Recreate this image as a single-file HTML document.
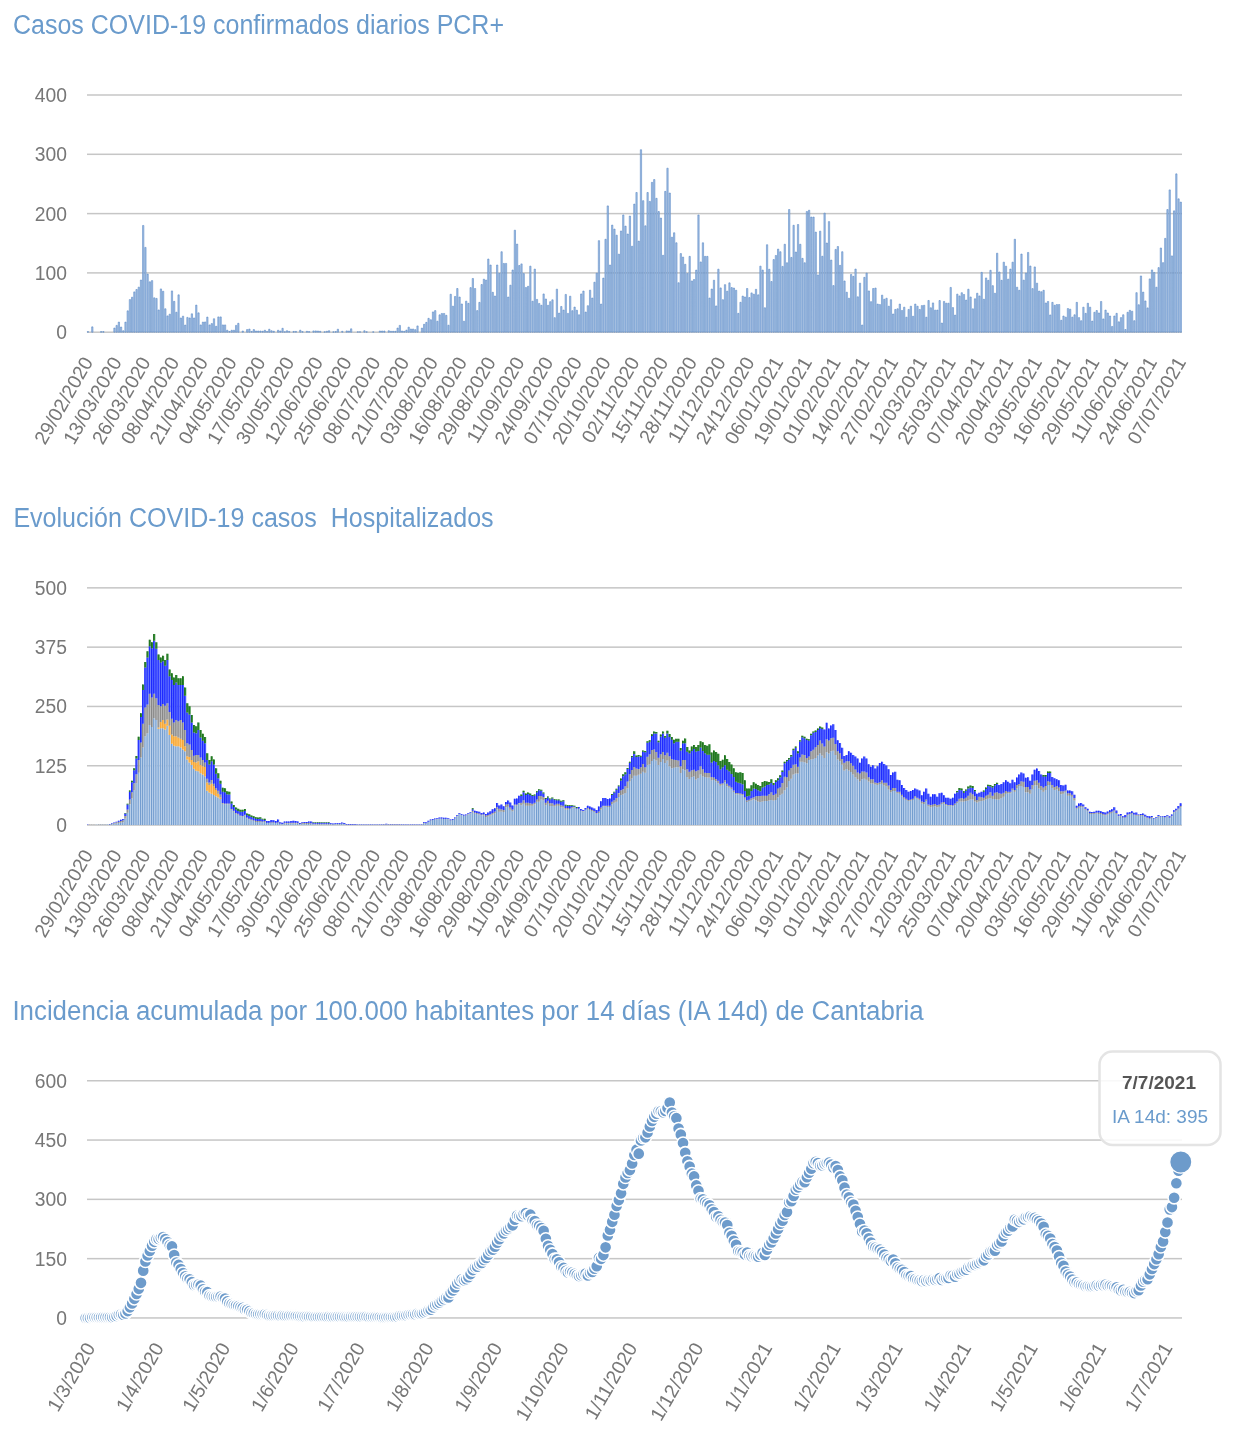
<!DOCTYPE html><html><head><meta charset="utf-8"><style>html,body{margin:0;padding:0;background:#fff;width:1243px;height:1440px;overflow:hidden}svg{position:absolute;left:0;top:0;will-change:transform}text{font-family:"Liberation Sans",sans-serif}</style></head><body><svg width="1243" height="1440" viewBox="0 0 1243 1440"><text x="13" y="34" font-size="27" fill="#6a9bcc" textLength="491" lengthAdjust="spacingAndGlyphs" style="white-space:pre">Casos COVID-19 confirmados diarios PCR+</text><text x="13.4" y="526.85" font-size="27" fill="#6a9bcc" textLength="480.2" lengthAdjust="spacingAndGlyphs" style="white-space:pre">Evolución COVID-19 casos  Hospitalizados</text><text x="12.4" y="1019.75" font-size="27" fill="#6a9bcc" textLength="911.2" lengthAdjust="spacingAndGlyphs" style="white-space:pre">Incidencia acumulada por 100.000 habitantes por 14 días (IA 14d) de Cantabria</text><rect x="87" y="94.25" width="1095" height="1.5" fill="#c6c6c6"/><text x="67" y="101.9" font-size="19.3" fill="#777777" text-anchor="end">400</text><rect x="87" y="153.55" width="1095" height="1.5" fill="#c6c6c6"/><text x="67" y="161.2" font-size="19.3" fill="#777777" text-anchor="end">300</text><rect x="87" y="212.85" width="1095" height="1.5" fill="#c6c6c6"/><text x="67" y="220.5" font-size="19.3" fill="#777777" text-anchor="end">200</text><rect x="87" y="272.15" width="1095" height="1.5" fill="#c6c6c6"/><text x="67" y="279.8" font-size="19.3" fill="#777777" text-anchor="end">100</text><rect x="87" y="331.45" width="1095" height="1.5" fill="#c6c6c6"/><text x="67" y="339.1" font-size="19.3" fill="#777777" text-anchor="end">0</text><rect x="87" y="587.1" width="1095" height="1.5" fill="#c6c6c6"/><text x="67" y="594.75" font-size="19.3" fill="#777777" text-anchor="end">500</text><rect x="87" y="646.4" width="1095" height="1.5" fill="#c6c6c6"/><text x="67" y="654.05" font-size="19.3" fill="#777777" text-anchor="end">375</text><rect x="87" y="705.7" width="1095" height="1.5" fill="#c6c6c6"/><text x="67" y="713.35" font-size="19.3" fill="#777777" text-anchor="end">250</text><rect x="87" y="765" width="1095" height="1.5" fill="#c6c6c6"/><text x="67" y="772.65" font-size="19.3" fill="#777777" text-anchor="end">125</text><rect x="87" y="824.3" width="1095" height="1.5" fill="#c6c6c6"/><text x="67" y="831.95" font-size="19.3" fill="#777777" text-anchor="end">0</text><rect x="87" y="1080" width="1095" height="1.5" fill="#c6c6c6"/><text x="67" y="1087.65" font-size="19.3" fill="#777777" text-anchor="end">600</text><rect x="87" y="1139.3" width="1095" height="1.5" fill="#c6c6c6"/><text x="67" y="1146.95" font-size="19.3" fill="#777777" text-anchor="end">450</text><rect x="87" y="1198.6" width="1095" height="1.5" fill="#c6c6c6"/><text x="67" y="1206.25" font-size="19.3" fill="#777777" text-anchor="end">300</text><rect x="87" y="1257.9" width="1095" height="1.5" fill="#c6c6c6"/><text x="67" y="1265.55" font-size="19.3" fill="#777777" text-anchor="end">150</text><rect x="87" y="1317.2" width="1095" height="1.5" fill="#c6c6c6"/><text x="67" y="1324.85" font-size="19.3" fill="#777777" text-anchor="end">0</text><text transform="translate(93.65 361.8) rotate(-60)" font-size="19.4" fill="#777777" text-anchor="end">29/02/2020</text><text transform="translate(122.41 361.8) rotate(-60)" font-size="19.4" fill="#777777" text-anchor="end">13/03/2020</text><text transform="translate(151.17 361.8) rotate(-60)" font-size="19.4" fill="#777777" text-anchor="end">26/03/2020</text><text transform="translate(179.93 361.8) rotate(-60)" font-size="19.4" fill="#777777" text-anchor="end">08/04/2020</text><text transform="translate(208.69 361.8) rotate(-60)" font-size="19.4" fill="#777777" text-anchor="end">21/04/2020</text><text transform="translate(237.45 361.8) rotate(-60)" font-size="19.4" fill="#777777" text-anchor="end">04/05/2020</text><text transform="translate(266.21 361.8) rotate(-60)" font-size="19.4" fill="#777777" text-anchor="end">17/05/2020</text><text transform="translate(294.97 361.8) rotate(-60)" font-size="19.4" fill="#777777" text-anchor="end">30/05/2020</text><text transform="translate(323.73 361.8) rotate(-60)" font-size="19.4" fill="#777777" text-anchor="end">12/06/2020</text><text transform="translate(352.49 361.8) rotate(-60)" font-size="19.4" fill="#777777" text-anchor="end">25/06/2020</text><text transform="translate(381.25 361.8) rotate(-60)" font-size="19.4" fill="#777777" text-anchor="end">08/07/2020</text><text transform="translate(410.01 361.8) rotate(-60)" font-size="19.4" fill="#777777" text-anchor="end">21/07/2020</text><text transform="translate(438.77 361.8) rotate(-60)" font-size="19.4" fill="#777777" text-anchor="end">03/08/2020</text><text transform="translate(467.53 361.8) rotate(-60)" font-size="19.4" fill="#777777" text-anchor="end">16/08/2020</text><text transform="translate(496.29 361.8) rotate(-60)" font-size="19.4" fill="#777777" text-anchor="end">29/08/2020</text><text transform="translate(525.05 361.8) rotate(-60)" font-size="19.4" fill="#777777" text-anchor="end">11/09/2020</text><text transform="translate(553.81 361.8) rotate(-60)" font-size="19.4" fill="#777777" text-anchor="end">24/09/2020</text><text transform="translate(582.57 361.8) rotate(-60)" font-size="19.4" fill="#777777" text-anchor="end">07/10/2020</text><text transform="translate(611.33 361.8) rotate(-60)" font-size="19.4" fill="#777777" text-anchor="end">20/10/2020</text><text transform="translate(640.09 361.8) rotate(-60)" font-size="19.4" fill="#777777" text-anchor="end">02/11/2020</text><text transform="translate(668.85 361.8) rotate(-60)" font-size="19.4" fill="#777777" text-anchor="end">15/11/2020</text><text transform="translate(697.61 361.8) rotate(-60)" font-size="19.4" fill="#777777" text-anchor="end">28/11/2020</text><text transform="translate(726.37 361.8) rotate(-60)" font-size="19.4" fill="#777777" text-anchor="end">11/12/2020</text><text transform="translate(755.13 361.8) rotate(-60)" font-size="19.4" fill="#777777" text-anchor="end">24/12/2020</text><text transform="translate(783.89 361.8) rotate(-60)" font-size="19.4" fill="#777777" text-anchor="end">06/01/2021</text><text transform="translate(812.65 361.8) rotate(-60)" font-size="19.4" fill="#777777" text-anchor="end">19/01/2021</text><text transform="translate(841.41 361.8) rotate(-60)" font-size="19.4" fill="#777777" text-anchor="end">01/02/2021</text><text transform="translate(870.17 361.8) rotate(-60)" font-size="19.4" fill="#777777" text-anchor="end">14/02/2021</text><text transform="translate(898.93 361.8) rotate(-60)" font-size="19.4" fill="#777777" text-anchor="end">27/02/2021</text><text transform="translate(927.69 361.8) rotate(-60)" font-size="19.4" fill="#777777" text-anchor="end">12/03/2021</text><text transform="translate(956.45 361.8) rotate(-60)" font-size="19.4" fill="#777777" text-anchor="end">25/03/2021</text><text transform="translate(985.21 361.8) rotate(-60)" font-size="19.4" fill="#777777" text-anchor="end">07/04/2021</text><text transform="translate(1013.97 361.8) rotate(-60)" font-size="19.4" fill="#777777" text-anchor="end">20/04/2021</text><text transform="translate(1042.73 361.8) rotate(-60)" font-size="19.4" fill="#777777" text-anchor="end">03/05/2021</text><text transform="translate(1071.49 361.8) rotate(-60)" font-size="19.4" fill="#777777" text-anchor="end">16/05/2021</text><text transform="translate(1100.25 361.8) rotate(-60)" font-size="19.4" fill="#777777" text-anchor="end">29/05/2021</text><text transform="translate(1129.01 361.8) rotate(-60)" font-size="19.4" fill="#777777" text-anchor="end">11/06/2021</text><text transform="translate(1157.77 361.8) rotate(-60)" font-size="19.4" fill="#777777" text-anchor="end">24/06/2021</text><text transform="translate(1186.53 361.8) rotate(-60)" font-size="19.4" fill="#777777" text-anchor="end">07/07/2021</text><text transform="translate(93.65 854.65) rotate(-60)" font-size="19.4" fill="#777777" text-anchor="end">29/02/2020</text><text transform="translate(122.41 854.65) rotate(-60)" font-size="19.4" fill="#777777" text-anchor="end">13/03/2020</text><text transform="translate(151.17 854.65) rotate(-60)" font-size="19.4" fill="#777777" text-anchor="end">26/03/2020</text><text transform="translate(179.93 854.65) rotate(-60)" font-size="19.4" fill="#777777" text-anchor="end">08/04/2020</text><text transform="translate(208.69 854.65) rotate(-60)" font-size="19.4" fill="#777777" text-anchor="end">21/04/2020</text><text transform="translate(237.45 854.65) rotate(-60)" font-size="19.4" fill="#777777" text-anchor="end">04/05/2020</text><text transform="translate(266.21 854.65) rotate(-60)" font-size="19.4" fill="#777777" text-anchor="end">17/05/2020</text><text transform="translate(294.97 854.65) rotate(-60)" font-size="19.4" fill="#777777" text-anchor="end">30/05/2020</text><text transform="translate(323.73 854.65) rotate(-60)" font-size="19.4" fill="#777777" text-anchor="end">12/06/2020</text><text transform="translate(352.49 854.65) rotate(-60)" font-size="19.4" fill="#777777" text-anchor="end">25/06/2020</text><text transform="translate(381.25 854.65) rotate(-60)" font-size="19.4" fill="#777777" text-anchor="end">08/07/2020</text><text transform="translate(410.01 854.65) rotate(-60)" font-size="19.4" fill="#777777" text-anchor="end">21/07/2020</text><text transform="translate(438.77 854.65) rotate(-60)" font-size="19.4" fill="#777777" text-anchor="end">03/08/2020</text><text transform="translate(467.53 854.65) rotate(-60)" font-size="19.4" fill="#777777" text-anchor="end">16/08/2020</text><text transform="translate(496.29 854.65) rotate(-60)" font-size="19.4" fill="#777777" text-anchor="end">29/08/2020</text><text transform="translate(525.05 854.65) rotate(-60)" font-size="19.4" fill="#777777" text-anchor="end">11/09/2020</text><text transform="translate(553.81 854.65) rotate(-60)" font-size="19.4" fill="#777777" text-anchor="end">24/09/2020</text><text transform="translate(582.57 854.65) rotate(-60)" font-size="19.4" fill="#777777" text-anchor="end">07/10/2020</text><text transform="translate(611.33 854.65) rotate(-60)" font-size="19.4" fill="#777777" text-anchor="end">20/10/2020</text><text transform="translate(640.09 854.65) rotate(-60)" font-size="19.4" fill="#777777" text-anchor="end">02/11/2020</text><text transform="translate(668.85 854.65) rotate(-60)" font-size="19.4" fill="#777777" text-anchor="end">15/11/2020</text><text transform="translate(697.61 854.65) rotate(-60)" font-size="19.4" fill="#777777" text-anchor="end">28/11/2020</text><text transform="translate(726.37 854.65) rotate(-60)" font-size="19.4" fill="#777777" text-anchor="end">11/12/2020</text><text transform="translate(755.13 854.65) rotate(-60)" font-size="19.4" fill="#777777" text-anchor="end">24/12/2020</text><text transform="translate(783.89 854.65) rotate(-60)" font-size="19.4" fill="#777777" text-anchor="end">06/01/2021</text><text transform="translate(812.65 854.65) rotate(-60)" font-size="19.4" fill="#777777" text-anchor="end">19/01/2021</text><text transform="translate(841.41 854.65) rotate(-60)" font-size="19.4" fill="#777777" text-anchor="end">01/02/2021</text><text transform="translate(870.17 854.65) rotate(-60)" font-size="19.4" fill="#777777" text-anchor="end">14/02/2021</text><text transform="translate(898.93 854.65) rotate(-60)" font-size="19.4" fill="#777777" text-anchor="end">27/02/2021</text><text transform="translate(927.69 854.65) rotate(-60)" font-size="19.4" fill="#777777" text-anchor="end">12/03/2021</text><text transform="translate(956.45 854.65) rotate(-60)" font-size="19.4" fill="#777777" text-anchor="end">25/03/2021</text><text transform="translate(985.21 854.65) rotate(-60)" font-size="19.4" fill="#777777" text-anchor="end">07/04/2021</text><text transform="translate(1013.97 854.65) rotate(-60)" font-size="19.4" fill="#777777" text-anchor="end">20/04/2021</text><text transform="translate(1042.73 854.65) rotate(-60)" font-size="19.4" fill="#777777" text-anchor="end">03/05/2021</text><text transform="translate(1071.49 854.65) rotate(-60)" font-size="19.4" fill="#777777" text-anchor="end">16/05/2021</text><text transform="translate(1100.25 854.65) rotate(-60)" font-size="19.4" fill="#777777" text-anchor="end">29/05/2021</text><text transform="translate(1129.01 854.65) rotate(-60)" font-size="19.4" fill="#777777" text-anchor="end">11/06/2021</text><text transform="translate(1157.77 854.65) rotate(-60)" font-size="19.4" fill="#777777" text-anchor="end">24/06/2021</text><text transform="translate(1186.53 854.65) rotate(-60)" font-size="19.4" fill="#777777" text-anchor="end">07/07/2021</text><text transform="translate(95.86 1347.55) rotate(-60)" font-size="19.4" fill="#777777" text-anchor="end">1/3/2020</text><text transform="translate(164.44 1347.55) rotate(-60)" font-size="19.4" fill="#777777" text-anchor="end">1/4/2020</text><text transform="translate(230.81 1347.55) rotate(-60)" font-size="19.4" fill="#777777" text-anchor="end">1/5/2020</text><text transform="translate(299.39 1347.55) rotate(-60)" font-size="19.4" fill="#777777" text-anchor="end">1/6/2020</text><text transform="translate(365.76 1347.55) rotate(-60)" font-size="19.4" fill="#777777" text-anchor="end">1/7/2020</text><text transform="translate(434.34 1347.55) rotate(-60)" font-size="19.4" fill="#777777" text-anchor="end">1/8/2020</text><text transform="translate(502.93 1347.55) rotate(-60)" font-size="19.4" fill="#777777" text-anchor="end">1/9/2020</text><text transform="translate(569.29 1347.55) rotate(-60)" font-size="19.4" fill="#777777" text-anchor="end">1/10/2020</text><text transform="translate(637.88 1347.55) rotate(-60)" font-size="19.4" fill="#777777" text-anchor="end">1/11/2020</text><text transform="translate(704.24 1347.55) rotate(-60)" font-size="19.4" fill="#777777" text-anchor="end">1/12/2020</text><text transform="translate(772.83 1347.55) rotate(-60)" font-size="19.4" fill="#777777" text-anchor="end">1/1/2021</text><text transform="translate(841.41 1347.55) rotate(-60)" font-size="19.4" fill="#777777" text-anchor="end">1/2/2021</text><text transform="translate(903.35 1347.55) rotate(-60)" font-size="19.4" fill="#777777" text-anchor="end">1/3/2021</text><text transform="translate(971.93 1347.55) rotate(-60)" font-size="19.4" fill="#777777" text-anchor="end">1/4/2021</text><text transform="translate(1038.3 1347.55) rotate(-60)" font-size="19.4" fill="#777777" text-anchor="end">1/5/2021</text><text transform="translate(1106.88 1347.55) rotate(-60)" font-size="19.4" fill="#777777" text-anchor="end">1/6/2021</text><text transform="translate(1173.25 1347.55) rotate(-60)" font-size="19.4" fill="#777777" text-anchor="end">1/7/2021</text><path d="M87.25 332.2h1.3v-0.59h-1.3zM91.67 332.2h1.3v-5.34h-1.3zM100.52 332.2h1.3v-0.59h-1.3zM102.74 332.2h1.3v-0.59h-1.3zM113.8 332.2h1.3v-4.15h-1.3zM116.01 332.2h1.3v-6.82h-1.3zM118.22 332.2h1.3v-10.08h-1.3zM120.43 332.2h1.3v-5.16h-1.3zM122.65 332.2h1.3v-1.48h-1.3zM124.86 332.2h1.3v-10.08h-1.3zM127.07 332.2h1.3v-21.35h-1.3zM129.28 332.2h1.3v-32.61h-1.3zM131.5 332.2h1.3v-34.99h-1.3zM133.71 332.2h1.3v-40.32h-1.3zM135.92 332.2h1.3v-42.7h-1.3zM138.13 332.2h1.3v-45.07h-1.3zM140.35 332.2h1.3v-52.18h-1.3zM142.56 332.2h1.3v-106.74h-1.3zM144.77 332.2h1.3v-84.8h-1.3zM146.98 332.2h1.3v-58.11h-1.3zM149.19 332.2h1.3v-50.41h-1.3zM151.41 332.2h1.3v-51.59h-1.3zM153.62 332.2h1.3v-34.39h-1.3zM155.83 332.2h1.3v-33.8h-1.3zM158.04 332.2h1.3v-22.24h-1.3zM160.26 332.2h1.3v-43.29h-1.3zM162.47 332.2h1.3v-40.92h-1.3zM164.68 332.2h1.3v-23.42h-1.3zM166.89 332.2h1.3v-16.31h-1.3zM169.11 332.2h1.3v-18.03h-1.3zM171.32 332.2h1.3v-41.27h-1.3zM173.53 332.2h1.3v-30.84h-1.3zM175.74 332.2h1.3v-19.98h-1.3zM177.95 332.2h1.3v-37.36h-1.3zM180.17 332.2h1.3v-14.23h-1.3zM182.38 332.2h1.3v-16.01h-1.3zM184.59 332.2h1.3v-7.12h-1.3zM186.8 332.2h1.3v-14.82h-1.3zM189.02 332.2h1.3v-14.23h-1.3zM191.23 332.2h1.3v-18.38h-1.3zM193.44 332.2h1.3v-14.23h-1.3zM195.65 332.2h1.3v-27.1h-1.3zM197.86 332.2h1.3v-19.33h-1.3zM200.08 332.2h1.3v-7.29h-1.3zM202.29 332.2h1.3v-10.08h-1.3zM204.5 332.2h1.3v-10.26h-1.3zM206.71 332.2h1.3v-15.12h-1.3zM208.93 332.2h1.3v-7.29h-1.3zM211.14 332.2h1.3v-8.6h-1.3zM213.35 332.2h1.3v-13.46h-1.3zM215.56 332.2h1.3v-5.93h-1.3zM217.78 332.2h1.3v-15.3h-1.3zM219.99 332.2h1.3v-15.3h-1.3zM222.2 332.2h1.3v-7.29h-1.3zM224.41 332.2h1.3v-7.29h-1.3zM226.62 332.2h1.3v-1.96h-1.3zM228.84 332.2h1.3v-0.77h-1.3zM231.05 332.2h1.3v-1.96h-1.3zM233.26 332.2h1.3v-1.96h-1.3zM235.47 332.2h1.3v-6.82h-1.3zM237.69 332.2h1.3v-8.89h-1.3zM242.11 332.2h1.3v-1.19h-1.3zM246.54 332.2h1.3v-2.61h-1.3zM248.75 332.2h1.3v-3.14h-1.3zM250.96 332.2h1.3v-0.77h-1.3zM253.17 332.2h1.3v-2.61h-1.3zM255.38 332.2h1.3v-1.19h-1.3zM257.6 332.2h1.3v-1.19h-1.3zM259.81 332.2h1.3v-1.19h-1.3zM262.02 332.2h1.3v-0.95h-1.3zM264.23 332.2h1.3v-1.96h-1.3zM266.45 332.2h1.3v-0.77h-1.3zM268.66 332.2h1.3v-2.96h-1.3zM270.87 332.2h1.3v-1.48h-1.3zM273.08 332.2h1.3v-0.95h-1.3zM277.51 332.2h1.3v-1.96h-1.3zM279.72 332.2h1.3v-1.19h-1.3zM281.93 332.2h1.3v-3.91h-1.3zM284.14 332.2h1.3v-0.47h-1.3zM286.36 332.2h1.3v-1.48h-1.3zM288.57 332.2h1.3v-0.77h-1.3zM292.99 332.2h1.3v-0.77h-1.3zM295.21 332.2h1.3v-0.77h-1.3zM299.63 332.2h1.3v-2.02h-1.3zM301.84 332.2h1.3v-0.59h-1.3zM306.27 332.2h1.3v-0.89h-1.3zM308.48 332.2h1.3v-0.59h-1.3zM312.9 332.2h1.3v-1.3h-1.3zM315.12 332.2h1.3v-1.3h-1.3zM317.33 332.2h1.3v-1.19h-1.3zM319.54 332.2h1.3v-0.89h-1.3zM323.97 332.2h1.3v-0.42h-1.3zM326.18 332.2h1.3v-0.89h-1.3zM328.39 332.2h1.3v-1.48h-1.3zM332.82 332.2h1.3v-0.42h-1.3zM335.03 332.2h1.3v-0.59h-1.3zM337.24 332.2h1.3v-2.96h-1.3zM341.66 332.2h1.3v-0.89h-1.3zM346.09 332.2h1.3v-1.3h-1.3zM348.3 332.2h1.3v-1.19h-1.3zM350.51 332.2h1.3v-3.38h-1.3zM357.15 332.2h1.3v-0.42h-1.3zM359.36 332.2h1.3v-0.42h-1.3zM363.79 332.2h1.3v-1.48h-1.3zM366 332.2h1.3v-0.42h-1.3zM372.64 332.2h1.3v-0.42h-1.3zM379.27 332.2h1.3v-1.19h-1.3zM381.49 332.2h1.3v-1.19h-1.3zM383.7 332.2h1.3v-1.19h-1.3zM388.12 332.2h1.3v-1.48h-1.3zM390.34 332.2h1.3v-0.89h-1.3zM392.55 332.2h1.3v-0.89h-1.3zM394.76 332.2h1.3v-0.89h-1.3zM396.97 332.2h1.3v-4.15h-1.3zM399.18 332.2h1.3v-6.82h-1.3zM401.4 332.2h1.3v-1.19h-1.3zM403.61 332.2h1.3v-0.89h-1.3zM405.82 332.2h1.3v-2.08h-1.3zM408.03 332.2h1.3v-5.04h-1.3zM410.25 332.2h1.3v-3.2h-1.3zM412.46 332.2h1.3v-3.2h-1.3zM414.67 332.2h1.3v-2.55h-1.3zM416.88 332.2h1.3v-6.29h-1.3zM421.31 332.2h1.3v-4.09h-1.3zM423.52 332.2h1.3v-7.89h-1.3zM425.73 332.2h1.3v-9.84h-1.3zM427.94 332.2h1.3v-13.88h-1.3zM430.16 332.2h1.3v-12.45h-1.3zM432.37 332.2h1.3v-20.28h-1.3zM434.58 332.2h1.3v-21.59h-1.3zM436.79 332.2h1.3v-10.97h-1.3zM439.01 332.2h1.3v-17.37h-1.3zM441.22 332.2h1.3v-18.74h-1.3zM443.43 332.2h1.3v-18.74h-1.3zM445.64 332.2h1.3v-16.9h-1.3zM447.85 332.2h1.3v-7h-1.3zM450.07 332.2h1.3v-37.95h-1.3zM452.28 332.2h1.3v-26.03h-1.3zM454.49 332.2h1.3v-35.76h-1.3zM456.7 332.2h1.3v-43.7h-1.3zM458.92 332.2h1.3v-35.16h-1.3zM461.13 332.2h1.3v-28.23h-1.3zM463.34 332.2h1.3v-10.97h-1.3zM465.55 332.2h1.3v-31.07h-1.3zM467.77 332.2h1.3v-28.88h-1.3zM469.98 332.2h1.3v-44.59h-1.3zM472.19 332.2h1.3v-53.73h-1.3zM474.4 332.2h1.3v-43.7h-1.3zM476.61 332.2h1.3v-21.59h-1.3zM478.83 332.2h1.3v-29.83h-1.3zM481.04 332.2h1.3v-47.68h-1.3zM483.25 332.2h1.3v-53.01h-1.3zM485.46 332.2h1.3v-52.12h-1.3zM487.68 332.2h1.3v-73.18h-1.3zM489.89 332.2h1.3v-67.19h-1.3zM492.1 332.2h1.3v-39.91h-1.3zM494.31 332.2h1.3v-36.17h-1.3zM496.53 332.2h1.3v-67.19h-1.3zM498.74 332.2h1.3v-58.77h-1.3zM500.95 332.2h1.3v-80.47h-1.3zM503.16 332.2h1.3v-68.79h-1.3zM505.37 332.2h1.3v-68.79h-1.3zM507.59 332.2h1.3v-35.16h-1.3zM509.8 332.2h1.3v-47.02h-1.3zM512.01 332.2h1.3v-62.21h-1.3zM514.22 332.2h1.3v-102h-1.3zM516.44 332.2h1.3v-88.12h-1.3zM518.65 332.2h1.3v-66.71h-1.3zM520.86 332.2h1.3v-68.31h-1.3zM523.07 332.2h1.3v-58.59h-1.3zM525.29 332.2h1.3v-44.77h-1.3zM527.5 332.2h1.3v-45.9h-1.3zM529.71 332.2h1.3v-66.06h-1.3zM531.92 332.2h1.3v-31.01h-1.3zM534.13 332.2h1.3v-63.1h-1.3zM536.35 332.2h1.3v-32.79h-1.3zM538.56 332.2h1.3v-28.76h-1.3zM540.77 332.2h1.3v-26.92h-1.3zM542.98 332.2h1.3v-38.25h-1.3zM545.2 332.2h1.3v-33.21h-1.3zM547.41 332.2h1.3v-26.92h-1.3zM549.62 332.2h1.3v-30.54h-1.3zM551.83 332.2h1.3v-32.38h-1.3zM554.05 332.2h1.3v-14.53h-1.3zM556.26 332.2h1.3v-43.05h-1.3zM558.47 332.2h1.3v-19.09h-1.3zM560.68 332.2h1.3v-25.74h-1.3zM562.89 332.2h1.3v-22.12h-1.3zM565.11 332.2h1.3v-37.77h-1.3zM567.32 332.2h1.3v-18.8h-1.3zM569.53 332.2h1.3v-36h-1.3zM571.74 332.2h1.3v-21.53h-1.3zM573.96 332.2h1.3v-25.14h-1.3zM576.17 332.2h1.3v-21.94h-1.3zM578.38 332.2h1.3v-17.43h-1.3zM580.59 332.2h1.3v-38.25h-1.3zM582.81 332.2h1.3v-41.15h-1.3zM585.02 332.2h1.3v-20.16h-1.3zM587.23 332.2h1.3v-26.51h-1.3zM589.44 332.2h1.3v-42.04h-1.3zM591.65 332.2h1.3v-34.16h-1.3zM593.87 332.2h1.3v-49.99h-1.3zM596.08 332.2h1.3v-59h-1.3zM598.29 332.2h1.3v-91.56h-1.3zM600.5 332.2h1.3v-28.11h-1.3zM602.72 332.2h1.3v-54.08h-1.3zM604.93 332.2h1.3v-92.92h-1.3zM607.14 332.2h1.3v-126.31h-1.3zM609.35 332.2h1.3v-67.19h-1.3zM611.57 332.2h1.3v-107.1h-1.3zM613.78 332.2h1.3v-103.12h-1.3zM615.99 332.2h1.3v-97.01h-1.3zM618.2 332.2h1.3v-78.04h-1.3zM620.41 332.2h1.3v-101.23h-1.3zM622.63 332.2h1.3v-117.24h-1.3zM624.84 332.2h1.3v-106.09h-1.3zM627.05 332.2h1.3v-98.2h-1.3zM629.26 332.2h1.3v-116.11h-1.3zM631.48 332.2h1.3v-85.98h-1.3zM633.69 332.2h1.3v-128.09h-1.3zM635.9 332.2h1.3v-139.71h-1.3zM638.11 332.2h1.3v-91.08h-1.3zM640.32 332.2h1.3v-182.47h-1.3zM642.54 332.2h1.3v-131.53h-1.3zM644.75 332.2h1.3v-106.38h-1.3zM646.96 332.2h1.3v-139.71h-1.3zM649.17 332.2h1.3v-130.82h-1.3zM651.39 332.2h1.3v-149.85h-1.3zM653.6 332.2h1.3v-152.64h-1.3zM655.81 332.2h1.3v-133.9h-1.3zM658.02 332.2h1.3v-120.68h-1.3zM660.24 332.2h1.3v-114.15h-1.3zM662.45 332.2h1.3v-76.91h-1.3zM664.66 332.2h1.3v-140.84h-1.3zM666.87 332.2h1.3v-164.02h-1.3zM669.08 332.2h1.3v-139.18h-1.3zM671.3 332.2h1.3v-95h-1.3zM673.51 332.2h1.3v-99.45h-1.3zM675.72 332.2h1.3v-89.42h-1.3zM677.93 332.2h1.3v-49.46h-1.3zM680.15 332.2h1.3v-78.63h-1.3zM682.36 332.2h1.3v-75.13h-1.3zM684.57 332.2h1.3v-67.9h-1.3zM686.78 332.2h1.3v-58.59h-1.3zM689 332.2h1.3v-75.84h-1.3zM691.21 332.2h1.3v-51.24h-1.3zM693.42 332.2h1.3v-52.66h-1.3zM695.63 332.2h1.3v-62.09h-1.3zM697.84 332.2h1.3v-117.24h-1.3zM700.06 332.2h1.3v-70.27h-1.3zM702.27 332.2h1.3v-89.42h-1.3zM704.48 332.2h1.3v-75.84h-1.3zM706.69 332.2h1.3v-75.84h-1.3zM708.91 332.2h1.3v-34.16h-1.3zM711.12 332.2h1.3v-43.17h-1.3zM713.33 332.2h1.3v-51.95h-1.3zM715.54 332.2h1.3v-26.27h-1.3zM717.76 332.2h1.3v-63.04h-1.3zM719.97 332.2h1.3v-44.3h-1.3zM722.18 332.2h1.3v-32.5h-1.3zM724.39 332.2h1.3v-47.56h-1.3zM726.6 332.2h1.3v-41.04h-1.3zM728.82 332.2h1.3v-49.34h-1.3zM731.03 332.2h1.3v-44.65h-1.3zM733.24 332.2h1.3v-44.18h-1.3zM735.45 332.2h1.3v-41.93h-1.3zM737.67 332.2h1.3v-18.86h-1.3zM739.88 332.2h1.3v-29.89h-1.3zM742.09 332.2h1.3v-36.11h-1.3zM744.3 332.2h1.3v-35.22h-1.3zM746.52 332.2h1.3v-43.7h-1.3zM748.73 332.2h1.3v-34.63h-1.3zM750.94 332.2h1.3v-39.32h-1.3zM753.15 332.2h1.3v-38.01h-1.3zM755.36 332.2h1.3v-42.87h-1.3zM757.58 332.2h1.3v-37.36h-1.3zM759.79 332.2h1.3v-66.06h-1.3zM762 332.2h1.3v-62.15h-1.3zM764.21 332.2h1.3v-24.43h-1.3zM766.43 332.2h1.3v-87.47h-1.3zM768.64 332.2h1.3v-62.92h-1.3zM770.85 332.2h1.3v-50.7h-1.3zM773.06 332.2h1.3v-72.64h-1.3zM775.28 332.2h1.3v-76.73h-1.3zM777.49 332.2h1.3v-83.08h-1.3zM779.7 332.2h1.3v-80.47h-1.3zM781.91 332.2h1.3v-65.82h-1.3zM784.12 332.2h1.3v-87.94h-1.3zM786.34 332.2h1.3v-69.44h-1.3zM788.55 332.2h1.3v-122.69h-1.3zM790.76 332.2h1.3v-74.78h-1.3zM792.97 332.2h1.3v-106.92h-1.3zM795.19 332.2h1.3v-80.17h-1.3zM797.4 332.2h1.3v-107.69h-1.3zM799.61 332.2h1.3v-87.94h-1.3zM801.82 332.2h1.3v-73.83h-1.3zM804.04 332.2h1.3v-69.44h-1.3zM806.25 332.2h1.3v-120.73h-1.3zM808.46 332.2h1.3v-121.98h-1.3zM810.67 332.2h1.3v-115.16h-1.3zM812.88 332.2h1.3v-115.16h-1.3zM815.1 332.2h1.3v-100.1h-1.3zM817.31 332.2h1.3v-57.28h-1.3zM819.52 332.2h1.3v-101.05h-1.3zM821.73 332.2h1.3v-75.96h-1.3zM823.95 332.2h1.3v-119.07h-1.3zM826.16 332.2h1.3v-89.19h-1.3zM828.37 332.2h1.3v-110.59h-1.3zM830.58 332.2h1.3v-72.11h-1.3zM832.8 332.2h1.3v-46.61h-1.3zM835.01 332.2h1.3v-82.78h-1.3zM837.22 332.2h1.3v-85.69h-1.3zM839.43 332.2h1.3v-66.83h-1.3zM841.64 332.2h1.3v-80.47h-1.3zM843.86 332.2h1.3v-51.24h-1.3zM846.07 332.2h1.3v-39.97h-1.3zM848.28 332.2h1.3v-33.98h-1.3zM850.49 332.2h1.3v-57.76h-1.3zM852.71 332.2h1.3v-55.86h-1.3zM854.92 332.2h1.3v-63.15h-1.3zM857.13 332.2h1.3v-35.4h-1.3zM859.34 332.2h1.3v-49.04h-1.3zM861.55 332.2h1.3v-7.18h-1.3zM863.77 332.2h1.3v-54.85h-1.3zM865.98 332.2h1.3v-59.06h-1.3zM868.19 332.2h1.3v-41.27h-1.3zM870.4 332.2h1.3v-30.54h-1.3zM872.62 332.2h1.3v-43.7h-1.3zM874.83 332.2h1.3v-44.18h-1.3zM877.04 332.2h1.3v-28.11h-1.3zM879.25 332.2h1.3v-27.63h-1.3zM881.47 332.2h1.3v-37.06h-1.3zM883.68 332.2h1.3v-32.97h-1.3zM885.89 332.2h1.3v-33.98h-1.3zM888.1 332.2h1.3v-25.97h-1.3zM890.31 332.2h1.3v-32.5h-1.3zM892.53 332.2h1.3v-18.21h-1.3zM894.74 332.2h1.3v-22.77h-1.3zM896.95 332.2h1.3v-23.42h-1.3zM899.16 332.2h1.3v-28.11h-1.3zM901.38 332.2h1.3v-21.76h-1.3zM903.59 332.2h1.3v-25.02h-1.3zM905.8 332.2h1.3v-15h-1.3zM908.01 332.2h1.3v-22.77h-1.3zM910.23 332.2h1.3v-25.97h-1.3zM912.44 332.2h1.3v-15.95h-1.3zM914.65 332.2h1.3v-28.11h-1.3zM916.86 332.2h1.3v-25.97h-1.3zM919.07 332.2h1.3v-22.77h-1.3zM921.29 332.2h1.3v-26.63h-1.3zM923.5 332.2h1.3v-26.92h-1.3zM925.71 332.2h1.3v-15h-1.3zM927.92 332.2h1.3v-31.73h-1.3zM930.14 332.2h1.3v-24.43h-1.3zM932.35 332.2h1.3v-29.29h-1.3zM934.56 332.2h1.3v-22.06h-1.3zM936.77 332.2h1.3v-22.12h-1.3zM938.99 332.2h1.3v-31.67h-1.3zM941.2 332.2h1.3v-9.13h-1.3zM943.41 332.2h1.3v-30.78h-1.3zM945.62 332.2h1.3v-29h-1.3zM947.83 332.2h1.3v-29h-1.3zM950.05 332.2h1.3v-44.77h-1.3zM952.26 332.2h1.3v-24.61h-1.3zM954.47 332.2h1.3v-17.08h-1.3zM956.68 332.2h1.3v-38.07h-1.3zM958.9 332.2h1.3v-36.29h-1.3zM961.11 332.2h1.3v-39.49h-1.3zM963.32 332.2h1.3v-37.71h-1.3zM965.53 332.2h1.3v-32.08h-1.3zM967.75 332.2h1.3v-42.99h-1.3zM969.96 332.2h1.3v-35.22h-1.3zM972.17 332.2h1.3v-23.36h-1.3zM974.38 332.2h1.3v-33.45h-1.3zM976.59 332.2h1.3v-38.96h-1.3zM978.81 332.2h1.3v-36.29h-1.3zM981.02 332.2h1.3v-59.83h-1.3zM983.23 332.2h1.3v-32.97h-1.3zM985.44 332.2h1.3v-54.26h-1.3zM987.66 332.2h1.3v-51.89h-1.3zM989.87 332.2h1.3v-61.91h-1.3zM992.08 332.2h1.3v-46.55h-1.3zM994.29 332.2h1.3v-38.96h-1.3zM996.51 332.2h1.3v-78.99h-1.3zM998.72 332.2h1.3v-60.19h-1.3zM1000.93 332.2h1.3v-51.89h-1.3zM1003.14 332.2h1.3v-70.03h-1.3zM1005.35 332.2h1.3v-66h-1.3zM1007.57 332.2h1.3v-53.07h-1.3zM1009.78 332.2h1.3v-63.1h-1.3zM1011.99 332.2h1.3v-70.03h-1.3zM1014.2 332.2h1.3v-92.92h-1.3zM1016.42 332.2h1.3v-45.01h-1.3zM1018.63 332.2h1.3v-41.93h-1.3zM1020.84 332.2h1.3v-78.16h-1.3zM1023.05 332.2h1.3v-52.07h-1.3zM1025.27 332.2h1.3v-59.12h-1.3zM1027.48 332.2h1.3v-79.76h-1.3zM1029.69 332.2h1.3v-66.18h-1.3zM1031.9 332.2h1.3v-43.59h-1.3zM1034.11 332.2h1.3v-65.29h-1.3zM1036.33 332.2h1.3v-49.04h-1.3zM1038.54 332.2h1.3v-41.09h-1.3zM1040.75 332.2h1.3v-40.44h-1.3zM1042.96 332.2h1.3v-41.93h-1.3zM1045.18 332.2h1.3v-29.23h-1.3zM1047.39 332.2h1.3v-30.72h-1.3zM1049.6 332.2h1.3v-17.26h-1.3zM1051.81 332.2h1.3v-29.83h-1.3zM1054.03 332.2h1.3v-26.98h-1.3zM1056.24 332.2h1.3v-27.69h-1.3zM1058.45 332.2h1.3v-27.69h-1.3zM1060.66 332.2h1.3v-11.92h-1.3zM1062.87 332.2h1.3v-16.19h-1.3zM1065.09 332.2h1.3v-15.06h-1.3zM1067.3 332.2h1.3v-23.66h-1.3zM1069.51 332.2h1.3v-23.01h-1.3zM1071.72 332.2h1.3v-15.06h-1.3zM1073.94 332.2h1.3v-17.43h-1.3zM1076.15 332.2h1.3v-29.83h-1.3zM1078.36 332.2h1.3v-14.59h-1.3zM1080.57 332.2h1.3v-11.5h-1.3zM1082.78 332.2h1.3v-25.02h-1.3zM1085 332.2h1.3v-18.86h-1.3zM1087.21 332.2h1.3v-28.94h-1.3zM1089.42 332.2h1.3v-25.02h-1.3zM1091.63 332.2h1.3v-11.09h-1.3zM1093.85 332.2h1.3v-19.92h-1.3zM1096.06 332.2h1.3v-21.7h-1.3zM1098.27 332.2h1.3v-19.21h-1.3zM1100.48 332.2h1.3v-30.72h-1.3zM1102.7 332.2h1.3v-13.28h-1.3zM1104.91 332.2h1.3v-22.12h-1.3zM1107.12 332.2h1.3v-19.21h-1.3zM1109.33 332.2h1.3v-16.19h-1.3zM1111.54 332.2h1.3v-5.75h-1.3zM1113.76 332.2h1.3v-16.19h-1.3zM1115.97 332.2h1.3v-18.86h-1.3zM1118.18 332.2h1.3v-10.38h-1.3zM1120.39 332.2h1.3v-14.59h-1.3zM1122.61 332.2h1.3v-17.43h-1.3zM1124.82 332.2h1.3v-2.67h-1.3zM1127.03 332.2h1.3v-19.92h-1.3zM1129.24 332.2h1.3v-21.88h-1.3zM1131.46 332.2h1.3v-20.99h-1.3zM1133.67 332.2h1.3v-11.5h-1.3zM1135.88 332.2h1.3v-39.55h-1.3zM1138.09 332.2h1.3v-27.46h-1.3zM1140.3 332.2h1.3v-56.22h-1.3zM1142.52 332.2h1.3v-40.09h-1.3zM1144.73 332.2h1.3v-31.25h-1.3zM1146.94 332.2h1.3v-24.31h-1.3zM1149.15 332.2h1.3v-53.31h-1.3zM1151.37 332.2h1.3v-62.27h-1.3zM1153.58 332.2h1.3v-59.77h-1.3zM1155.79 332.2h1.3v-45.01h-1.3zM1158 332.2h1.3v-64.58h-1.3zM1160.22 332.2h1.3v-84.21h-1.3zM1162.43 332.2h1.3v-69.56h-1.3zM1164.64 332.2h1.3v-93.81h-1.3zM1166.85 332.2h1.3v-122.63h-1.3zM1169.06 332.2h1.3v-142.32h-1.3zM1171.28 332.2h1.3v-76.32h-1.3zM1173.49 332.2h1.3v-121.33h-1.3zM1175.7 332.2h1.3v-158.33h-1.3zM1177.91 332.2h1.3v-133.37h-1.3zM1180.13 332.2h1.3v-130.1h-1.3z" fill="#a8c3e5" stroke="#5083c2" stroke-width="0.55"/><path d="M89.11 825.05h2v-0.05h-2zM91.32 825.05h2v-0.09h-2zM93.54 825.05h2v-0.14h-2zM95.75 825.05h2v-0.19h-2zM97.96 825.05h2v-0.24h-2zM100.17 825.05h2v-0.28h-2zM102.39 825.05h2v-0.33h-2zM104.6 825.05h2v-0.38h-2zM106.81 825.05h2v-0.43h-2zM109.02 825.05h2v-0.47h-2zM111.24 825.05h2v-0.87h-2zM113.45 825.05h2v-1.27h-2zM115.66 825.05h2v-1.66h-2zM117.87 825.05h2v-2.06h-2zM120.08 825.05h2v-2.45h-2zM122.3 825.05h2v-2.85h-2zM124.51 825.05h2v-6.64h-2zM126.72 825.05h2v-12.33h-2zM128.93 825.05h2v-20.87h-2zM131.15 825.05h2v-26.57h-2zM133.36 825.05h2v-34.63h-2zM135.57 825.05h2v-41.75h-2zM137.78 825.05h2v-52.18h-2zM140 825.05h2v-67.51h-2zM142.21 825.05h2v-77.52h-2zM144.42 825.05h2v-88.71h-2zM146.63 825.05h2v-91.89h-2zM148.84 825.05h2v-100h-2zM151.06 825.05h2v-98.15h-2zM153.27 825.05h2v-106.88h-2zM155.48 825.05h2v-104.98h-2zM157.69 825.05h2v-96.26h-2zM159.91 825.05h2v-96.87h-2zM162.12 825.05h2v-96.87h-2zM164.33 825.05h2v-95.64h-2zM166.54 825.05h2v-99.39h-2zM168.76 825.05h2v-89.99h-2zM170.97 825.05h2v-81.26h-2zM173.18 825.05h2v-79.37h-2zM175.39 825.05h2v-78.75h-2zM177.6 825.05h2v-78.75h-2zM179.82 825.05h2v-77.52h-2zM182.03 825.05h2v-75.62h-2zM184.24 825.05h2v-73.77h-2zM186.45 825.05h2v-65.61h-2zM188.67 825.05h2v-62.53h-2zM190.88 825.05h2v-60.01h-2zM193.09 825.05h2v-56.26h-2zM195.3 825.05h2v-54.37h-2zM197.51 825.05h2v-53.75h-2zM199.73 825.05h2v-51.9h-2zM201.94 825.05h2v-50.62h-2zM204.15 825.05h2v-48.77h-2zM206.36 825.05h2v-34.39h-2zM208.58 825.05h2v-32.5h-2zM210.79 825.05h2v-31.26h-2zM213 825.05h2v-29.98h-2zM215.21 825.05h2v-28.75h-2zM217.43 825.05h2v-27.52h-2zM219.64 825.05h2v-26.09h-2zM221.85 825.05h2v-21.24h-2zM224.06 825.05h2v-20.84h-2zM226.27 825.05h2v-20.84h-2zM228.49 825.05h2v-20.84h-2zM230.7 825.05h2v-15.2h-2zM232.91 825.05h2v-13.6h-2zM235.12 825.05h2v-11.18h-2zM237.34 825.05h2v-10.38h-2zM239.55 825.05h2v-8.77h-2zM241.76 825.05h2v-8.37h-2zM243.97 825.05h2v-9.57h-2zM246.19 825.05h2v-6.76h-2zM248.4 825.05h2v-5.55h-2zM250.61 825.05h2v-4.75h-2zM252.82 825.05h2v-3.94h-2zM255.03 825.05h2v-3.14h-2zM257.25 825.05h2v-3.14h-2zM259.46 825.05h2v-3.14h-2zM261.67 825.05h2v-2.74h-2zM263.88 825.05h2v-3.14h-2zM266.1 825.05h2v-1.93h-2zM268.31 825.05h2v-1.93h-2zM270.52 825.05h2v-1.93h-2zM272.73 825.05h2v-1.93h-2zM274.95 825.05h2v-1.93h-2zM277.16 825.05h2v-1.93h-2zM279.37 825.05h2v-1.12h-2zM281.58 825.05h2v-0.73h-2zM283.79 825.05h2v-1.53h-2zM286.01 825.05h2v-1.53h-2zM288.22 825.05h2v-1.53h-2zM290.43 825.05h2v-1.53h-2zM292.64 825.05h2v-1.53h-2zM294.86 825.05h2v-1.53h-2zM297.07 825.05h2v-1.53h-2zM299.28 825.05h2v-0.73h-2zM301.49 825.05h2v-1.12h-2zM303.71 825.05h2v-1.12h-2zM305.92 825.05h2v-1.12h-2zM308.13 825.05h2v-1.12h-2zM310.34 825.05h2v-1.39h-2zM312.55 825.05h2v-0.87h-2zM314.77 825.05h2v-0.87h-2zM316.98 825.05h2v-0.87h-2zM319.19 825.05h2v-0.87h-2zM321.4 825.05h2v-0.87h-2zM323.62 825.05h2v-0.87h-2zM325.83 825.05h2v-0.87h-2zM328.04 825.05h2v-0.87h-2zM330.25 825.05h2v-0.68h-2zM332.47 825.05h2v-0.61h-2zM334.68 825.05h2v-0.68h-2zM336.89 825.05h2v-0.74h-2zM339.1 825.05h2v-0.68h-2zM341.31 825.05h2v-1.06h-2zM343.53 825.05h2v-0.83h-2zM345.74 825.05h2v-0.42h-2zM347.95 825.05h2v-0.42h-2zM350.16 825.05h2v-0.42h-2zM352.38 825.05h2v-0.42h-2zM354.59 825.05h2v-0.42h-2zM356.8 825.05h2v-0.19h-2zM359.01 825.05h2v-0.19h-2zM361.23 825.05h2v-0.19h-2zM363.44 825.05h2v-0.19h-2zM365.65 825.05h2v-0.19h-2zM367.86 825.05h2v-0.19h-2zM370.07 825.05h2v-0.19h-2zM372.29 825.05h2v-0.19h-2zM374.5 825.05h2v-0.19h-2zM376.71 825.05h2v-0.19h-2zM378.92 825.05h2v-0.19h-2zM381.14 825.05h2v-0.19h-2zM383.35 825.05h2v-0.36h-2zM385.56 825.05h2v-0.51h-2zM387.77 825.05h2v-0.36h-2zM389.99 825.05h2v-0.36h-2zM392.2 825.05h2v-0.36h-2zM394.41 825.05h2v-0.36h-2zM396.62 825.05h2v-0.36h-2zM398.83 825.05h2v-0.36h-2zM401.05 825.05h2v-0.31h-2zM403.26 825.05h2v-0.31h-2zM405.47 825.05h2v-0.31h-2zM407.68 825.05h2v-0.31h-2zM409.9 825.05h2v-0.31h-2zM412.11 825.05h2v-0.31h-2zM414.32 825.05h2v-0.31h-2zM416.53 825.05h2v-0.31h-2zM418.75 825.05h2v-0.31h-2zM420.96 825.05h2v-0.31h-2zM423.17 825.05h2v-1.9h-2zM425.38 825.05h2v-1.57h-2zM427.59 825.05h2v-3.13h-2zM429.81 825.05h2v-4.41h-2zM432.02 825.05h2v-5.03h-2zM434.23 825.05h2v-5.46h-2zM436.44 825.05h2v-5.79h-2zM438.66 825.05h2v-6.31h-2zM440.87 825.05h2v-6.31h-2zM443.08 825.05h2v-6.07h-2zM445.29 825.05h2v-6.07h-2zM447.5 825.05h2v-5.79h-2zM449.72 825.05h2v-4.41h-2zM451.93 825.05h2v-5.03h-2zM454.14 825.05h2v-6.5h-2zM456.35 825.05h2v-8.92h-2zM458.57 825.05h2v-11.01h-2zM460.78 825.05h2v-9.96h-2zM462.99 825.05h2v-9.2h-2zM465.2 825.05h2v-9.44h-2zM467.42 825.05h2v-10.67h-2zM469.63 825.05h2v-11.72h-2zM471.84 825.05h2v-12.67h-2zM474.05 825.05h2v-11.62h-2zM476.26 825.05h2v-11.15h-2zM478.48 825.05h2v-10.67h-2zM480.69 825.05h2v-9.73h-2zM482.9 825.05h2v-9.73h-2zM485.11 825.05h2v-7.97h-2zM487.33 825.05h2v-8.54h-2zM489.54 825.05h2v-9.49h-2zM491.75 825.05h2v-10.67h-2zM493.96 825.05h2v-11.86h-2zM496.18 825.05h2v-15.8h-2zM498.39 825.05h2v-13.19h-2zM500.6 825.05h2v-13.52h-2zM502.81 825.05h2v-13.05h-2zM505.02 825.05h2v-17.88h-2zM507.24 825.05h2v-18.26h-2zM509.45 825.05h2v-15.28h-2zM511.66 825.05h2v-13.71h-2zM513.87 825.05h2v-19.45h-2zM516.09 825.05h2v-19.45h-2zM518.3 825.05h2v-21.54h-2zM520.51 825.05h2v-19.88h-2zM522.72 825.05h2v-21.35h-2zM524.94 825.05h2v-19.4h-2zM527.15 825.05h2v-19.4h-2zM529.36 825.05h2v-19.4h-2zM531.57 825.05h2v-19.4h-2zM533.78 825.05h2v-20.83h-2zM536 825.05h2v-23.25h-2zM538.21 825.05h2v-23.25h-2zM540.42 825.05h2v-25.67h-2zM542.63 825.05h2v-24.72h-2zM544.85 825.05h2v-19.88h-2zM547.06 825.05h2v-21.35h-2zM549.27 825.05h2v-18.93h-2zM551.48 825.05h2v-18.93h-2zM553.7 825.05h2v-18.45h-2zM555.91 825.05h2v-19.4h-2zM558.12 825.05h2v-19.4h-2zM560.33 825.05h2v-17.46h-2zM562.54 825.05h2v-17.46h-2zM564.76 825.05h2v-15.56h-2zM566.97 825.05h2v-15.56h-2zM569.18 825.05h2v-16.03h-2zM571.39 825.05h2v-16.98h-2zM573.61 825.05h2v-17.46h-2zM575.82 825.05h2v-16.03h-2zM578.03 825.05h2v-16.03h-2zM580.24 825.05h2v-14.09h-2zM582.46 825.05h2v-13.62h-2zM584.67 825.05h2v-15.04h-2zM586.88 825.05h2v-16.03h-2zM589.09 825.05h2v-15.04h-2zM591.3 825.05h2v-14.09h-2zM593.52 825.05h2v-13.14h-2zM595.73 825.05h2v-11.2h-2zM597.94 825.05h2v-12.14h-2zM600.15 825.05h2v-15.56h-2zM602.37 825.05h2v-18.45h-2zM604.58 825.05h2v-18.45h-2zM606.79 825.05h2v-17.93h-2zM609 825.05h2v-17.93h-2zM611.22 825.05h2v-20.83h-2zM613.43 825.05h2v-22.3h-2zM615.64 825.05h2v-23.25h-2zM617.85 825.05h2v-28.08h-2zM620.06 825.05h2v-30.03h-2zM622.28 825.05h2v-30.5h-2zM624.49 825.05h2v-31.93h-2zM626.7 825.05h2v-36.77h-2zM628.91 825.05h2v-43.55h-2zM631.13 825.05h2v-46.44h-2zM633.34 825.05h2v-49.34h-2zM635.55 825.05h2v-49.34h-2zM637.76 825.05h2v-50.29h-2zM639.97 825.05h2v-51.42h-2zM642.19 825.05h2v-53.37h-2zM644.4 825.05h2v-52.37h-2zM646.61 825.05h2v-60.15h-2zM648.82 825.05h2v-60.63h-2zM651.04 825.05h2v-64h-2zM653.25 825.05h2v-65.94h-2zM655.46 825.05h2v-64.47h-2zM657.67 825.05h2v-60.15h-2zM659.89 825.05h2v-63.05h-2zM662.1 825.05h2v-65.94h-2zM664.31 825.05h2v-62.05h-2zM666.52 825.05h2v-64.47h-2zM668.73 825.05h2v-58.68h-2zM670.95 825.05h2v-56.74h-2zM673.16 825.05h2v-57.26h-2zM675.37 825.05h2v-57.73h-2zM677.58 825.05h2v-57.73h-2zM679.8 825.05h2v-51.95h-2zM682.01 825.05h2v-55.79h-2zM684.22 825.05h2v-54.84h-2zM686.43 825.05h2v-48.06h-2zM688.65 825.05h2v-46.16h-2zM690.86 825.05h2v-48.06h-2zM693.07 825.05h2v-48.53h-2zM695.28 825.05h2v-45.64h-2zM697.49 825.05h2v-47.11h-2zM699.71 825.05h2v-50.48h-2zM701.92 825.05h2v-48.53h-2zM704.13 825.05h2v-48.06h-2zM706.34 825.05h2v-47.58h-2zM708.56 825.05h2v-47.58h-2zM710.77 825.05h2v-44.69h-2zM712.98 825.05h2v-45.16h-2zM715.19 825.05h2v-43.74h-2zM717.41 825.05h2v-41.79h-2zM719.62 825.05h2v-39.38h-2zM721.83 825.05h2v-40.32h-2zM724.04 825.05h2v-42.74h-2zM726.25 825.05h2v-38.9h-2zM728.47 825.05h2v-37.43h-2zM730.68 825.05h2v-36.01h-2zM732.89 825.05h2v-33.11h-2zM735.1 825.05h2v-30.69h-2zM737.32 825.05h2v-30.69h-2zM739.53 825.05h2v-30.22h-2zM741.74 825.05h2v-29.74h-2zM743.95 825.05h2v-26.33h-2zM746.17 825.05h2v-22.96h-2zM748.38 825.05h2v-23.96h-2zM750.59 825.05h2v-24.91h-2zM752.8 825.05h2v-25.85h-2zM755.01 825.05h2v-24.91h-2zM757.23 825.05h2v-23.63h-2zM759.44 825.05h2v-23.15h-2zM761.65 825.05h2v-23.63h-2zM763.86 825.05h2v-24.15h-2zM766.08 825.05h2v-24.15h-2zM768.29 825.05h2v-24.62h-2zM770.5 825.05h2v-25.1h-2zM772.71 825.05h2v-24.62h-2zM774.93 825.05h2v-25.1h-2zM777.14 825.05h2v-27.52h-2zM779.35 825.05h2v-29.93h-2zM781.56 825.05h2v-31.36h-2zM783.77 825.05h2v-34.73h-2zM785.99 825.05h2v-37.62h-2zM788.2 825.05h2v-43.93h-2zM790.41 825.05h2v-46.35h-2zM792.62 825.05h2v-50.67h-2zM794.84 825.05h2v-51.61h-2zM797.05 825.05h2v-51.61h-2zM799.26 825.05h2v-63.24h-2zM801.47 825.05h2v-63.24h-2zM803.69 825.05h2v-62.72h-2zM805.9 825.05h2v-61.77h-2zM808.11 825.05h2v-65.14h-2zM810.32 825.05h2v-65.61h-2zM812.53 825.05h2v-66.13h-2zM814.75 825.05h2v-67.08h-2zM816.96 825.05h2v-69.5h-2zM819.17 825.05h2v-71.44h-2zM821.38 825.05h2v-69.5h-2zM823.6 825.05h2v-67.08h-2zM825.81 825.05h2v-72.87h-2zM828.02 825.05h2v-71.44h-2zM830.23 825.05h2v-73.82h-2zM832.45 825.05h2v-74.34h-2zM834.66 825.05h2v-69.97h-2zM836.87 825.05h2v-65.61h-2zM839.08 825.05h2v-63.71h-2zM841.29 825.05h2v-60.34h-2zM843.51 825.05h2v-54.56h-2zM845.72 825.05h2v-55.98h-2zM847.93 825.05h2v-54.56h-2zM850.14 825.05h2v-53.09h-2zM852.36 825.05h2v-50.67h-2zM854.57 825.05h2v-47.77h-2zM856.78 825.05h2v-45.83h-2zM858.99 825.05h2v-43.46h-2zM861.2 825.05h2v-45.83h-2zM863.42 825.05h2v-46.35h-2zM865.63 825.05h2v-45.35h-2zM867.84 825.05h2v-43.46h-2zM870.05 825.05h2v-41.51h-2zM872.27 825.05h2v-41.51h-2zM874.48 825.05h2v-40.56h-2zM876.69 825.05h2v-40.04h-2zM878.9 825.05h2v-40.94h-2zM881.12 825.05h2v-41.42h-2zM883.33 825.05h2v-39.47h-2zM885.54 825.05h2v-38.52h-2zM887.75 825.05h2v-35.63h-2zM889.96 825.05h2v-32.73h-2zM892.18 825.05h2v-34.16h-2zM894.39 825.05h2v-34.16h-2zM896.6 825.05h2v-31.74h-2zM898.81 825.05h2v-31.26h-2zM901.03 825.05h2v-28.84h-2zM903.24 825.05h2v-26.42h-2zM905.45 825.05h2v-25h-2zM907.66 825.05h2v-24.05h-2zM909.88 825.05h2v-24.53h-2zM912.09 825.05h2v-25h-2zM914.3 825.05h2v-27.42h-2zM916.51 825.05h2v-26.42h-2zM918.72 825.05h2v-25h-2zM920.94 825.05h2v-21.63h-2zM923.15 825.05h2v-21.16h-2zM925.36 825.05h2v-24.05h-2zM927.57 825.05h2v-18.74h-2zM929.79 825.05h2v-17.74h-2zM932 825.05h2v-18.22h-2zM934.21 825.05h2v-18.74h-2zM936.42 825.05h2v-17.74h-2zM938.64 825.05h2v-18.22h-2zM940.85 825.05h2v-21.16h-2zM943.06 825.05h2v-21.63h-2zM945.27 825.05h2v-19.69h-2zM947.48 825.05h2v-19.21h-2zM949.7 825.05h2v-19.21h-2zM951.91 825.05h2v-18.74h-2zM954.12 825.05h2v-20.16h-2zM956.33 825.05h2v-22.11h-2zM958.55 825.05h2v-23.53h-2zM960.76 825.05h2v-23.53h-2zM962.97 825.05h2v-23.53h-2zM965.18 825.05h2v-24.05h-2zM967.4 825.05h2v-24.53h-2zM969.61 825.05h2v-25.48h-2zM971.82 825.05h2v-25.48h-2zM974.03 825.05h2v-23.53h-2zM976.24 825.05h2v-22.58h-2zM978.46 825.05h2v-23.53h-2zM980.67 825.05h2v-24.05h-2zM982.88 825.05h2v-24.53h-2zM985.09 825.05h2v-25.48h-2zM987.31 825.05h2v-26.42h-2zM989.52 825.05h2v-26.95h-2zM991.73 825.05h2v-25.95h-2zM993.94 825.05h2v-25.95h-2zM996.16 825.05h2v-25.48h-2zM998.37 825.05h2v-25.48h-2zM1000.58 825.05h2v-26.95h-2zM1002.79 825.05h2v-28.37h-2zM1005 825.05h2v-31.26h-2zM1007.22 825.05h2v-31.74h-2zM1009.43 825.05h2v-31.74h-2zM1011.64 825.05h2v-35.15h-2zM1013.85 825.05h2v-33.21h-2zM1016.07 825.05h2v-36.58h-2zM1018.28 825.05h2v-39h-2zM1020.49 825.05h2v-39h-2zM1022.7 825.05h2v-38.05h-2zM1024.92 825.05h2v-32.73h-2zM1027.13 825.05h2v-32.73h-2zM1029.34 825.05h2v-31.26h-2zM1031.55 825.05h2v-36.1h-2zM1033.76 825.05h2v-39.47h-2zM1035.98 825.05h2v-39.47h-2zM1038.19 825.05h2v-36.58h-2zM1040.4 825.05h2v-35.15h-2zM1042.61 825.05h2v-33.21h-2zM1044.83 825.05h2v-35.15h-2zM1047.04 825.05h2v-39.94h-2zM1049.25 825.05h2v-39.94h-2zM1051.46 825.05h2v-37.05h-2zM1053.68 825.05h2v-35.15h-2zM1055.89 825.05h2v-35.63h-2zM1058.1 825.05h2v-34.16h-2zM1060.31 825.05h2v-30.79h-2zM1062.52 825.05h2v-31.26h-2zM1064.74 825.05h2v-33.21h-2zM1066.95 825.05h2v-29.37h-2zM1069.16 825.05h2v-29.37h-2zM1071.37 825.05h2v-28.37h-2zM1073.59 825.05h2v-24.53h-2zM1075.8 825.05h2v-16.32h-2zM1078.01 825.05h2v-17.27h-2zM1080.22 825.05h2v-17.74h-2zM1082.43 825.05h2v-17.74h-2zM1084.65 825.05h2v-15.32h-2zM1086.86 825.05h2v-13.9h-2zM1089.07 825.05h2v-11.01h-2zM1091.28 825.05h2v-11.01h-2zM1093.5 825.05h2v-11.01h-2zM1095.71 825.05h2v-11.48h-2zM1097.92 825.05h2v-11.01h-2zM1100.13 825.05h2v-11.01h-2zM1102.35 825.05h2v-10.06h-2zM1104.56 825.05h2v-9.54h-2zM1106.77 825.05h2v-10.53h-2zM1108.98 825.05h2v-11.24h-2zM1111.19 825.05h2v-12.24h-2zM1113.41 825.05h2v-13.43h-2zM1115.62 825.05h2v-10.96h-2zM1117.83 825.05h2v-8.68h-2zM1120.04 825.05h2v-8.68h-2zM1122.26 825.05h2v-7.07h-2zM1124.47 825.05h2v-7.07h-2zM1126.68 825.05h2v-9.63h-2zM1128.89 825.05h2v-10.63h-2zM1131.11 825.05h2v-11.24h-2zM1133.32 825.05h2v-9.96h-2zM1135.53 825.05h2v-9.35h-2zM1137.74 825.05h2v-9.35h-2zM1139.95 825.05h2v-9.35h-2zM1142.17 825.05h2v-9.35h-2zM1144.38 825.05h2v-7.73h-2zM1146.59 825.05h2v-6.74h-2zM1148.8 825.05h2v-6.12h-2zM1151.02 825.05h2v-7.4h-2zM1153.23 825.05h2v-6.45h-2zM1155.44 825.05h2v-6.74h-2zM1157.65 825.05h2v-8.35h-2zM1159.87 825.05h2v-8.06h-2zM1162.08 825.05h2v-8.06h-2zM1164.29 825.05h2v-7.4h-2zM1166.5 825.05h2v-8.68h-2zM1168.71 825.05h2v-7.07h-2zM1170.93 825.05h2v-8.68h-2zM1173.14 825.05h2v-12.57h-2zM1175.35 825.05h2v-13.85h-2zM1177.56 825.05h2v-15.75h-2zM1179.78 825.05h2v-17.7h-2z" fill="#b3cbe8"/><path d="M89.11 825.05h0.75v-0.05h-0.75zM91.32 825.05h0.75v-0.09h-0.75zM93.54 825.05h0.75v-0.14h-0.75zM95.75 825.05h0.75v-0.19h-0.75zM97.96 825.05h0.75v-0.24h-0.75zM100.17 825.05h0.75v-0.28h-0.75zM102.39 825.05h0.75v-0.33h-0.75zM104.6 825.05h0.75v-0.38h-0.75zM106.81 825.05h0.75v-0.43h-0.75zM109.02 825.05h0.75v-0.47h-0.75zM111.24 825.05h0.75v-0.87h-0.75zM113.45 825.05h0.75v-1.27h-0.75zM115.66 825.05h0.75v-1.66h-0.75zM117.87 825.05h0.75v-2.06h-0.75zM120.08 825.05h0.75v-2.45h-0.75zM122.3 825.05h0.75v-2.85h-0.75zM124.51 825.05h0.75v-6.64h-0.75zM126.72 825.05h0.75v-12.33h-0.75zM128.93 825.05h0.75v-20.87h-0.75zM131.15 825.05h0.75v-26.57h-0.75zM133.36 825.05h0.75v-34.63h-0.75zM135.57 825.05h0.75v-41.75h-0.75zM137.78 825.05h0.75v-52.18h-0.75zM140 825.05h0.75v-67.51h-0.75zM142.21 825.05h0.75v-77.52h-0.75zM144.42 825.05h0.75v-88.71h-0.75zM146.63 825.05h0.75v-91.89h-0.75zM148.84 825.05h0.75v-100h-0.75zM151.06 825.05h0.75v-98.15h-0.75zM153.27 825.05h0.75v-106.88h-0.75zM155.48 825.05h0.75v-104.98h-0.75zM157.69 825.05h0.75v-96.26h-0.75zM159.91 825.05h0.75v-96.87h-0.75zM162.12 825.05h0.75v-96.87h-0.75zM164.33 825.05h0.75v-95.64h-0.75zM166.54 825.05h0.75v-99.39h-0.75zM168.76 825.05h0.75v-89.99h-0.75zM170.97 825.05h0.75v-81.26h-0.75zM173.18 825.05h0.75v-79.37h-0.75zM175.39 825.05h0.75v-78.75h-0.75zM177.6 825.05h0.75v-78.75h-0.75zM179.82 825.05h0.75v-77.52h-0.75zM182.03 825.05h0.75v-75.62h-0.75zM184.24 825.05h0.75v-73.77h-0.75zM186.45 825.05h0.75v-65.61h-0.75zM188.67 825.05h0.75v-62.53h-0.75zM190.88 825.05h0.75v-60.01h-0.75zM193.09 825.05h0.75v-56.26h-0.75zM195.3 825.05h0.75v-54.37h-0.75zM197.51 825.05h0.75v-53.75h-0.75zM199.73 825.05h0.75v-51.9h-0.75zM201.94 825.05h0.75v-50.62h-0.75zM204.15 825.05h0.75v-48.77h-0.75zM206.36 825.05h0.75v-34.39h-0.75zM208.58 825.05h0.75v-32.5h-0.75zM210.79 825.05h0.75v-31.26h-0.75zM213 825.05h0.75v-29.98h-0.75zM215.21 825.05h0.75v-28.75h-0.75zM217.43 825.05h0.75v-27.52h-0.75zM219.64 825.05h0.75v-26.09h-0.75zM221.85 825.05h0.75v-21.24h-0.75zM224.06 825.05h0.75v-20.84h-0.75zM226.27 825.05h0.75v-20.84h-0.75zM228.49 825.05h0.75v-20.84h-0.75zM230.7 825.05h0.75v-15.2h-0.75zM232.91 825.05h0.75v-13.6h-0.75zM235.12 825.05h0.75v-11.18h-0.75zM237.34 825.05h0.75v-10.38h-0.75zM239.55 825.05h0.75v-8.77h-0.75zM241.76 825.05h0.75v-8.37h-0.75zM243.97 825.05h0.75v-9.57h-0.75zM246.19 825.05h0.75v-6.76h-0.75zM248.4 825.05h0.75v-5.55h-0.75zM250.61 825.05h0.75v-4.75h-0.75zM252.82 825.05h0.75v-3.94h-0.75zM255.03 825.05h0.75v-3.14h-0.75zM257.25 825.05h0.75v-3.14h-0.75zM259.46 825.05h0.75v-3.14h-0.75zM261.67 825.05h0.75v-2.74h-0.75zM263.88 825.05h0.75v-3.14h-0.75zM266.1 825.05h0.75v-1.93h-0.75zM268.31 825.05h0.75v-1.93h-0.75zM270.52 825.05h0.75v-1.93h-0.75zM272.73 825.05h0.75v-1.93h-0.75zM274.95 825.05h0.75v-1.93h-0.75zM277.16 825.05h0.75v-1.93h-0.75zM279.37 825.05h0.75v-1.12h-0.75zM281.58 825.05h0.75v-0.73h-0.75zM283.79 825.05h0.75v-1.53h-0.75zM286.01 825.05h0.75v-1.53h-0.75zM288.22 825.05h0.75v-1.53h-0.75zM290.43 825.05h0.75v-1.53h-0.75zM292.64 825.05h0.75v-1.53h-0.75zM294.86 825.05h0.75v-1.53h-0.75zM297.07 825.05h0.75v-1.53h-0.75zM299.28 825.05h0.75v-0.73h-0.75zM301.49 825.05h0.75v-1.12h-0.75zM303.71 825.05h0.75v-1.12h-0.75zM305.92 825.05h0.75v-1.12h-0.75zM308.13 825.05h0.75v-1.12h-0.75zM310.34 825.05h0.75v-1.39h-0.75zM312.55 825.05h0.75v-0.87h-0.75zM314.77 825.05h0.75v-0.87h-0.75zM316.98 825.05h0.75v-0.87h-0.75zM319.19 825.05h0.75v-0.87h-0.75zM321.4 825.05h0.75v-0.87h-0.75zM323.62 825.05h0.75v-0.87h-0.75zM325.83 825.05h0.75v-0.87h-0.75zM328.04 825.05h0.75v-0.87h-0.75zM330.25 825.05h0.75v-0.68h-0.75zM332.47 825.05h0.75v-0.61h-0.75zM334.68 825.05h0.75v-0.68h-0.75zM336.89 825.05h0.75v-0.74h-0.75zM339.1 825.05h0.75v-0.68h-0.75zM341.31 825.05h0.75v-1.06h-0.75zM343.53 825.05h0.75v-0.83h-0.75zM345.74 825.05h0.75v-0.42h-0.75zM347.95 825.05h0.75v-0.42h-0.75zM350.16 825.05h0.75v-0.42h-0.75zM352.38 825.05h0.75v-0.42h-0.75zM354.59 825.05h0.75v-0.42h-0.75zM356.8 825.05h0.75v-0.19h-0.75zM359.01 825.05h0.75v-0.19h-0.75zM361.23 825.05h0.75v-0.19h-0.75zM363.44 825.05h0.75v-0.19h-0.75zM365.65 825.05h0.75v-0.19h-0.75zM367.86 825.05h0.75v-0.19h-0.75zM370.07 825.05h0.75v-0.19h-0.75zM372.29 825.05h0.75v-0.19h-0.75zM374.5 825.05h0.75v-0.19h-0.75zM376.71 825.05h0.75v-0.19h-0.75zM378.92 825.05h0.75v-0.19h-0.75zM381.14 825.05h0.75v-0.19h-0.75zM383.35 825.05h0.75v-0.36h-0.75zM385.56 825.05h0.75v-0.51h-0.75zM387.77 825.05h0.75v-0.36h-0.75zM389.99 825.05h0.75v-0.36h-0.75zM392.2 825.05h0.75v-0.36h-0.75zM394.41 825.05h0.75v-0.36h-0.75zM396.62 825.05h0.75v-0.36h-0.75zM398.83 825.05h0.75v-0.36h-0.75zM401.05 825.05h0.75v-0.31h-0.75zM403.26 825.05h0.75v-0.31h-0.75zM405.47 825.05h0.75v-0.31h-0.75zM407.68 825.05h0.75v-0.31h-0.75zM409.9 825.05h0.75v-0.31h-0.75zM412.11 825.05h0.75v-0.31h-0.75zM414.32 825.05h0.75v-0.31h-0.75zM416.53 825.05h0.75v-0.31h-0.75zM418.75 825.05h0.75v-0.31h-0.75zM420.96 825.05h0.75v-0.31h-0.75zM423.17 825.05h0.75v-1.9h-0.75zM425.38 825.05h0.75v-1.57h-0.75zM427.59 825.05h0.75v-3.13h-0.75zM429.81 825.05h0.75v-4.41h-0.75zM432.02 825.05h0.75v-5.03h-0.75zM434.23 825.05h0.75v-5.46h-0.75zM436.44 825.05h0.75v-5.79h-0.75zM438.66 825.05h0.75v-6.31h-0.75zM440.87 825.05h0.75v-6.31h-0.75zM443.08 825.05h0.75v-6.07h-0.75zM445.29 825.05h0.75v-6.07h-0.75zM447.5 825.05h0.75v-5.79h-0.75zM449.72 825.05h0.75v-4.41h-0.75zM451.93 825.05h0.75v-5.03h-0.75zM454.14 825.05h0.75v-6.5h-0.75zM456.35 825.05h0.75v-8.92h-0.75zM458.57 825.05h0.75v-11.01h-0.75zM460.78 825.05h0.75v-9.96h-0.75zM462.99 825.05h0.75v-9.2h-0.75zM465.2 825.05h0.75v-9.44h-0.75zM467.42 825.05h0.75v-10.67h-0.75zM469.63 825.05h0.75v-11.72h-0.75zM471.84 825.05h0.75v-12.67h-0.75zM474.05 825.05h0.75v-11.62h-0.75zM476.26 825.05h0.75v-11.15h-0.75zM478.48 825.05h0.75v-10.67h-0.75zM480.69 825.05h0.75v-9.73h-0.75zM482.9 825.05h0.75v-9.73h-0.75zM485.11 825.05h0.75v-7.97h-0.75zM487.33 825.05h0.75v-8.54h-0.75zM489.54 825.05h0.75v-9.49h-0.75zM491.75 825.05h0.75v-10.67h-0.75zM493.96 825.05h0.75v-11.86h-0.75zM496.18 825.05h0.75v-15.8h-0.75zM498.39 825.05h0.75v-13.19h-0.75zM500.6 825.05h0.75v-13.52h-0.75zM502.81 825.05h0.75v-13.05h-0.75zM505.02 825.05h0.75v-17.88h-0.75zM507.24 825.05h0.75v-18.26h-0.75zM509.45 825.05h0.75v-15.28h-0.75zM511.66 825.05h0.75v-13.71h-0.75zM513.87 825.05h0.75v-19.45h-0.75zM516.09 825.05h0.75v-19.45h-0.75zM518.3 825.05h0.75v-21.54h-0.75zM520.51 825.05h0.75v-19.88h-0.75zM522.72 825.05h0.75v-21.35h-0.75zM524.94 825.05h0.75v-19.4h-0.75zM527.15 825.05h0.75v-19.4h-0.75zM529.36 825.05h0.75v-19.4h-0.75zM531.57 825.05h0.75v-19.4h-0.75zM533.78 825.05h0.75v-20.83h-0.75zM536 825.05h0.75v-23.25h-0.75zM538.21 825.05h0.75v-23.25h-0.75zM540.42 825.05h0.75v-25.67h-0.75zM542.63 825.05h0.75v-24.72h-0.75zM544.85 825.05h0.75v-19.88h-0.75zM547.06 825.05h0.75v-21.35h-0.75zM549.27 825.05h0.75v-18.93h-0.75zM551.48 825.05h0.75v-18.93h-0.75zM553.7 825.05h0.75v-18.45h-0.75zM555.91 825.05h0.75v-19.4h-0.75zM558.12 825.05h0.75v-19.4h-0.75zM560.33 825.05h0.75v-17.46h-0.75zM562.54 825.05h0.75v-17.46h-0.75zM564.76 825.05h0.75v-15.56h-0.75zM566.97 825.05h0.75v-15.56h-0.75zM569.18 825.05h0.75v-16.03h-0.75zM571.39 825.05h0.75v-16.98h-0.75zM573.61 825.05h0.75v-17.46h-0.75zM575.82 825.05h0.75v-16.03h-0.75zM578.03 825.05h0.75v-16.03h-0.75zM580.24 825.05h0.75v-14.09h-0.75zM582.46 825.05h0.75v-13.62h-0.75zM584.67 825.05h0.75v-15.04h-0.75zM586.88 825.05h0.75v-16.03h-0.75zM589.09 825.05h0.75v-15.04h-0.75zM591.3 825.05h0.75v-14.09h-0.75zM593.52 825.05h0.75v-13.14h-0.75zM595.73 825.05h0.75v-11.2h-0.75zM597.94 825.05h0.75v-12.14h-0.75zM600.15 825.05h0.75v-15.56h-0.75zM602.37 825.05h0.75v-18.45h-0.75zM604.58 825.05h0.75v-18.45h-0.75zM606.79 825.05h0.75v-17.93h-0.75zM609 825.05h0.75v-17.93h-0.75zM611.22 825.05h0.75v-20.83h-0.75zM613.43 825.05h0.75v-22.3h-0.75zM615.64 825.05h0.75v-23.25h-0.75zM617.85 825.05h0.75v-28.08h-0.75zM620.06 825.05h0.75v-30.03h-0.75zM622.28 825.05h0.75v-30.5h-0.75zM624.49 825.05h0.75v-31.93h-0.75zM626.7 825.05h0.75v-36.77h-0.75zM628.91 825.05h0.75v-43.55h-0.75zM631.13 825.05h0.75v-46.44h-0.75zM633.34 825.05h0.75v-49.34h-0.75zM635.55 825.05h0.75v-49.34h-0.75zM637.76 825.05h0.75v-50.29h-0.75zM639.97 825.05h0.75v-51.42h-0.75zM642.19 825.05h0.75v-53.37h-0.75zM644.4 825.05h0.75v-52.37h-0.75zM646.61 825.05h0.75v-60.15h-0.75zM648.82 825.05h0.75v-60.63h-0.75zM651.04 825.05h0.75v-64h-0.75zM653.25 825.05h0.75v-65.94h-0.75zM655.46 825.05h0.75v-64.47h-0.75zM657.67 825.05h0.75v-60.15h-0.75zM659.89 825.05h0.75v-63.05h-0.75zM662.1 825.05h0.75v-65.94h-0.75zM664.31 825.05h0.75v-62.05h-0.75zM666.52 825.05h0.75v-64.47h-0.75zM668.73 825.05h0.75v-58.68h-0.75zM670.95 825.05h0.75v-56.74h-0.75zM673.16 825.05h0.75v-57.26h-0.75zM675.37 825.05h0.75v-57.73h-0.75zM677.58 825.05h0.75v-57.73h-0.75zM679.8 825.05h0.75v-51.95h-0.75zM682.01 825.05h0.75v-55.79h-0.75zM684.22 825.05h0.75v-54.84h-0.75zM686.43 825.05h0.75v-48.06h-0.75zM688.65 825.05h0.75v-46.16h-0.75zM690.86 825.05h0.75v-48.06h-0.75zM693.07 825.05h0.75v-48.53h-0.75zM695.28 825.05h0.75v-45.64h-0.75zM697.49 825.05h0.75v-47.11h-0.75zM699.71 825.05h0.75v-50.48h-0.75zM701.92 825.05h0.75v-48.53h-0.75zM704.13 825.05h0.75v-48.06h-0.75zM706.34 825.05h0.75v-47.58h-0.75zM708.56 825.05h0.75v-47.58h-0.75zM710.77 825.05h0.75v-44.69h-0.75zM712.98 825.05h0.75v-45.16h-0.75zM715.19 825.05h0.75v-43.74h-0.75zM717.41 825.05h0.75v-41.79h-0.75zM719.62 825.05h0.75v-39.38h-0.75zM721.83 825.05h0.75v-40.32h-0.75zM724.04 825.05h0.75v-42.74h-0.75zM726.25 825.05h0.75v-38.9h-0.75zM728.47 825.05h0.75v-37.43h-0.75zM730.68 825.05h0.75v-36.01h-0.75zM732.89 825.05h0.75v-33.11h-0.75zM735.1 825.05h0.75v-30.69h-0.75zM737.32 825.05h0.75v-30.69h-0.75zM739.53 825.05h0.75v-30.22h-0.75zM741.74 825.05h0.75v-29.74h-0.75zM743.95 825.05h0.75v-26.33h-0.75zM746.17 825.05h0.75v-22.96h-0.75zM748.38 825.05h0.75v-23.96h-0.75zM750.59 825.05h0.75v-24.91h-0.75zM752.8 825.05h0.75v-25.85h-0.75zM755.01 825.05h0.75v-24.91h-0.75zM757.23 825.05h0.75v-23.63h-0.75zM759.44 825.05h0.75v-23.15h-0.75zM761.65 825.05h0.75v-23.63h-0.75zM763.86 825.05h0.75v-24.15h-0.75zM766.08 825.05h0.75v-24.15h-0.75zM768.29 825.05h0.75v-24.62h-0.75zM770.5 825.05h0.75v-25.1h-0.75zM772.71 825.05h0.75v-24.62h-0.75zM774.93 825.05h0.75v-25.1h-0.75zM777.14 825.05h0.75v-27.52h-0.75zM779.35 825.05h0.75v-29.93h-0.75zM781.56 825.05h0.75v-31.36h-0.75zM783.77 825.05h0.75v-34.73h-0.75zM785.99 825.05h0.75v-37.62h-0.75zM788.2 825.05h0.75v-43.93h-0.75zM790.41 825.05h0.75v-46.35h-0.75zM792.62 825.05h0.75v-50.67h-0.75zM794.84 825.05h0.75v-51.61h-0.75zM797.05 825.05h0.75v-51.61h-0.75zM799.26 825.05h0.75v-63.24h-0.75zM801.47 825.05h0.75v-63.24h-0.75zM803.69 825.05h0.75v-62.72h-0.75zM805.9 825.05h0.75v-61.77h-0.75zM808.11 825.05h0.75v-65.14h-0.75zM810.32 825.05h0.75v-65.61h-0.75zM812.53 825.05h0.75v-66.13h-0.75zM814.75 825.05h0.75v-67.08h-0.75zM816.96 825.05h0.75v-69.5h-0.75zM819.17 825.05h0.75v-71.44h-0.75zM821.38 825.05h0.75v-69.5h-0.75zM823.6 825.05h0.75v-67.08h-0.75zM825.81 825.05h0.75v-72.87h-0.75zM828.02 825.05h0.75v-71.44h-0.75zM830.23 825.05h0.75v-73.82h-0.75zM832.45 825.05h0.75v-74.34h-0.75zM834.66 825.05h0.75v-69.97h-0.75zM836.87 825.05h0.75v-65.61h-0.75zM839.08 825.05h0.75v-63.71h-0.75zM841.29 825.05h0.75v-60.34h-0.75zM843.51 825.05h0.75v-54.56h-0.75zM845.72 825.05h0.75v-55.98h-0.75zM847.93 825.05h0.75v-54.56h-0.75zM850.14 825.05h0.75v-53.09h-0.75zM852.36 825.05h0.75v-50.67h-0.75zM854.57 825.05h0.75v-47.77h-0.75zM856.78 825.05h0.75v-45.83h-0.75zM858.99 825.05h0.75v-43.46h-0.75zM861.2 825.05h0.75v-45.83h-0.75zM863.42 825.05h0.75v-46.35h-0.75zM865.63 825.05h0.75v-45.35h-0.75zM867.84 825.05h0.75v-43.46h-0.75zM870.05 825.05h0.75v-41.51h-0.75zM872.27 825.05h0.75v-41.51h-0.75zM874.48 825.05h0.75v-40.56h-0.75zM876.69 825.05h0.75v-40.04h-0.75zM878.9 825.05h0.75v-40.94h-0.75zM881.12 825.05h0.75v-41.42h-0.75zM883.33 825.05h0.75v-39.47h-0.75zM885.54 825.05h0.75v-38.52h-0.75zM887.75 825.05h0.75v-35.63h-0.75zM889.96 825.05h0.75v-32.73h-0.75zM892.18 825.05h0.75v-34.16h-0.75zM894.39 825.05h0.75v-34.16h-0.75zM896.6 825.05h0.75v-31.74h-0.75zM898.81 825.05h0.75v-31.26h-0.75zM901.03 825.05h0.75v-28.84h-0.75zM903.24 825.05h0.75v-26.42h-0.75zM905.45 825.05h0.75v-25h-0.75zM907.66 825.05h0.75v-24.05h-0.75zM909.88 825.05h0.75v-24.53h-0.75zM912.09 825.05h0.75v-25h-0.75zM914.3 825.05h0.75v-27.42h-0.75zM916.51 825.05h0.75v-26.42h-0.75zM918.72 825.05h0.75v-25h-0.75zM920.94 825.05h0.75v-21.63h-0.75zM923.15 825.05h0.75v-21.16h-0.75zM925.36 825.05h0.75v-24.05h-0.75zM927.57 825.05h0.75v-18.74h-0.75zM929.79 825.05h0.75v-17.74h-0.75zM932 825.05h0.75v-18.22h-0.75zM934.21 825.05h0.75v-18.74h-0.75zM936.42 825.05h0.75v-17.74h-0.75zM938.64 825.05h0.75v-18.22h-0.75zM940.85 825.05h0.75v-21.16h-0.75zM943.06 825.05h0.75v-21.63h-0.75zM945.27 825.05h0.75v-19.69h-0.75zM947.48 825.05h0.75v-19.21h-0.75zM949.7 825.05h0.75v-19.21h-0.75zM951.91 825.05h0.75v-18.74h-0.75zM954.12 825.05h0.75v-20.16h-0.75zM956.33 825.05h0.75v-22.11h-0.75zM958.55 825.05h0.75v-23.53h-0.75zM960.76 825.05h0.75v-23.53h-0.75zM962.97 825.05h0.75v-23.53h-0.75zM965.18 825.05h0.75v-24.05h-0.75zM967.4 825.05h0.75v-24.53h-0.75zM969.61 825.05h0.75v-25.48h-0.75zM971.82 825.05h0.75v-25.48h-0.75zM974.03 825.05h0.75v-23.53h-0.75zM976.24 825.05h0.75v-22.58h-0.75zM978.46 825.05h0.75v-23.53h-0.75zM980.67 825.05h0.75v-24.05h-0.75zM982.88 825.05h0.75v-24.53h-0.75zM985.09 825.05h0.75v-25.48h-0.75zM987.31 825.05h0.75v-26.42h-0.75zM989.52 825.05h0.75v-26.95h-0.75zM991.73 825.05h0.75v-25.95h-0.75zM993.94 825.05h0.75v-25.95h-0.75zM996.16 825.05h0.75v-25.48h-0.75zM998.37 825.05h0.75v-25.48h-0.75zM1000.58 825.05h0.75v-26.95h-0.75zM1002.79 825.05h0.75v-28.37h-0.75zM1005 825.05h0.75v-31.26h-0.75zM1007.22 825.05h0.75v-31.74h-0.75zM1009.43 825.05h0.75v-31.74h-0.75zM1011.64 825.05h0.75v-35.15h-0.75zM1013.85 825.05h0.75v-33.21h-0.75zM1016.07 825.05h0.75v-36.58h-0.75zM1018.28 825.05h0.75v-39h-0.75zM1020.49 825.05h0.75v-39h-0.75zM1022.7 825.05h0.75v-38.05h-0.75zM1024.92 825.05h0.75v-32.73h-0.75zM1027.13 825.05h0.75v-32.73h-0.75zM1029.34 825.05h0.75v-31.26h-0.75zM1031.55 825.05h0.75v-36.1h-0.75zM1033.76 825.05h0.75v-39.47h-0.75zM1035.98 825.05h0.75v-39.47h-0.75zM1038.19 825.05h0.75v-36.58h-0.75zM1040.4 825.05h0.75v-35.15h-0.75zM1042.61 825.05h0.75v-33.21h-0.75zM1044.83 825.05h0.75v-35.15h-0.75zM1047.04 825.05h0.75v-39.94h-0.75zM1049.25 825.05h0.75v-39.94h-0.75zM1051.46 825.05h0.75v-37.05h-0.75zM1053.68 825.05h0.75v-35.15h-0.75zM1055.89 825.05h0.75v-35.63h-0.75zM1058.1 825.05h0.75v-34.16h-0.75zM1060.31 825.05h0.75v-30.79h-0.75zM1062.52 825.05h0.75v-31.26h-0.75zM1064.74 825.05h0.75v-33.21h-0.75zM1066.95 825.05h0.75v-29.37h-0.75zM1069.16 825.05h0.75v-29.37h-0.75zM1071.37 825.05h0.75v-28.37h-0.75zM1073.59 825.05h0.75v-24.53h-0.75zM1075.8 825.05h0.75v-16.32h-0.75zM1078.01 825.05h0.75v-17.27h-0.75zM1080.22 825.05h0.75v-17.74h-0.75zM1082.43 825.05h0.75v-17.74h-0.75zM1084.65 825.05h0.75v-15.32h-0.75zM1086.86 825.05h0.75v-13.9h-0.75zM1089.07 825.05h0.75v-11.01h-0.75zM1091.28 825.05h0.75v-11.01h-0.75zM1093.5 825.05h0.75v-11.01h-0.75zM1095.71 825.05h0.75v-11.48h-0.75zM1097.92 825.05h0.75v-11.01h-0.75zM1100.13 825.05h0.75v-11.01h-0.75zM1102.35 825.05h0.75v-10.06h-0.75zM1104.56 825.05h0.75v-9.54h-0.75zM1106.77 825.05h0.75v-10.53h-0.75zM1108.98 825.05h0.75v-11.24h-0.75zM1111.19 825.05h0.75v-12.24h-0.75zM1113.41 825.05h0.75v-13.43h-0.75zM1115.62 825.05h0.75v-10.96h-0.75zM1117.83 825.05h0.75v-8.68h-0.75zM1120.04 825.05h0.75v-8.68h-0.75zM1122.26 825.05h0.75v-7.07h-0.75zM1124.47 825.05h0.75v-7.07h-0.75zM1126.68 825.05h0.75v-9.63h-0.75zM1128.89 825.05h0.75v-10.63h-0.75zM1131.11 825.05h0.75v-11.24h-0.75zM1133.32 825.05h0.75v-9.96h-0.75zM1135.53 825.05h0.75v-9.35h-0.75zM1137.74 825.05h0.75v-9.35h-0.75zM1139.95 825.05h0.75v-9.35h-0.75zM1142.17 825.05h0.75v-9.35h-0.75zM1144.38 825.05h0.75v-7.73h-0.75zM1146.59 825.05h0.75v-6.74h-0.75zM1148.8 825.05h0.75v-6.12h-0.75zM1151.02 825.05h0.75v-7.4h-0.75zM1153.23 825.05h0.75v-6.45h-0.75zM1155.44 825.05h0.75v-6.74h-0.75zM1157.65 825.05h0.75v-8.35h-0.75zM1159.87 825.05h0.75v-8.06h-0.75zM1162.08 825.05h0.75v-8.06h-0.75zM1164.29 825.05h0.75v-7.4h-0.75zM1166.5 825.05h0.75v-8.68h-0.75zM1168.71 825.05h0.75v-7.07h-0.75zM1170.93 825.05h0.75v-8.68h-0.75zM1173.14 825.05h0.75v-12.57h-0.75zM1175.35 825.05h0.75v-13.85h-0.75zM1177.56 825.05h0.75v-15.75h-0.75zM1179.78 825.05h0.75v-17.7h-0.75z" fill="#5f8fc8"/><path d="M157.69 728.79h2v-1.23h-2zM159.91 728.18h2v-6.26h-2zM162.12 728.18h2v-8.11h-2zM164.33 729.41h2v-5.6h-2zM166.54 725.66h2v-6.26h-2zM168.76 735.06h2v-9.39h-2zM170.97 743.79h2v-9.35h-2zM173.18 745.68h2v-9.35h-2zM175.39 746.3h2v-9.96h-2zM177.6 746.3h2v-8.78h-2zM179.82 747.53h2v-8.73h-2zM182.03 749.43h2v-9.39h-2zM184.24 751.28h2v-4.98h-2zM186.45 759.44h2v-3.13h-2zM188.67 762.52h2v-5.6h-2zM190.88 765.04h2v-4.98h-2zM193.09 768.79h2v-6.88h-2zM195.3 770.68h2v-8.16h-2zM197.51 771.3h2v-10.01h-2zM199.73 773.15h2v-8.11h-2zM201.94 774.43h2v-8.11h-2zM204.15 776.28h2v-9.35h-2zM206.36 790.66h2v-8.11h-2zM208.58 792.55h2v-7.5h-2zM210.79 793.79h2v-10.01h-2zM213 795.07h2v-8.78h-2zM215.21 796.3h2v-6.26h-2zM217.43 797.53h2v-3.75h-2zM219.64 798.96h2v-1.42h-2z" fill="#ffbb55"/><path d="M157.69 728.79h0.75v-1.23h-0.75zM159.91 728.18h0.75v-6.26h-0.75zM162.12 728.18h0.75v-8.11h-0.75zM164.33 729.41h0.75v-5.6h-0.75zM166.54 725.66h0.75v-6.26h-0.75zM168.76 735.06h0.75v-9.39h-0.75zM170.97 743.79h0.75v-9.35h-0.75zM173.18 745.68h0.75v-9.35h-0.75zM175.39 746.3h0.75v-9.96h-0.75zM177.6 746.3h0.75v-8.78h-0.75zM179.82 747.53h0.75v-8.73h-0.75zM182.03 749.43h0.75v-9.39h-0.75zM184.24 751.28h0.75v-4.98h-0.75zM186.45 759.44h0.75v-3.13h-0.75zM188.67 762.52h0.75v-5.6h-0.75zM190.88 765.04h0.75v-4.98h-0.75zM193.09 768.79h0.75v-6.88h-0.75zM195.3 770.68h0.75v-8.16h-0.75zM197.51 771.3h0.75v-10.01h-0.75zM199.73 773.15h0.75v-8.11h-0.75zM201.94 774.43h0.75v-8.11h-0.75zM204.15 776.28h0.75v-9.35h-0.75zM206.36 790.66h0.75v-8.11h-0.75zM208.58 792.55h0.75v-7.5h-0.75zM210.79 793.79h0.75v-10.01h-0.75zM213 795.07h0.75v-8.78h-0.75zM215.21 796.3h0.75v-6.26h-0.75zM217.43 797.53h0.75v-3.75h-0.75zM219.64 798.96h0.75v-1.42h-0.75z" fill="#f0a030"/><path d="M86.9 825.05h2v-0.14h-2zM89.11 825h2v-0.15h-2zM91.32 824.96h2v-0.16h-2zM93.54 824.91h2v-0.17h-2zM95.75 824.86h2v-0.18h-2zM97.96 824.81h2v-0.19h-2zM100.17 824.77h2v-0.2h-2zM102.39 824.72h2v-0.21h-2zM104.6 824.67h2v-0.22h-2zM106.81 824.62h2v-0.23h-2zM109.02 824.58h2v-0.24h-2zM111.24 824.18h2v-0.51h-2zM113.45 823.78h2v-0.79h-2zM115.66 823.39h2v-1.07h-2zM117.87 822.99h2v-1.34h-2zM120.08 822.6h2v-1.62h-2zM122.3 822.2h2v-1.9h-2zM124.51 818.41h2v-2.37h-2zM126.72 812.72h2v-3.32h-2zM128.93 804.18h2v-4.74h-2zM131.15 798.48h2v-6.17h-2zM133.36 790.42h2v-7.12h-2zM135.57 783.3h2v-9.01h-2zM137.78 772.87h2v-12.81h-2zM140 757.54h2v-14.99h-2zM142.21 747.53h2v-23.72h-2zM144.42 736.34h2v-28.8h-2zM146.63 733.16h2v-28.75h-2zM148.84 725.05h2v-31.26h-2zM151.06 726.9h2v-29.37h-2zM153.27 718.17h2v-24.38h-2zM155.48 720.07h2v-21.92h-2zM157.69 727.56h2v-22.53h-2zM159.91 721.92h2v-15.61h-2zM162.12 720.07h2v-16.03h-2zM164.33 723.81h2v-18.12h-2zM166.54 719.4h2v-16.22h-2zM168.76 725.66h2v-13.62h-2zM170.97 734.44h2v-15.66h-2zM173.18 736.34h2v-13.81h-2zM175.39 736.34h2v-16.27h-2zM177.6 737.52h2v-16.22h-2zM179.82 738.8h2v-18.74h-2zM182.03 740.04h2v-17.51h-2zM184.24 746.3h2v-16.27h-2zM186.45 756.31h2v-13.14h-2zM188.67 756.93h2v-12.52h-2zM190.88 760.06h2v-10.01h-2zM193.09 761.91h2v-6.21h-2zM195.3 762.52h2v-7.5h-2zM197.51 761.29h2v-6.26h-2zM199.73 765.04h2v-7.5h-2zM201.94 766.32h2v-6.26h-2zM204.15 766.94h2v-4.41h-2zM206.36 782.54h2v-3.75h-2zM208.58 785.06h2v-2.51h-2zM210.79 783.78h2v-3.75h-2zM213 786.29h2v-2.51h-2zM215.21 790.04h2v-1.85h-2zM217.43 793.79h2v-3.13h-2zM219.64 797.53h2v-3.13h-2zM221.85 803.81h2v-0.8h-2zM224.06 804.21h2v-0.81h-2zM226.27 804.21h2v-0.81h-2zM228.49 804.21h2v-0.81h-2zM230.7 809.85h2v-0.81h-2zM232.91 811.45h2v-0.8h-2zM235.12 813.87h2v-0.81h-2zM237.34 814.67h2v-0.8h-2zM239.55 816.28h2v-0.81h-2zM241.76 816.68h2v-0.8h-2zM243.97 815.48h2v-0.81h-2zM246.19 818.29h2v-0.81h-2zM248.4 819.5h2v-0.81h-2zM250.61 820.3h2v-0.8h-2zM252.82 821.11h2v-0.81h-2zM255.03 821.91h2v-1.21h-2zM257.25 821.91h2v-0.81h-2zM259.46 821.91h2v-0.81h-2zM261.67 822.31h2v-0.8h-2zM263.88 821.91h2v-0.81h-2zM266.1 823.12h2v-0.4h-2zM268.31 823.12h2v-0.4h-2zM270.52 823.12h2v-0.81h-2zM272.73 823.12h2v-0.81h-2zM274.95 823.12h2v-0.4h-2zM277.16 823.12h2v-0.81h-2zM279.37 823.93h2v-0.4h-2zM281.58 824.32h2v-0.4h-2zM283.79 823.52h2v-0.81h-2zM286.01 823.52h2v-0.81h-2zM288.22 823.52h2v-0.81h-2zM290.43 823.52h2v-0.81h-2zM292.64 823.52h2v-0.81h-2zM294.86 823.52h2v-0.81h-2zM297.07 823.52h2v-0.81h-2zM299.28 824.32h2v-0.4h-2zM301.49 823.93h2v-0.81h-2zM303.71 823.93h2v-0.81h-2zM305.92 823.93h2v-0.81h-2zM308.13 823.93h2v-1.21h-2zM310.34 823.66h2v-0.52h-2zM312.55 824.18h2v-0.33h-2zM314.77 824.18h2v-0.33h-2zM316.98 824.18h2v-0.33h-2zM319.19 824.18h2v-0.33h-2zM321.4 824.18h2v-0.33h-2zM323.62 824.18h2v-0.33h-2zM325.83 824.18h2v-0.33h-2zM328.04 824.18h2v-0.33h-2zM330.25 824.37h2v-0.26h-2zM332.47 824.44h2v-0.23h-2zM334.68 824.37h2v-0.26h-2zM336.89 824.31h2v-0.28h-2zM339.1 824.37h2v-0.26h-2zM341.31 823.99h2v-0.4h-2zM343.53 824.22h2v-0.31h-2zM345.74 824.63h2v-0.16h-2zM347.95 824.63h2v-0.16h-2zM350.16 824.63h2v-0.16h-2zM352.38 824.63h2v-0.16h-2zM354.59 824.63h2v-0.16h-2zM356.8 824.86h2v-0.07h-2zM359.01 824.86h2v-0.07h-2zM361.23 824.86h2v-0.07h-2zM363.44 824.86h2v-0.07h-2zM365.65 824.86h2v-0.07h-2zM367.86 824.86h2v-0.07h-2zM370.07 824.86h2v-0.07h-2zM372.29 824.86h2v-0.07h-2zM374.5 824.86h2v-0.07h-2zM376.71 824.86h2v-0.07h-2zM378.92 824.86h2v-0.07h-2zM381.14 824.86h2v-0.07h-2zM383.35 824.69h2v-0.13h-2zM385.56 824.54h2v-0.19h-2zM387.77 824.69h2v-0.13h-2zM389.99 824.69h2v-0.13h-2zM392.2 824.69h2v-0.13h-2zM394.41 824.69h2v-0.13h-2zM396.62 824.69h2v-0.13h-2zM398.83 824.69h2v-0.13h-2zM401.05 824.74h2v-0.06h-2zM403.26 824.74h2v-0.06h-2zM405.47 824.74h2v-0.06h-2zM407.68 824.74h2v-0.06h-2zM409.9 824.74h2v-0.06h-2zM412.11 824.74h2v-0.06h-2zM414.32 824.74h2v-0.06h-2zM416.53 824.74h2v-0.06h-2zM418.75 824.74h2v-0.06h-2zM420.96 824.74h2v-0.06h-2zM423.17 823.15h2v-0.28h-2zM425.38 823.48h2v-0.28h-2zM427.59 821.92h2v-0.28h-2zM429.81 820.64h2v-0.28h-2zM432.02 820.02h2v-0.28h-2zM434.23 819.59h2v-0.28h-2zM436.44 819.26h2v-0.28h-2zM438.66 818.74h2v-0.28h-2zM440.87 818.74h2v-0.28h-2zM443.08 818.98h2v-0.28h-2zM445.29 818.98h2v-0.28h-2zM447.5 819.26h2v-0.28h-2zM449.72 820.64h2v-0.28h-2zM451.93 820.02h2v-0.28h-2zM454.14 818.55h2v-0.28h-2zM456.35 816.13h2v-0.28h-2zM458.57 814.04h2v-0.28h-2zM460.78 815.09h2v-0.28h-2zM462.99 815.85h2v-0.28h-2zM465.2 815.61h2v-0.28h-2zM467.42 814.38h2v-0.28h-2zM469.63 813.33h2v-0.28h-2zM471.84 812.38h2v-1.57h-2zM474.05 813.43h2v-0.95h-2zM476.26 813.9h2v-0.95h-2zM478.48 814.38h2v-0.95h-2zM480.69 815.32h2v-0.95h-2zM482.9 815.32h2v-1.19h-2zM485.11 817.08h2v-1.52h-2zM487.33 816.51h2v-1.42h-2zM489.54 815.56h2v-1.42h-2zM491.75 814.38h2v-1.42h-2zM493.96 813.19h2v-1.66h-2zM496.18 809.25h2v-2.09h-2zM498.39 811.86h2v-3.18h-2zM500.6 811.53h2v-2.37h-2zM502.81 812h2v-1.9h-2zM505.02 807.17h2v-2.61h-2zM507.24 806.79h2v-2.61h-2zM509.45 809.77h2v-2.28h-2zM511.66 811.34h2v-1.95h-2zM513.87 805.6h2v-1.04h-2zM516.09 805.6h2v-1.04h-2zM518.3 803.51h2v-0.52h-2zM520.51 805.17h2v-2.42h-2zM522.72 803.7h2v-3.37h-2zM524.94 805.65h2v-2.89h-2zM527.15 805.65h2v-2.89h-2zM529.36 805.65h2v-2.42h-2zM531.57 805.65h2v-1.95h-2zM533.78 804.22h2v-1.47h-2zM536 801.8h2v-2.42h-2zM538.21 801.8h2v-5.79h-2zM540.42 799.38h2v-3.37h-2zM542.63 800.33h2v-3.37h-2zM544.85 805.17h2v-2.42h-2zM547.06 803.7h2v-2.89h-2zM549.27 806.12h2v-2.89h-2zM551.48 806.12h2v-2.89h-2zM553.7 806.6h2v-1.9h-2zM555.91 805.65h2v-1.95h-2zM558.12 805.65h2v-1.95h-2zM560.33 807.59h2v-2.42h-2zM562.54 807.59h2v-1.95h-2zM564.76 809.49h2v-1.42h-2zM566.97 809.49h2v-1.42h-2zM569.18 809.02h2v-0.47h-2zM571.39 808.07h2v-0.95h-2zM573.61 807.59h2v-0.47h-2zM575.82 809.02h2v-0.47h-2zM578.03 809.02h2v-0.47h-2zM580.24 810.96h2v-0.47h-2zM582.46 811.43h2v-0.47h-2zM584.67 810.01h2v-0.47h-2zM586.88 809.02h2v-0.95h-2zM589.09 810.01h2v-1h-2zM591.3 810.96h2v-0.95h-2zM593.52 811.91h2v-0.95h-2zM595.73 813.85h2v-0.95h-2zM597.94 812.91h2v-1.47h-2zM600.15 809.49h2v-1.9h-2zM602.37 806.6h2v-0.95h-2zM604.58 806.6h2v-0.95h-2zM606.79 807.12h2v-1.47h-2zM609 807.12h2v-1.47h-2zM611.22 804.22h2v-2.42h-2zM613.43 802.75h2v-2.42h-2zM615.64 801.8h2v-3.89h-2zM617.85 796.97h2v-3.84h-2zM620.06 795.02h2v-4.79h-2zM622.28 794.55h2v-5.31h-2zM624.49 793.12h2v-6.78h-2zM626.7 788.28h2v-6.69h-2zM628.91 781.5h2v-7.21h-2zM631.13 778.61h2v-8.68h-2zM633.34 775.71h2v-8.68h-2zM635.55 775.71h2v-7.21h-2zM637.76 774.76h2v-5.79h-2zM639.97 773.63h2v-6.31h-2zM642.19 771.68h2v-7.73h-2zM644.4 772.68h2v-5.36h-2zM646.61 764.9h2v-8.16h-2zM648.82 764.42h2v-10.1h-2zM651.04 761.05h2v-11.1h-2zM653.25 759.11h2v-9.63h-2zM655.46 760.58h2v-8.68h-2zM657.67 764.9h2v-7.21h-2zM659.89 762h2v-7.69h-2zM662.1 759.11h2v-7.21h-2zM664.31 763h2v-7.73h-2zM666.52 760.58h2v-7.73h-2zM668.73 766.37h2v-10.15h-2zM670.95 768.31h2v-9.2h-2zM673.16 767.79h2v-8.16h-2zM675.37 767.32h2v-7.26h-2zM677.58 767.32h2v-6.74h-2zM679.8 773.1h2v-6.74h-2zM682.01 769.26h2v-9.2h-2zM684.22 770.21h2v-10.15h-2zM686.43 776.99h2v-7.73h-2zM688.65 778.89h2v-7.21h-2zM690.86 776.99h2v-6.78h-2zM693.07 776.52h2v-6.78h-2zM695.28 779.41h2v-8.21h-2zM697.49 777.94h2v-7.73h-2zM699.71 774.57h2v-8.21h-2zM701.92 776.52h2v-7.26h-2zM704.13 776.99h2v-4.36h-2zM706.34 777.47h2v-4.36h-2zM708.56 777.47h2v-4.36h-2zM710.77 780.36h2v-3.37h-2zM712.98 779.89h2v-2.42h-2zM715.19 781.31h2v-2.42h-2zM717.41 783.26h2v-2.42h-2zM719.62 785.67h2v-1.95h-2zM721.83 784.73h2v-1.47h-2zM724.04 782.31h2v-1.95h-2zM726.25 786.15h2v-2.42h-2zM728.47 787.62h2v-1.95h-2zM730.68 789.04h2v-1.42h-2zM732.89 791.94h2v-1.42h-2zM735.1 794.36h2v-1.47h-2zM737.32 794.36h2v-1.47h-2zM739.53 794.83h2v-1.42h-2zM741.74 795.31h2v-1.42h-2zM743.95 798.72h2v-1.47h-2zM746.17 802.09h2v-1.95h-2zM748.38 801.09h2v-1.42h-2zM750.59 800.14h2v-1.95h-2zM752.8 799.2h2v-1.95h-2zM755.01 800.14h2v-3.84h-2zM757.23 801.42h2v-5.31h-2zM759.44 801.9h2v-5.79h-2zM761.65 801.42h2v-5.79h-2zM763.86 800.9h2v-5.27h-2zM766.08 800.9h2v-5.27h-2zM768.29 800.43h2v-6.26h-2zM770.5 799.95h2v-7.73h-2zM772.71 800.43h2v-5.31h-2zM774.93 799.95h2v-6.26h-2zM777.14 797.53h2v-9.16h-2zM779.35 795.12h2v-7.69h-2zM781.56 793.69h2v-10.63h-2zM783.77 790.32h2v-13.52h-2zM785.99 787.43h2v-10.15h-2zM788.2 781.12h2v-10.63h-2zM790.41 778.7h2v-10.58h-2zM792.62 774.38h2v-9.68h-2zM794.84 773.44h2v-9.2h-2zM797.05 773.44h2v-6.78h-2zM799.26 761.81h2v-4.32h-2zM801.47 761.81h2v-7.21h-2zM803.69 762.33h2v-7.26h-2zM805.9 763.28h2v-5.31h-2zM808.11 759.91h2v-3.42h-2zM810.32 759.44h2v-8.21h-2zM812.53 758.92h2v-9.16h-2zM814.75 757.97h2v-10.63h-2zM816.96 755.55h2v-10.63h-2zM819.17 753.61h2v-13h-2zM821.38 755.55h2v-12.05h-2zM823.6 757.97h2v-11.58h-2zM825.81 752.18h2v-13.05h-2zM828.02 753.61h2v-13h-2zM830.23 751.23h2v-13.05h-2zM832.45 750.71h2v-13h-2zM834.66 755.08h2v-11.1h-2zM836.87 759.44h2v-8.21h-2zM839.08 761.34h2v-8.21h-2zM841.29 764.71h2v-5.79h-2zM843.51 770.49h2v-7.69h-2zM845.72 769.07h2v-7.73h-2zM847.93 770.49h2v-9.16h-2zM850.14 771.96h2v-8.68h-2zM852.36 774.38h2v-8.68h-2zM854.57 777.28h2v-7.73h-2zM856.78 779.22h2v-6.78h-2zM858.99 781.59h2v-8.16h-2zM861.2 779.22h2v-7.73h-2zM863.42 778.7h2v-7.21h-2zM865.63 779.7h2v-7.26h-2zM867.84 781.59h2v-4.32h-2zM870.05 783.54h2v-4.32h-2zM872.27 783.54h2v-4.32h-2zM874.48 784.49h2v-1.9h-2zM876.69 785.01h2v-1.95h-2zM878.9 784.11h2v-1.9h-2zM881.12 783.63h2v-3.37h-2zM883.33 785.58h2v-2.89h-2zM885.54 786.53h2v-3.84h-2zM887.75 789.42h2v-3.84h-2zM889.96 792.32h2v-2.42h-2zM892.18 790.89h2v-2.89h-2zM894.39 790.89h2v-2.89h-2zM896.6 793.31h2v-1.47h-2zM898.81 793.79h2v-1.95h-2zM901.03 796.21h2v-1.47h-2zM903.24 798.63h2v-1.47h-2zM905.45 800.05h2v-1.42h-2zM907.66 801h2v-0.95h-2zM909.88 800.52h2v-0.95h-2zM912.09 800.05h2v-1.42h-2zM914.3 797.63h2v-1.42h-2zM916.51 798.63h2v-1h-2zM918.72 800.05h2v-1.42h-2zM920.94 803.42h2v-1.9h-2zM923.15 803.89h2v-1.9h-2zM925.36 801h2v-1.42h-2zM927.57 806.31h2v-1.9h-2zM929.79 807.31h2v-2.42h-2zM932 806.83h2v-2.42h-2zM934.21 806.31h2v-2.37h-2zM936.42 807.31h2v-2.42h-2zM938.64 806.83h2v-2.42h-2zM940.85 803.89h2v-1.42h-2zM943.06 803.42h2v-1.42h-2zM945.27 805.36h2v-1.47h-2zM947.48 805.84h2v-0.95h-2zM949.7 805.84h2v-0.95h-2zM951.91 806.31h2v-0.95h-2zM954.12 804.89h2v-1.47h-2zM956.33 802.94h2v-1.42h-2zM958.55 801.52h2v-2.89h-2zM960.76 801.52h2v-3.42h-2zM962.97 801.52h2v-2.89h-2zM965.18 801h2v-3.37h-2zM967.4 800.52h2v-4.84h-2zM969.61 799.57h2v-6.78h-2zM971.82 799.57h2v-5.36h-2zM974.03 801.52h2v-5.31h-2zM976.24 802.47h2v-2.42h-2zM978.46 801.52h2v-4.84h-2zM980.67 801h2v-3.84h-2zM982.88 800.52h2v-2.89h-2zM985.09 799.57h2v-3.89h-2zM987.31 798.63h2v-3.89h-2zM989.52 798.1h2v-5.79h-2zM991.73 799.1h2v-3.42h-2zM993.94 799.1h2v-6.31h-2zM996.16 799.57h2v-7.26h-2zM998.37 799.57h2v-6.26h-2zM1000.58 798.1h2v-4.32h-2zM1002.79 796.68h2v-3.89h-2zM1005 793.79h2v-2.89h-2zM1007.22 793.31h2v-1.47h-2zM1009.43 793.31h2v-1.47h-2zM1011.64 789.9h2v-1.42h-2zM1013.85 791.84h2v-1.95h-2zM1016.07 788.47h2v-3.37h-2zM1018.28 786.05h2v-1.95h-2zM1020.49 786.05h2v-4.84h-2zM1022.7 787h2v-5.31h-2zM1024.92 792.32h2v-5.31h-2zM1027.13 792.32h2v-5.31h-2zM1029.34 793.79h2v-4.36h-2zM1031.55 788.95h2v-3.84h-2zM1033.76 785.58h2v-4.84h-2zM1035.98 785.58h2v-5.31h-2zM1038.19 788.47h2v-5.79h-2zM1040.4 789.9h2v-3.84h-2zM1042.61 791.84h2v-4.32h-2zM1044.83 789.9h2v-3.84h-2zM1047.04 785.11h2v-3.89h-2zM1049.25 785.11h2v-3.42h-2zM1051.46 788h2v-2.89h-2zM1053.68 789.9h2v-2.89h-2zM1055.89 789.42h2v-3.37h-2zM1058.1 790.89h2v-3.37h-2zM1060.31 794.26h2v-2.89h-2zM1062.52 793.79h2v-2.42h-2zM1064.74 791.84h2v-1.42h-2zM1066.95 795.68h2v-2.37h-2zM1069.16 795.68h2v-2.37h-2zM1071.37 796.68h2v-1.95h-2zM1073.59 800.52h2v-2.42h-2zM1075.8 808.73h2v-0.95h-2zM1078.01 807.78h2v-1.47h-2zM1080.22 807.31h2v-1.47h-2zM1082.43 807.31h2v-1h-2zM1084.65 809.73h2v-1h-2zM1086.86 811.15h2v-0.95h-2zM1089.07 814.04h2v-0.95h-2zM1091.28 814.04h2v-0.95h-2zM1093.5 814.04h2v-0.95h-2zM1095.71 813.57h2v-0.95h-2zM1097.92 814.04h2v-1.42h-2zM1100.13 814.04h2v-0.95h-2zM1102.35 814.99h2v-0.95h-2zM1104.56 815.51h2v-1h-2zM1106.77 814.52h2v-0.95h-2zM1108.98 813.81h2v-1.71h-2zM1111.19 812.81h2v-1.19h-2zM1113.41 811.62h2v-1.42h-2zM1115.62 814.09h2v-1.14h-2zM1117.83 816.37h2v-0.71h-2zM1120.04 816.37h2v-0.81h-2zM1122.26 817.98h2v-0.62h-2zM1124.47 817.98h2v-0.76h-2zM1126.68 815.42h2v-0.81h-2zM1128.89 814.42h2v-0.76h-2zM1131.11 813.81h2v-0.85h-2zM1133.32 815.09h2v-0.71h-2zM1135.53 815.7h2v-0.85h-2zM1137.74 815.7h2v-0.62h-2zM1139.95 815.7h2v-0.62h-2zM1142.17 815.7h2v-0.62h-2zM1144.38 817.32h2v-0.81h-2zM1146.59 818.31h2v-0.76h-2zM1148.8 818.93h2v-0.76h-2zM1151.02 817.65h2v-0.66h-2zM1153.23 818.6h2v-0.19h-2zM1155.44 818.31h2v-0.38h-2zM1157.65 816.7h2v-0.66h-2zM1159.87 816.99h2v-0.24h-2zM1162.08 816.99h2v-0.24h-2zM1164.29 817.65h2v-0.43h-2zM1166.5 816.37h2v-0.57h-2zM1168.71 817.98h2v-0.52h-2zM1170.93 816.37h2v-0.57h-2zM1173.14 812.48h2v-0.71h-2zM1175.35 811.2h2v-0.85h-2zM1177.56 809.3h2v-0.85h-2zM1179.78 807.35h2v-1.28h-2z" fill="#b0b0b0"/><path d="M86.9 825.05h0.75v-0.14h-0.75zM89.11 825h0.75v-0.15h-0.75zM91.32 824.96h0.75v-0.16h-0.75zM93.54 824.91h0.75v-0.17h-0.75zM95.75 824.86h0.75v-0.18h-0.75zM97.96 824.81h0.75v-0.19h-0.75zM100.17 824.77h0.75v-0.2h-0.75zM102.39 824.72h0.75v-0.21h-0.75zM104.6 824.67h0.75v-0.22h-0.75zM106.81 824.62h0.75v-0.23h-0.75zM109.02 824.58h0.75v-0.24h-0.75zM111.24 824.18h0.75v-0.51h-0.75zM113.45 823.78h0.75v-0.79h-0.75zM115.66 823.39h0.75v-1.07h-0.75zM117.87 822.99h0.75v-1.34h-0.75zM120.08 822.6h0.75v-1.62h-0.75zM122.3 822.2h0.75v-1.9h-0.75zM124.51 818.41h0.75v-2.37h-0.75zM126.72 812.72h0.75v-3.32h-0.75zM128.93 804.18h0.75v-4.74h-0.75zM131.15 798.48h0.75v-6.17h-0.75zM133.36 790.42h0.75v-7.12h-0.75zM135.57 783.3h0.75v-9.01h-0.75zM137.78 772.87h0.75v-12.81h-0.75zM140 757.54h0.75v-14.99h-0.75zM142.21 747.53h0.75v-23.72h-0.75zM144.42 736.34h0.75v-28.8h-0.75zM146.63 733.16h0.75v-28.75h-0.75zM148.84 725.05h0.75v-31.26h-0.75zM151.06 726.9h0.75v-29.37h-0.75zM153.27 718.17h0.75v-24.38h-0.75zM155.48 720.07h0.75v-21.92h-0.75zM157.69 727.56h0.75v-22.53h-0.75zM159.91 721.92h0.75v-15.61h-0.75zM162.12 720.07h0.75v-16.03h-0.75zM164.33 723.81h0.75v-18.12h-0.75zM166.54 719.4h0.75v-16.22h-0.75zM168.76 725.66h0.75v-13.62h-0.75zM170.97 734.44h0.75v-15.66h-0.75zM173.18 736.34h0.75v-13.81h-0.75zM175.39 736.34h0.75v-16.27h-0.75zM177.6 737.52h0.75v-16.22h-0.75zM179.82 738.8h0.75v-18.74h-0.75zM182.03 740.04h0.75v-17.51h-0.75zM184.24 746.3h0.75v-16.27h-0.75zM186.45 756.31h0.75v-13.14h-0.75zM188.67 756.93h0.75v-12.52h-0.75zM190.88 760.06h0.75v-10.01h-0.75zM193.09 761.91h0.75v-6.21h-0.75zM195.3 762.52h0.75v-7.5h-0.75zM197.51 761.29h0.75v-6.26h-0.75zM199.73 765.04h0.75v-7.5h-0.75zM201.94 766.32h0.75v-6.26h-0.75zM204.15 766.94h0.75v-4.41h-0.75zM206.36 782.54h0.75v-3.75h-0.75zM208.58 785.06h0.75v-2.51h-0.75zM210.79 783.78h0.75v-3.75h-0.75zM213 786.29h0.75v-2.51h-0.75zM215.21 790.04h0.75v-1.85h-0.75zM217.43 793.79h0.75v-3.13h-0.75zM219.64 797.53h0.75v-3.13h-0.75zM221.85 803.81h0.75v-0.8h-0.75zM224.06 804.21h0.75v-0.81h-0.75zM226.27 804.21h0.75v-0.81h-0.75zM228.49 804.21h0.75v-0.81h-0.75zM230.7 809.85h0.75v-0.81h-0.75zM232.91 811.45h0.75v-0.8h-0.75zM235.12 813.87h0.75v-0.81h-0.75zM237.34 814.67h0.75v-0.8h-0.75zM239.55 816.28h0.75v-0.81h-0.75zM241.76 816.68h0.75v-0.8h-0.75zM243.97 815.48h0.75v-0.81h-0.75zM246.19 818.29h0.75v-0.81h-0.75zM248.4 819.5h0.75v-0.81h-0.75zM250.61 820.3h0.75v-0.8h-0.75zM252.82 821.11h0.75v-0.81h-0.75zM255.03 821.91h0.75v-1.21h-0.75zM257.25 821.91h0.75v-0.81h-0.75zM259.46 821.91h0.75v-0.81h-0.75zM261.67 822.31h0.75v-0.8h-0.75zM263.88 821.91h0.75v-0.81h-0.75zM266.1 823.12h0.75v-0.4h-0.75zM268.31 823.12h0.75v-0.4h-0.75zM270.52 823.12h0.75v-0.81h-0.75zM272.73 823.12h0.75v-0.81h-0.75zM274.95 823.12h0.75v-0.4h-0.75zM277.16 823.12h0.75v-0.81h-0.75zM279.37 823.93h0.75v-0.4h-0.75zM281.58 824.32h0.75v-0.4h-0.75zM283.79 823.52h0.75v-0.81h-0.75zM286.01 823.52h0.75v-0.81h-0.75zM288.22 823.52h0.75v-0.81h-0.75zM290.43 823.52h0.75v-0.81h-0.75zM292.64 823.52h0.75v-0.81h-0.75zM294.86 823.52h0.75v-0.81h-0.75zM297.07 823.52h0.75v-0.81h-0.75zM299.28 824.32h0.75v-0.4h-0.75zM301.49 823.93h0.75v-0.81h-0.75zM303.71 823.93h0.75v-0.81h-0.75zM305.92 823.93h0.75v-0.81h-0.75zM308.13 823.93h0.75v-1.21h-0.75zM310.34 823.66h0.75v-0.52h-0.75zM312.55 824.18h0.75v-0.33h-0.75zM314.77 824.18h0.75v-0.33h-0.75zM316.98 824.18h0.75v-0.33h-0.75zM319.19 824.18h0.75v-0.33h-0.75zM321.4 824.18h0.75v-0.33h-0.75zM323.62 824.18h0.75v-0.33h-0.75zM325.83 824.18h0.75v-0.33h-0.75zM328.04 824.18h0.75v-0.33h-0.75zM330.25 824.37h0.75v-0.26h-0.75zM332.47 824.44h0.75v-0.23h-0.75zM334.68 824.37h0.75v-0.26h-0.75zM336.89 824.31h0.75v-0.28h-0.75zM339.1 824.37h0.75v-0.26h-0.75zM341.31 823.99h0.75v-0.4h-0.75zM343.53 824.22h0.75v-0.31h-0.75zM345.74 824.63h0.75v-0.16h-0.75zM347.95 824.63h0.75v-0.16h-0.75zM350.16 824.63h0.75v-0.16h-0.75zM352.38 824.63h0.75v-0.16h-0.75zM354.59 824.63h0.75v-0.16h-0.75zM356.8 824.86h0.75v-0.07h-0.75zM359.01 824.86h0.75v-0.07h-0.75zM361.23 824.86h0.75v-0.07h-0.75zM363.44 824.86h0.75v-0.07h-0.75zM365.65 824.86h0.75v-0.07h-0.75zM367.86 824.86h0.75v-0.07h-0.75zM370.07 824.86h0.75v-0.07h-0.75zM372.29 824.86h0.75v-0.07h-0.75zM374.5 824.86h0.75v-0.07h-0.75zM376.71 824.86h0.75v-0.07h-0.75zM378.92 824.86h0.75v-0.07h-0.75zM381.14 824.86h0.75v-0.07h-0.75zM383.35 824.69h0.75v-0.13h-0.75zM385.56 824.54h0.75v-0.19h-0.75zM387.77 824.69h0.75v-0.13h-0.75zM389.99 824.69h0.75v-0.13h-0.75zM392.2 824.69h0.75v-0.13h-0.75zM394.41 824.69h0.75v-0.13h-0.75zM396.62 824.69h0.75v-0.13h-0.75zM398.83 824.69h0.75v-0.13h-0.75zM401.05 824.74h0.75v-0.06h-0.75zM403.26 824.74h0.75v-0.06h-0.75zM405.47 824.74h0.75v-0.06h-0.75zM407.68 824.74h0.75v-0.06h-0.75zM409.9 824.74h0.75v-0.06h-0.75zM412.11 824.74h0.75v-0.06h-0.75zM414.32 824.74h0.75v-0.06h-0.75zM416.53 824.74h0.75v-0.06h-0.75zM418.75 824.74h0.75v-0.06h-0.75zM420.96 824.74h0.75v-0.06h-0.75zM423.17 823.15h0.75v-0.28h-0.75zM425.38 823.48h0.75v-0.28h-0.75zM427.59 821.92h0.75v-0.28h-0.75zM429.81 820.64h0.75v-0.28h-0.75zM432.02 820.02h0.75v-0.28h-0.75zM434.23 819.59h0.75v-0.28h-0.75zM436.44 819.26h0.75v-0.28h-0.75zM438.66 818.74h0.75v-0.28h-0.75zM440.87 818.74h0.75v-0.28h-0.75zM443.08 818.98h0.75v-0.28h-0.75zM445.29 818.98h0.75v-0.28h-0.75zM447.5 819.26h0.75v-0.28h-0.75zM449.72 820.64h0.75v-0.28h-0.75zM451.93 820.02h0.75v-0.28h-0.75zM454.14 818.55h0.75v-0.28h-0.75zM456.35 816.13h0.75v-0.28h-0.75zM458.57 814.04h0.75v-0.28h-0.75zM460.78 815.09h0.75v-0.28h-0.75zM462.99 815.85h0.75v-0.28h-0.75zM465.2 815.61h0.75v-0.28h-0.75zM467.42 814.38h0.75v-0.28h-0.75zM469.63 813.33h0.75v-0.28h-0.75zM471.84 812.38h0.75v-1.57h-0.75zM474.05 813.43h0.75v-0.95h-0.75zM476.26 813.9h0.75v-0.95h-0.75zM478.48 814.38h0.75v-0.95h-0.75zM480.69 815.32h0.75v-0.95h-0.75zM482.9 815.32h0.75v-1.19h-0.75zM485.11 817.08h0.75v-1.52h-0.75zM487.33 816.51h0.75v-1.42h-0.75zM489.54 815.56h0.75v-1.42h-0.75zM491.75 814.38h0.75v-1.42h-0.75zM493.96 813.19h0.75v-1.66h-0.75zM496.18 809.25h0.75v-2.09h-0.75zM498.39 811.86h0.75v-3.18h-0.75zM500.6 811.53h0.75v-2.37h-0.75zM502.81 812h0.75v-1.9h-0.75zM505.02 807.17h0.75v-2.61h-0.75zM507.24 806.79h0.75v-2.61h-0.75zM509.45 809.77h0.75v-2.28h-0.75zM511.66 811.34h0.75v-1.95h-0.75zM513.87 805.6h0.75v-1.04h-0.75zM516.09 805.6h0.75v-1.04h-0.75zM518.3 803.51h0.75v-0.52h-0.75zM520.51 805.17h0.75v-2.42h-0.75zM522.72 803.7h0.75v-3.37h-0.75zM524.94 805.65h0.75v-2.89h-0.75zM527.15 805.65h0.75v-2.89h-0.75zM529.36 805.65h0.75v-2.42h-0.75zM531.57 805.65h0.75v-1.95h-0.75zM533.78 804.22h0.75v-1.47h-0.75zM536 801.8h0.75v-2.42h-0.75zM538.21 801.8h0.75v-5.79h-0.75zM540.42 799.38h0.75v-3.37h-0.75zM542.63 800.33h0.75v-3.37h-0.75zM544.85 805.17h0.75v-2.42h-0.75zM547.06 803.7h0.75v-2.89h-0.75zM549.27 806.12h0.75v-2.89h-0.75zM551.48 806.12h0.75v-2.89h-0.75zM553.7 806.6h0.75v-1.9h-0.75zM555.91 805.65h0.75v-1.95h-0.75zM558.12 805.65h0.75v-1.95h-0.75zM560.33 807.59h0.75v-2.42h-0.75zM562.54 807.59h0.75v-1.95h-0.75zM564.76 809.49h0.75v-1.42h-0.75zM566.97 809.49h0.75v-1.42h-0.75zM569.18 809.02h0.75v-0.47h-0.75zM571.39 808.07h0.75v-0.95h-0.75zM573.61 807.59h0.75v-0.47h-0.75zM575.82 809.02h0.75v-0.47h-0.75zM578.03 809.02h0.75v-0.47h-0.75zM580.24 810.96h0.75v-0.47h-0.75zM582.46 811.43h0.75v-0.47h-0.75zM584.67 810.01h0.75v-0.47h-0.75zM586.88 809.02h0.75v-0.95h-0.75zM589.09 810.01h0.75v-1h-0.75zM591.3 810.96h0.75v-0.95h-0.75zM593.52 811.91h0.75v-0.95h-0.75zM595.73 813.85h0.75v-0.95h-0.75zM597.94 812.91h0.75v-1.47h-0.75zM600.15 809.49h0.75v-1.9h-0.75zM602.37 806.6h0.75v-0.95h-0.75zM604.58 806.6h0.75v-0.95h-0.75zM606.79 807.12h0.75v-1.47h-0.75zM609 807.12h0.75v-1.47h-0.75zM611.22 804.22h0.75v-2.42h-0.75zM613.43 802.75h0.75v-2.42h-0.75zM615.64 801.8h0.75v-3.89h-0.75zM617.85 796.97h0.75v-3.84h-0.75zM620.06 795.02h0.75v-4.79h-0.75zM622.28 794.55h0.75v-5.31h-0.75zM624.49 793.12h0.75v-6.78h-0.75zM626.7 788.28h0.75v-6.69h-0.75zM628.91 781.5h0.75v-7.21h-0.75zM631.13 778.61h0.75v-8.68h-0.75zM633.34 775.71h0.75v-8.68h-0.75zM635.55 775.71h0.75v-7.21h-0.75zM637.76 774.76h0.75v-5.79h-0.75zM639.97 773.63h0.75v-6.31h-0.75zM642.19 771.68h0.75v-7.73h-0.75zM644.4 772.68h0.75v-5.36h-0.75zM646.61 764.9h0.75v-8.16h-0.75zM648.82 764.42h0.75v-10.1h-0.75zM651.04 761.05h0.75v-11.1h-0.75zM653.25 759.11h0.75v-9.63h-0.75zM655.46 760.58h0.75v-8.68h-0.75zM657.67 764.9h0.75v-7.21h-0.75zM659.89 762h0.75v-7.69h-0.75zM662.1 759.11h0.75v-7.21h-0.75zM664.31 763h0.75v-7.73h-0.75zM666.52 760.58h0.75v-7.73h-0.75zM668.73 766.37h0.75v-10.15h-0.75zM670.95 768.31h0.75v-9.2h-0.75zM673.16 767.79h0.75v-8.16h-0.75zM675.37 767.32h0.75v-7.26h-0.75zM677.58 767.32h0.75v-6.74h-0.75zM679.8 773.1h0.75v-6.74h-0.75zM682.01 769.26h0.75v-9.2h-0.75zM684.22 770.21h0.75v-10.15h-0.75zM686.43 776.99h0.75v-7.73h-0.75zM688.65 778.89h0.75v-7.21h-0.75zM690.86 776.99h0.75v-6.78h-0.75zM693.07 776.52h0.75v-6.78h-0.75zM695.28 779.41h0.75v-8.21h-0.75zM697.49 777.94h0.75v-7.73h-0.75zM699.71 774.57h0.75v-8.21h-0.75zM701.92 776.52h0.75v-7.26h-0.75zM704.13 776.99h0.75v-4.36h-0.75zM706.34 777.47h0.75v-4.36h-0.75zM708.56 777.47h0.75v-4.36h-0.75zM710.77 780.36h0.75v-3.37h-0.75zM712.98 779.89h0.75v-2.42h-0.75zM715.19 781.31h0.75v-2.42h-0.75zM717.41 783.26h0.75v-2.42h-0.75zM719.62 785.67h0.75v-1.95h-0.75zM721.83 784.73h0.75v-1.47h-0.75zM724.04 782.31h0.75v-1.95h-0.75zM726.25 786.15h0.75v-2.42h-0.75zM728.47 787.62h0.75v-1.95h-0.75zM730.68 789.04h0.75v-1.42h-0.75zM732.89 791.94h0.75v-1.42h-0.75zM735.1 794.36h0.75v-1.47h-0.75zM737.32 794.36h0.75v-1.47h-0.75zM739.53 794.83h0.75v-1.42h-0.75zM741.74 795.31h0.75v-1.42h-0.75zM743.95 798.72h0.75v-1.47h-0.75zM746.17 802.09h0.75v-1.95h-0.75zM748.38 801.09h0.75v-1.42h-0.75zM750.59 800.14h0.75v-1.95h-0.75zM752.8 799.2h0.75v-1.95h-0.75zM755.01 800.14h0.75v-3.84h-0.75zM757.23 801.42h0.75v-5.31h-0.75zM759.44 801.9h0.75v-5.79h-0.75zM761.65 801.42h0.75v-5.79h-0.75zM763.86 800.9h0.75v-5.27h-0.75zM766.08 800.9h0.75v-5.27h-0.75zM768.29 800.43h0.75v-6.26h-0.75zM770.5 799.95h0.75v-7.73h-0.75zM772.71 800.43h0.75v-5.31h-0.75zM774.93 799.95h0.75v-6.26h-0.75zM777.14 797.53h0.75v-9.16h-0.75zM779.35 795.12h0.75v-7.69h-0.75zM781.56 793.69h0.75v-10.63h-0.75zM783.77 790.32h0.75v-13.52h-0.75zM785.99 787.43h0.75v-10.15h-0.75zM788.2 781.12h0.75v-10.63h-0.75zM790.41 778.7h0.75v-10.58h-0.75zM792.62 774.38h0.75v-9.68h-0.75zM794.84 773.44h0.75v-9.2h-0.75zM797.05 773.44h0.75v-6.78h-0.75zM799.26 761.81h0.75v-4.32h-0.75zM801.47 761.81h0.75v-7.21h-0.75zM803.69 762.33h0.75v-7.26h-0.75zM805.9 763.28h0.75v-5.31h-0.75zM808.11 759.91h0.75v-3.42h-0.75zM810.32 759.44h0.75v-8.21h-0.75zM812.53 758.92h0.75v-9.16h-0.75zM814.75 757.97h0.75v-10.63h-0.75zM816.96 755.55h0.75v-10.63h-0.75zM819.17 753.61h0.75v-13h-0.75zM821.38 755.55h0.75v-12.05h-0.75zM823.6 757.97h0.75v-11.58h-0.75zM825.81 752.18h0.75v-13.05h-0.75zM828.02 753.61h0.75v-13h-0.75zM830.23 751.23h0.75v-13.05h-0.75zM832.45 750.71h0.75v-13h-0.75zM834.66 755.08h0.75v-11.1h-0.75zM836.87 759.44h0.75v-8.21h-0.75zM839.08 761.34h0.75v-8.21h-0.75zM841.29 764.71h0.75v-5.79h-0.75zM843.51 770.49h0.75v-7.69h-0.75zM845.72 769.07h0.75v-7.73h-0.75zM847.93 770.49h0.75v-9.16h-0.75zM850.14 771.96h0.75v-8.68h-0.75zM852.36 774.38h0.75v-8.68h-0.75zM854.57 777.28h0.75v-7.73h-0.75zM856.78 779.22h0.75v-6.78h-0.75zM858.99 781.59h0.75v-8.16h-0.75zM861.2 779.22h0.75v-7.73h-0.75zM863.42 778.7h0.75v-7.21h-0.75zM865.63 779.7h0.75v-7.26h-0.75zM867.84 781.59h0.75v-4.32h-0.75zM870.05 783.54h0.75v-4.32h-0.75zM872.27 783.54h0.75v-4.32h-0.75zM874.48 784.49h0.75v-1.9h-0.75zM876.69 785.01h0.75v-1.95h-0.75zM878.9 784.11h0.75v-1.9h-0.75zM881.12 783.63h0.75v-3.37h-0.75zM883.33 785.58h0.75v-2.89h-0.75zM885.54 786.53h0.75v-3.84h-0.75zM887.75 789.42h0.75v-3.84h-0.75zM889.96 792.32h0.75v-2.42h-0.75zM892.18 790.89h0.75v-2.89h-0.75zM894.39 790.89h0.75v-2.89h-0.75zM896.6 793.31h0.75v-1.47h-0.75zM898.81 793.79h0.75v-1.95h-0.75zM901.03 796.21h0.75v-1.47h-0.75zM903.24 798.63h0.75v-1.47h-0.75zM905.45 800.05h0.75v-1.42h-0.75zM907.66 801h0.75v-0.95h-0.75zM909.88 800.52h0.75v-0.95h-0.75zM912.09 800.05h0.75v-1.42h-0.75zM914.3 797.63h0.75v-1.42h-0.75zM916.51 798.63h0.75v-1h-0.75zM918.72 800.05h0.75v-1.42h-0.75zM920.94 803.42h0.75v-1.9h-0.75zM923.15 803.89h0.75v-1.9h-0.75zM925.36 801h0.75v-1.42h-0.75zM927.57 806.31h0.75v-1.9h-0.75zM929.79 807.31h0.75v-2.42h-0.75zM932 806.83h0.75v-2.42h-0.75zM934.21 806.31h0.75v-2.37h-0.75zM936.42 807.31h0.75v-2.42h-0.75zM938.64 806.83h0.75v-2.42h-0.75zM940.85 803.89h0.75v-1.42h-0.75zM943.06 803.42h0.75v-1.42h-0.75zM945.27 805.36h0.75v-1.47h-0.75zM947.48 805.84h0.75v-0.95h-0.75zM949.7 805.84h0.75v-0.95h-0.75zM951.91 806.31h0.75v-0.95h-0.75zM954.12 804.89h0.75v-1.47h-0.75zM956.33 802.94h0.75v-1.42h-0.75zM958.55 801.52h0.75v-2.89h-0.75zM960.76 801.52h0.75v-3.42h-0.75zM962.97 801.52h0.75v-2.89h-0.75zM965.18 801h0.75v-3.37h-0.75zM967.4 800.52h0.75v-4.84h-0.75zM969.61 799.57h0.75v-6.78h-0.75zM971.82 799.57h0.75v-5.36h-0.75zM974.03 801.52h0.75v-5.31h-0.75zM976.24 802.47h0.75v-2.42h-0.75zM978.46 801.52h0.75v-4.84h-0.75zM980.67 801h0.75v-3.84h-0.75zM982.88 800.52h0.75v-2.89h-0.75zM985.09 799.57h0.75v-3.89h-0.75zM987.31 798.63h0.75v-3.89h-0.75zM989.52 798.1h0.75v-5.79h-0.75zM991.73 799.1h0.75v-3.42h-0.75zM993.94 799.1h0.75v-6.31h-0.75zM996.16 799.57h0.75v-7.26h-0.75zM998.37 799.57h0.75v-6.26h-0.75zM1000.58 798.1h0.75v-4.32h-0.75zM1002.79 796.68h0.75v-3.89h-0.75zM1005 793.79h0.75v-2.89h-0.75zM1007.22 793.31h0.75v-1.47h-0.75zM1009.43 793.31h0.75v-1.47h-0.75zM1011.64 789.9h0.75v-1.42h-0.75zM1013.85 791.84h0.75v-1.95h-0.75zM1016.07 788.47h0.75v-3.37h-0.75zM1018.28 786.05h0.75v-1.95h-0.75zM1020.49 786.05h0.75v-4.84h-0.75zM1022.7 787h0.75v-5.31h-0.75zM1024.92 792.32h0.75v-5.31h-0.75zM1027.13 792.32h0.75v-5.31h-0.75zM1029.34 793.79h0.75v-4.36h-0.75zM1031.55 788.95h0.75v-3.84h-0.75zM1033.76 785.58h0.75v-4.84h-0.75zM1035.98 785.58h0.75v-5.31h-0.75zM1038.19 788.47h0.75v-5.79h-0.75zM1040.4 789.9h0.75v-3.84h-0.75zM1042.61 791.84h0.75v-4.32h-0.75zM1044.83 789.9h0.75v-3.84h-0.75zM1047.04 785.11h0.75v-3.89h-0.75zM1049.25 785.11h0.75v-3.42h-0.75zM1051.46 788h0.75v-2.89h-0.75zM1053.68 789.9h0.75v-2.89h-0.75zM1055.89 789.42h0.75v-3.37h-0.75zM1058.1 790.89h0.75v-3.37h-0.75zM1060.31 794.26h0.75v-2.89h-0.75zM1062.52 793.79h0.75v-2.42h-0.75zM1064.74 791.84h0.75v-1.42h-0.75zM1066.95 795.68h0.75v-2.37h-0.75zM1069.16 795.68h0.75v-2.37h-0.75zM1071.37 796.68h0.75v-1.95h-0.75zM1073.59 800.52h0.75v-2.42h-0.75zM1075.8 808.73h0.75v-0.95h-0.75zM1078.01 807.78h0.75v-1.47h-0.75zM1080.22 807.31h0.75v-1.47h-0.75zM1082.43 807.31h0.75v-1h-0.75zM1084.65 809.73h0.75v-1h-0.75zM1086.86 811.15h0.75v-0.95h-0.75zM1089.07 814.04h0.75v-0.95h-0.75zM1091.28 814.04h0.75v-0.95h-0.75zM1093.5 814.04h0.75v-0.95h-0.75zM1095.71 813.57h0.75v-0.95h-0.75zM1097.92 814.04h0.75v-1.42h-0.75zM1100.13 814.04h0.75v-0.95h-0.75zM1102.35 814.99h0.75v-0.95h-0.75zM1104.56 815.51h0.75v-1h-0.75zM1106.77 814.52h0.75v-0.95h-0.75zM1108.98 813.81h0.75v-1.71h-0.75zM1111.19 812.81h0.75v-1.19h-0.75zM1113.41 811.62h0.75v-1.42h-0.75zM1115.62 814.09h0.75v-1.14h-0.75zM1117.83 816.37h0.75v-0.71h-0.75zM1120.04 816.37h0.75v-0.81h-0.75zM1122.26 817.98h0.75v-0.62h-0.75zM1124.47 817.98h0.75v-0.76h-0.75zM1126.68 815.42h0.75v-0.81h-0.75zM1128.89 814.42h0.75v-0.76h-0.75zM1131.11 813.81h0.75v-0.85h-0.75zM1133.32 815.09h0.75v-0.71h-0.75zM1135.53 815.7h0.75v-0.85h-0.75zM1137.74 815.7h0.75v-0.62h-0.75zM1139.95 815.7h0.75v-0.62h-0.75zM1142.17 815.7h0.75v-0.62h-0.75zM1144.38 817.32h0.75v-0.81h-0.75zM1146.59 818.31h0.75v-0.76h-0.75zM1148.8 818.93h0.75v-0.76h-0.75zM1151.02 817.65h0.75v-0.66h-0.75zM1153.23 818.6h0.75v-0.19h-0.75zM1155.44 818.31h0.75v-0.38h-0.75zM1157.65 816.7h0.75v-0.66h-0.75zM1159.87 816.99h0.75v-0.24h-0.75zM1162.08 816.99h0.75v-0.24h-0.75zM1164.29 817.65h0.75v-0.43h-0.75zM1166.5 816.37h0.75v-0.57h-0.75zM1168.71 817.98h0.75v-0.52h-0.75zM1170.93 816.37h0.75v-0.57h-0.75zM1173.14 812.48h0.75v-0.71h-0.75zM1175.35 811.2h0.75v-0.85h-0.75zM1177.56 809.3h0.75v-0.85h-0.75zM1179.78 807.35h0.75v-1.28h-0.75z" fill="#7a7a7a"/><path d="M86.9 824.91h2v-0.14h-2zM89.11 824.85h2v-0.1h-2zM91.32 824.79h2v-0.05h-2zM109.02 824.34h2v-0.24h-2zM111.24 823.67h2v-0.36h-2zM113.45 822.99h2v-0.47h-2zM115.66 822.32h2v-0.59h-2zM117.87 821.65h2v-0.87h-2zM120.08 820.98h2v-1.15h-2zM122.3 820.31h2v-1.42h-2zM124.51 816.04h2v-2.6h-2zM126.72 809.39h2v-4.86h-2zM128.93 799.43h2v-7.7h-2zM131.15 792.32h2v-10.15h-2zM133.36 783.3h2v-12.99h-2zM135.57 774.29h2v-15.82h-2zM137.78 760.06h2v-20.08h-2zM140 742.55h2v-25.62h-2zM142.21 723.81h2v-33.78h-2zM144.42 707.54h2v-39.99h-2zM146.63 704.41h2v-46.87h-2zM148.84 693.78h2v-47.49h-2zM151.06 697.53h2v-49.39h-2zM153.27 693.78h2v-53.13h-2zM155.48 698.15h2v-49.34h-2zM157.69 705.03h2v-44.97h-2zM159.91 706.31h2v-43.79h-2zM162.12 704.03h2v-42.74h-2zM164.33 705.69h2v-40.04h-2zM166.54 703.18h2v-43.12h-2zM168.76 712.05h2v-35.77h-2zM170.97 718.78h2v-38.76h-2zM173.18 722.53h2v-37.48h-2zM175.39 720.07h2v-37.53h-2zM177.6 721.3h2v-36.24h-2zM179.82 720.07h2v-35.01h-2zM182.03 722.53h2v-37.48h-2zM184.24 730.03h2v-34.35h-2zM186.45 743.17h2v-30.65h-2zM188.67 744.4h2v-29.98h-2zM190.88 750.05h2v-27.52h-2zM193.09 755.69h2v-23.15h-2zM195.3 755.03h2v-21.87h-2zM197.51 755.03h2v-25h-2zM199.73 757.54h2v-20.02h-2zM201.94 760.06h2v-19.4h-2zM204.15 762.52h2v-19.36h-2zM206.36 778.8h2v-18.74h-2zM208.58 782.54h2v-18.12h-2zM210.79 780.03h2v-18.74h-2zM213 783.78h2v-19.36h-2zM215.21 788.19h2v-14.37h-2zM217.43 790.66h2v-12.48h-2zM219.64 794.4h2v-10.63h-2zM221.85 803.01h2v-11.27h-2zM224.06 803.41h2v-11.26h-2zM226.27 803.41h2v-9.25h-2zM228.49 803.41h2v-8.85h-2zM230.7 809.04h2v-5.63h-2zM232.91 810.65h2v-3.62h-2zM235.12 813.06h2v-3.62h-2zM237.34 813.87h2v-2.82h-2zM239.55 815.48h2v-3.62h-2zM241.76 815.88h2v-4.02h-2zM243.97 814.67h2v-3.62h-2zM246.19 817.49h2v-2.41h-2zM248.4 818.69h2v-2.81h-2zM250.61 819.5h2v-2.41h-2zM252.82 820.3h2v-2.41h-2zM255.03 820.7h2v-2.01h-2zM257.25 821.11h2v-2.01h-2zM259.46 821.11h2v-2.41h-2zM261.67 821.51h2v-2.01h-2zM263.88 821.11h2v-1.2h-2zM266.1 822.72h2v-1.61h-2zM268.31 822.72h2v-1.61h-2zM270.52 822.31h2v-2.41h-2zM272.73 822.31h2v-2.01h-2zM274.95 822.72h2v-1.61h-2zM277.16 822.31h2v-2.81h-2zM279.37 823.52h2v-1.21h-2zM281.58 823.93h2v-1.21h-2zM283.79 822.72h2v-1.2h-2zM286.01 822.72h2v-1.2h-2zM288.22 822.72h2v-1.2h-2zM290.43 822.72h2v-1.61h-2zM292.64 822.72h2v-2.01h-2zM294.86 822.72h2v-1.61h-2zM297.07 822.72h2v-1.2h-2zM299.28 823.93h2v-0.81h-2zM301.49 823.12h2v-0.81h-2zM303.71 823.12h2v-1.2h-2zM305.92 823.12h2v-1.2h-2zM308.13 822.72h2v-1.2h-2zM310.34 823.14h2v-1.56h-2zM312.55 823.85h2v-0.98h-2zM314.77 823.85h2v-0.98h-2zM316.98 823.85h2v-0.98h-2zM319.19 823.85h2v-0.98h-2zM321.4 823.85h2v-0.98h-2zM323.62 823.85h2v-0.98h-2zM325.83 823.85h2v-0.98h-2zM328.04 823.85h2v-0.98h-2zM330.25 824.11h2v-0.77h-2zM332.47 824.22h2v-0.68h-2zM334.68 824.11h2v-0.77h-2zM336.89 824.03h2v-0.83h-2zM339.1 824.11h2v-0.77h-2zM341.31 823.59h2v-1.2h-2zM343.53 823.9h2v-0.94h-2zM345.74 824.48h2v-0.47h-2zM347.95 824.48h2v-0.47h-2zM350.16 824.48h2v-0.47h-2zM352.38 824.48h2v-0.47h-2zM354.59 824.48h2v-0.47h-2zM356.8 824.79h2v-0.21h-2zM359.01 824.79h2v-0.21h-2zM361.23 824.79h2v-0.21h-2zM363.44 824.79h2v-0.21h-2zM365.65 824.79h2v-0.21h-2zM367.86 824.79h2v-0.21h-2zM370.07 824.79h2v-0.21h-2zM372.29 824.79h2v-0.21h-2zM374.5 824.79h2v-0.21h-2zM376.71 824.79h2v-0.21h-2zM378.92 824.79h2v-0.21h-2zM381.14 824.79h2v-0.21h-2zM383.35 824.56h2v-0.41h-2zM385.56 824.34h2v-0.57h-2zM387.77 824.56h2v-0.41h-2zM389.99 824.56h2v-0.41h-2zM392.2 824.56h2v-0.41h-2zM394.41 824.56h2v-0.41h-2zM396.62 824.56h2v-0.41h-2zM398.83 824.56h2v-0.41h-2zM401.05 824.68h2v-0.25h-2zM403.26 824.68h2v-0.25h-2zM405.47 824.68h2v-0.25h-2zM407.68 824.68h2v-0.25h-2zM409.9 824.68h2v-0.25h-2zM412.11 824.68h2v-0.25h-2zM414.32 824.68h2v-0.25h-2zM416.53 824.68h2v-0.25h-2zM418.75 824.68h2v-0.25h-2zM420.96 824.68h2v-0.25h-2zM423.17 822.87h2v-0.85h-2zM425.38 823.2h2v-0.85h-2zM427.59 821.63h2v-0.85h-2zM429.81 820.35h2v-0.85h-2zM432.02 819.74h2v-0.85h-2zM434.23 819.31h2v-0.85h-2zM436.44 818.98h2v-0.85h-2zM438.66 818.46h2v-0.85h-2zM440.87 818.46h2v-0.85h-2zM443.08 818.69h2v-0.85h-2zM445.29 818.69h2v-0.85h-2zM447.5 818.98h2v-0.85h-2zM449.72 820.35h2v-0.85h-2zM451.93 819.74h2v-0.85h-2zM454.14 818.27h2v-0.85h-2zM456.35 815.85h2v-0.85h-2zM458.57 813.76h2v-0.85h-2zM460.78 814.8h2v-0.85h-2zM462.99 815.56h2v-0.85h-2zM465.2 815.32h2v-0.85h-2zM467.42 814.09h2v-0.85h-2zM469.63 813.05h2v-0.85h-2zM471.84 810.82h2v-1.66h-2zM474.05 812.48h2v-1.66h-2zM476.26 812.95h2v-1.61h-2zM478.48 813.43h2v-1.57h-2zM480.69 814.38h2v-1.47h-2zM482.9 814.14h2v-1.76h-2zM485.11 815.56h2v-1.61h-2zM487.33 815.09h2v-2.7h-2zM489.54 814.14h2v-2.8h-2zM491.75 812.95h2v-3.7h-2zM493.96 811.53h2v-3.32h-2zM496.18 807.17h2v-4.17h-2zM498.39 808.68h2v-3.08h-2zM500.6 809.16h2v-4.6h-2zM502.81 810.11h2v-3.98h-2zM505.02 804.56h2v-2.61h-2zM507.24 804.18h2v-3.8h-2zM509.45 807.5h2v-5.03h-2zM511.66 809.39h2v-3.8h-2zM513.87 804.56h2v-5.74h-2zM516.09 804.56h2v-5.98h-2zM518.3 802.99h2v-7.35h-2zM520.51 802.75h2v-6.74h-2zM522.72 800.33h2v-8.16h-2zM524.94 802.75h2v-7.69h-2zM527.15 802.75h2v-8.68h-2zM529.36 803.23h2v-8.16h-2zM531.57 803.7h2v-7.69h-2zM533.78 802.75h2v-7.21h-2zM536 799.38h2v-7.21h-2zM538.21 796.02h2v-5.79h-2zM540.42 796.02h2v-5.31h-2zM542.63 796.97h2v-3.37h-2zM544.85 802.75h2v-3.84h-2zM547.06 800.81h2v-3.37h-2zM549.27 803.23h2v-3.84h-2zM551.48 803.23h2v-4.84h-2zM553.7 804.7h2v-4.84h-2zM555.91 803.7h2v-3.37h-2zM558.12 803.7h2v-3.37h-2zM560.33 805.17h2v-3.37h-2zM562.54 805.65h2v-4.32h-2zM564.76 808.07h2v-2.42h-2zM566.97 808.07h2v-1.95h-2zM569.18 808.54h2v-2.42h-2zM571.39 807.12h2v-1h-2zM573.61 807.12h2v-0.52h-2zM575.82 808.54h2v-0.47h-2zM578.03 808.54h2v-1.42h-2zM580.24 810.49h2v-1.47h-2zM582.46 810.96h2v-0.95h-2zM584.67 809.54h2v-1.47h-2zM586.88 808.07h2v-2.42h-2zM589.09 809.02h2v-2.42h-2zM591.3 810.01h2v-2.42h-2zM593.52 810.96h2v-2.42h-2zM595.73 812.91h2v-2.89h-2zM597.94 811.43h2v-4.84h-2zM600.15 807.59h2v-6.26h-2zM602.37 805.65h2v-7.73h-2zM604.58 805.65h2v-7.73h-2zM606.79 805.65h2v-6.74h-2zM609 805.65h2v-7.26h-2zM611.22 801.8h2v-6.78h-2zM613.43 800.33h2v-7.73h-2zM615.64 797.91h2v-8.21h-2zM617.85 793.12h2v-6.78h-2zM620.06 790.23h2v-9.73h-2zM622.28 789.23h2v-13.05h-2zM624.49 786.34h2v-12.1h-2zM626.7 781.59h2v-12.62h-2zM628.91 774.29h2v-11.62h-2zM631.13 769.92h2v-12.57h-2zM633.34 767.03h2v-13.05h-2zM635.55 768.5h2v-11.62h-2zM637.76 768.98h2v-12.57h-2zM639.97 767.32h2v-10.58h-2zM642.19 763.95h2v-12.1h-2zM644.4 767.32h2v-14.99h-2zM646.61 756.74h2v-14.04h-2zM648.82 754.32h2v-12.57h-2zM651.04 749.95h2v-13.99h-2zM653.25 749.48h2v-15.99h-2zM655.46 751.9h2v-18.41h-2zM657.67 757.69h2v-15.47h-2zM659.89 754.32h2v-17.88h-2zM662.1 751.9h2v-18.41h-2zM664.31 755.27h2v-17.51h-2zM666.52 752.85h2v-19.36h-2zM668.73 756.21h2v-19.31h-2zM670.95 759.11h2v-19.31h-2zM673.16 759.63h2v-16.46h-2zM675.37 760.06h2v-18.31h-2zM677.58 760.58h2v-18.83h-2zM679.8 766.37h2v-15.94h-2zM682.01 760.06h2v-16.89h-2zM684.22 760.06h2v-16.89h-2zM686.43 769.26h2v-17.41h-2zM688.65 771.68h2v-18.36h-2zM690.86 770.21h2v-19.31h-2zM693.07 769.73h2v-20.78h-2zM695.28 771.21h2v-19.78h-2zM697.49 770.21h2v-19.31h-2zM699.71 766.37h2v-18.79h-2zM701.92 769.26h2v-18.36h-2zM704.13 772.63h2v-19.31h-2zM706.34 773.1h2v-18.36h-2zM708.56 773.1h2v-18.36h-2zM710.77 776.99h2v-14.52h-2zM712.98 777.47h2v-16.56h-2zM715.19 778.89h2v-16.89h-2zM717.41 780.84h2v-15.51h-2zM719.62 783.73h2v-14.47h-2zM721.83 783.26h2v-15.94h-2zM724.04 780.36h2v-15.04h-2zM726.25 783.73h2v-13.99h-2zM728.47 785.67h2v-14.47h-2zM730.68 787.62h2v-13.52h-2zM732.89 790.51h2v-13.52h-2zM735.1 792.89h2v-11.1h-2zM737.32 792.89h2v-10.1h-2zM739.53 793.41h2v-10.15h-2zM741.74 793.88h2v-9.68h-2zM743.95 797.25h2v-6.26h-2zM746.17 800.14h2v-3.84h-2zM748.38 799.67h2v-3.84h-2zM750.59 798.2h2v-7.21h-2zM752.8 797.25h2v-8.68h-2zM755.01 796.3h2v-7.26h-2zM757.23 796.11h2v-5.79h-2zM759.44 796.11h2v-4.84h-2zM761.65 795.64h2v-8.21h-2zM763.86 795.64h2v-9.2h-2zM766.08 795.64h2v-10.63h-2zM768.29 794.17h2v-9.63h-2zM770.5 792.22h2v-9.16h-2zM772.71 795.12h2v-10.1h-2zM774.93 793.69h2v-11.58h-2zM777.14 788.38h2v-8.21h-2zM779.35 787.43h2v-10.15h-2zM781.56 783.07h2v-11.15h-2zM783.77 776.8h2v-13.52h-2zM785.99 777.28h2v-15.94h-2zM788.2 770.49h2v-11.05h-2zM790.41 768.12h2v-11.62h-2zM792.62 764.71h2v-14.47h-2zM794.84 764.23h2v-16.41h-2zM797.05 766.65h2v-13.52h-2zM799.26 757.5h2v-15.94h-2zM801.47 754.6h2v-17.41h-2zM803.69 755.08h2v-16.94h-2zM805.9 757.97h2v-17.88h-2zM808.11 756.5h2v-15.94h-2zM810.32 751.23h2v-15.99h-2zM812.53 749.76h2v-16.94h-2zM814.75 747.34h2v-15.47h-2zM816.96 744.92h2v-14.99h-2zM819.17 740.61h2v-12.57h-2zM821.38 743.5h2v-14.52h-2zM823.6 746.39h2v-16.89h-2zM825.81 739.14h2v-16.41h-2zM828.02 740.61h2v-12.1h-2zM830.23 738.19h2v-12.57h-2zM832.45 737.71h2v-13.52h-2zM834.66 743.98h2v-13.99h-2zM836.87 751.23h2v-11.1h-2zM839.08 753.13h2v-10.1h-2zM841.29 758.92h2v-11.1h-2zM843.51 762.81h2v-6.78h-2zM845.72 761.34h2v-6.26h-2zM847.93 761.34h2v-10.1h-2zM850.14 763.28h2v-10.63h-2zM852.36 765.7h2v-10.63h-2zM854.57 769.55h2v-13.05h-2zM856.78 772.44h2v-13.99h-2zM858.99 773.44h2v-10.63h-2zM861.2 771.49h2v-13.05h-2zM863.42 771.49h2v-14.99h-2zM865.63 772.44h2v-13.99h-2zM867.84 777.28h2v-13.05h-2zM870.05 779.22h2v-12.57h-2zM872.27 779.22h2v-13.99h-2zM874.48 782.59h2v-13.99h-2zM876.69 783.07h2v-16.89h-2zM878.9 782.21h2v-19.31h-2zM881.12 780.27h2v-18.55h-2zM883.33 782.69h2v-18.64h-2zM885.54 782.69h2v-17.08h-2zM887.75 785.58h2v-16.41h-2zM889.96 789.9h2v-14.94h-2zM892.18 788h2v-15.47h-2zM894.39 788h2v-16.22h-2zM896.6 791.84h2v-12.05h-2zM898.81 791.84h2v-11.58h-2zM901.03 794.74h2v-9.63h-2zM903.24 797.16h2v-9.16h-2zM905.45 798.63h2v-8.73h-2zM907.66 800.05h2v-8.21h-2zM909.88 799.57h2v-8.68h-2zM912.09 798.63h2v-8.73h-2zM914.3 796.21h2v-7.73h-2zM916.51 797.63h2v-8.21h-2zM918.72 798.63h2v-8.21h-2zM920.94 801.52h2v-6.31h-2zM923.15 801.99h2v-10.15h-2zM925.36 799.57h2v-11.1h-2zM927.57 804.41h2v-10.63h-2zM929.79 804.89h2v-8.21h-2zM932 804.41h2v-10.15h-2zM934.21 803.94h2v-9.68h-2zM936.42 804.89h2v-8.21h-2zM938.64 804.41h2v-11.1h-2zM940.85 802.47h2v-9.68h-2zM943.06 801.99h2v-6.78h-2zM945.27 803.89h2v-6.26h-2zM947.48 804.89h2v-7.26h-2zM949.7 804.89h2v-6.26h-2zM951.91 805.36h2v-7.73h-2zM954.12 803.42h2v-9.63h-2zM956.33 801.52h2v-9.2h-2zM958.55 798.63h2v-8.73h-2zM960.76 798.1h2v-7.73h-2zM962.97 798.63h2v-5.84h-2zM965.18 797.63h2v-6.78h-2zM967.4 795.68h2v-7.26h-2zM969.61 792.79h2v-5.31h-2zM971.82 794.21h2v-6.26h-2zM974.03 796.21h2v-4.89h-2zM976.24 800.05h2v-6.26h-2zM978.46 796.68h2v-3.89h-2zM980.67 797.16h2v-5.31h-2zM982.88 797.63h2v-5.79h-2zM985.09 795.68h2v-6.74h-2zM987.31 794.74h2v-8.68h-2zM989.52 792.32h2v-5.79h-2zM991.73 795.68h2v-8.21h-2zM993.94 792.79h2v-7.26h-2zM996.16 792.32h2v-8.21h-2zM998.37 793.31h2v-8.21h-2zM1000.58 793.79h2v-9.68h-2zM1002.79 792.79h2v-10.58h-2zM1005 790.89h2v-10.63h-2zM1007.22 791.84h2v-10.15h-2zM1009.43 791.84h2v-8.68h-2zM1011.64 788.47h2v-8.68h-2zM1013.85 789.9h2v-7.69h-2zM1016.07 785.11h2v-7.73h-2zM1018.28 784.11h2v-9.63h-2zM1020.49 781.22h2v-8.68h-2zM1022.7 781.69h2v-8.16h-2zM1024.92 787h2v-9.16h-2zM1027.13 787h2v-9.63h-2zM1029.34 789.42h2v-8.68h-2zM1031.55 785.11h2v-10.63h-2zM1033.76 780.74h2v-11.1h-2zM1035.98 780.27h2v-11.77h-2zM1038.19 782.69h2v-11.58h-2zM1040.4 786.05h2v-11.58h-2zM1042.61 787.52h2v-11.15h-2zM1044.83 786.05h2v-9.68h-2zM1047.04 781.22h2v-8.21h-2zM1049.25 781.69h2v-8.68h-2zM1051.46 785.11h2v-8.21h-2zM1053.68 787h2v-8.68h-2zM1055.89 786.05h2v-6.74h-2zM1058.1 787.52h2v-7.26h-2zM1060.31 791.37h2v-6.26h-2zM1062.52 791.37h2v-5.79h-2zM1064.74 790.42h2v-5.79h-2zM1066.95 793.31h2v-2.89h-2zM1069.16 793.31h2v-2.89h-2zM1071.37 794.74h2v-3.37h-2zM1073.59 798.1h2v-3.37h-2zM1075.8 807.78h2v-1.95h-2zM1078.01 806.31h2v-2.89h-2zM1080.22 805.84h2v-2.89h-2zM1082.43 806.31h2v-1.9h-2zM1084.65 808.73h2v-1.42h-2zM1086.86 810.2h2v-1.47h-2zM1089.07 813.1h2v-1.47h-2zM1091.28 813.1h2v-1h-2zM1093.5 813.1h2v-1.47h-2zM1095.71 812.62h2v-1.95h-2zM1097.92 812.62h2v-1.95h-2zM1100.13 813.1h2v-1.95h-2zM1102.35 814.04h2v-1.95h-2zM1104.56 814.52h2v-1.9h-2zM1106.77 813.57h2v-1.95h-2zM1108.98 812.1h2v-1.85h-2zM1111.19 811.62h2v-2.32h-2zM1113.41 810.2h2v-2.85h-2zM1115.62 812.95h2v-2.37h-2zM1117.83 815.66h2v-1.23h-2zM1120.04 815.56h2v-1.47h-2zM1122.26 817.36h2v-1h-2zM1124.47 817.22h2v-2.13h-2zM1126.68 814.61h2v-2.13h-2zM1128.89 813.66h2v-1.47h-2zM1131.11 812.95h2v-1.76h-2zM1133.32 814.38h2v-1.57h-2zM1135.53 814.85h2v-2.37h-2zM1137.74 815.09h2v-0.66h-2zM1139.95 815.09h2v-1h-2zM1142.17 815.09h2v-1.61h-2zM1144.38 816.51h2v-1.76h-2zM1146.59 817.55h2v-1.52h-2zM1148.8 818.17h2v-1.8h-2zM1151.02 816.99h2v-0.95h-2zM1153.23 818.41h2v-0.43h-2zM1155.44 817.93h2v-0.62h-2zM1157.65 816.04h2v-0.95h-2zM1159.87 816.75h2v-0.38h-2zM1162.08 816.75h2v-0.38h-2zM1164.29 817.22h2v-1.19h-2zM1166.5 815.8h2v-0.71h-2zM1168.71 817.46h2v-1.09h-2zM1170.93 815.8h2v-1.38h-2zM1173.14 811.77h2v-1.52h-2zM1175.35 810.34h2v-1.71h-2zM1177.56 808.45h2v-2.37h-2zM1179.78 806.07h2v-2.89h-2z" fill="#4d5fff"/><path d="M86.9 824.91h0.75v-0.14h-0.75zM89.11 824.85h0.75v-0.1h-0.75zM91.32 824.79h0.75v-0.05h-0.75zM109.02 824.34h0.75v-0.24h-0.75zM111.24 823.67h0.75v-0.36h-0.75zM113.45 822.99h0.75v-0.47h-0.75zM115.66 822.32h0.75v-0.59h-0.75zM117.87 821.65h0.75v-0.87h-0.75zM120.08 820.98h0.75v-1.15h-0.75zM122.3 820.31h0.75v-1.42h-0.75zM124.51 816.04h0.75v-2.6h-0.75zM126.72 809.39h0.75v-4.86h-0.75zM128.93 799.43h0.75v-7.7h-0.75zM131.15 792.32h0.75v-10.15h-0.75zM133.36 783.3h0.75v-12.99h-0.75zM135.57 774.29h0.75v-15.82h-0.75zM137.78 760.06h0.75v-20.08h-0.75zM140 742.55h0.75v-25.62h-0.75zM142.21 723.81h0.75v-33.78h-0.75zM144.42 707.54h0.75v-39.99h-0.75zM146.63 704.41h0.75v-46.87h-0.75zM148.84 693.78h0.75v-47.49h-0.75zM151.06 697.53h0.75v-49.39h-0.75zM153.27 693.78h0.75v-53.13h-0.75zM155.48 698.15h0.75v-49.34h-0.75zM157.69 705.03h0.75v-44.97h-0.75zM159.91 706.31h0.75v-43.79h-0.75zM162.12 704.03h0.75v-42.74h-0.75zM164.33 705.69h0.75v-40.04h-0.75zM166.54 703.18h0.75v-43.12h-0.75zM168.76 712.05h0.75v-35.77h-0.75zM170.97 718.78h0.75v-38.76h-0.75zM173.18 722.53h0.75v-37.48h-0.75zM175.39 720.07h0.75v-37.53h-0.75zM177.6 721.3h0.75v-36.24h-0.75zM179.82 720.07h0.75v-35.01h-0.75zM182.03 722.53h0.75v-37.48h-0.75zM184.24 730.03h0.75v-34.35h-0.75zM186.45 743.17h0.75v-30.65h-0.75zM188.67 744.4h0.75v-29.98h-0.75zM190.88 750.05h0.75v-27.52h-0.75zM193.09 755.69h0.75v-23.15h-0.75zM195.3 755.03h0.75v-21.87h-0.75zM197.51 755.03h0.75v-25h-0.75zM199.73 757.54h0.75v-20.02h-0.75zM201.94 760.06h0.75v-19.4h-0.75zM204.15 762.52h0.75v-19.36h-0.75zM206.36 778.8h0.75v-18.74h-0.75zM208.58 782.54h0.75v-18.12h-0.75zM210.79 780.03h0.75v-18.74h-0.75zM213 783.78h0.75v-19.36h-0.75zM215.21 788.19h0.75v-14.37h-0.75zM217.43 790.66h0.75v-12.48h-0.75zM219.64 794.4h0.75v-10.63h-0.75zM221.85 803.01h0.75v-11.27h-0.75zM224.06 803.41h0.75v-11.26h-0.75zM226.27 803.41h0.75v-9.25h-0.75zM228.49 803.41h0.75v-8.85h-0.75zM230.7 809.04h0.75v-5.63h-0.75zM232.91 810.65h0.75v-3.62h-0.75zM235.12 813.06h0.75v-3.62h-0.75zM237.34 813.87h0.75v-2.82h-0.75zM239.55 815.48h0.75v-3.62h-0.75zM241.76 815.88h0.75v-4.02h-0.75zM243.97 814.67h0.75v-3.62h-0.75zM246.19 817.49h0.75v-2.41h-0.75zM248.4 818.69h0.75v-2.81h-0.75zM250.61 819.5h0.75v-2.41h-0.75zM252.82 820.3h0.75v-2.41h-0.75zM255.03 820.7h0.75v-2.01h-0.75zM257.25 821.11h0.75v-2.01h-0.75zM259.46 821.11h0.75v-2.41h-0.75zM261.67 821.51h0.75v-2.01h-0.75zM263.88 821.11h0.75v-1.2h-0.75zM266.1 822.72h0.75v-1.61h-0.75zM268.31 822.72h0.75v-1.61h-0.75zM270.52 822.31h0.75v-2.41h-0.75zM272.73 822.31h0.75v-2.01h-0.75zM274.95 822.72h0.75v-1.61h-0.75zM277.16 822.31h0.75v-2.81h-0.75zM279.37 823.52h0.75v-1.21h-0.75zM281.58 823.93h0.75v-1.21h-0.75zM283.79 822.72h0.75v-1.2h-0.75zM286.01 822.72h0.75v-1.2h-0.75zM288.22 822.72h0.75v-1.2h-0.75zM290.43 822.72h0.75v-1.61h-0.75zM292.64 822.72h0.75v-2.01h-0.75zM294.86 822.72h0.75v-1.61h-0.75zM297.07 822.72h0.75v-1.2h-0.75zM299.28 823.93h0.75v-0.81h-0.75zM301.49 823.12h0.75v-0.81h-0.75zM303.71 823.12h0.75v-1.2h-0.75zM305.92 823.12h0.75v-1.2h-0.75zM308.13 822.72h0.75v-1.2h-0.75zM310.34 823.14h0.75v-1.56h-0.75zM312.55 823.85h0.75v-0.98h-0.75zM314.77 823.85h0.75v-0.98h-0.75zM316.98 823.85h0.75v-0.98h-0.75zM319.19 823.85h0.75v-0.98h-0.75zM321.4 823.85h0.75v-0.98h-0.75zM323.62 823.85h0.75v-0.98h-0.75zM325.83 823.85h0.75v-0.98h-0.75zM328.04 823.85h0.75v-0.98h-0.75zM330.25 824.11h0.75v-0.77h-0.75zM332.47 824.22h0.75v-0.68h-0.75zM334.68 824.11h0.75v-0.77h-0.75zM336.89 824.03h0.75v-0.83h-0.75zM339.1 824.11h0.75v-0.77h-0.75zM341.31 823.59h0.75v-1.2h-0.75zM343.53 823.9h0.75v-0.94h-0.75zM345.74 824.48h0.75v-0.47h-0.75zM347.95 824.48h0.75v-0.47h-0.75zM350.16 824.48h0.75v-0.47h-0.75zM352.38 824.48h0.75v-0.47h-0.75zM354.59 824.48h0.75v-0.47h-0.75zM356.8 824.79h0.75v-0.21h-0.75zM359.01 824.79h0.75v-0.21h-0.75zM361.23 824.79h0.75v-0.21h-0.75zM363.44 824.79h0.75v-0.21h-0.75zM365.65 824.79h0.75v-0.21h-0.75zM367.86 824.79h0.75v-0.21h-0.75zM370.07 824.79h0.75v-0.21h-0.75zM372.29 824.79h0.75v-0.21h-0.75zM374.5 824.79h0.75v-0.21h-0.75zM376.71 824.79h0.75v-0.21h-0.75zM378.92 824.79h0.75v-0.21h-0.75zM381.14 824.79h0.75v-0.21h-0.75zM383.35 824.56h0.75v-0.41h-0.75zM385.56 824.34h0.75v-0.57h-0.75zM387.77 824.56h0.75v-0.41h-0.75zM389.99 824.56h0.75v-0.41h-0.75zM392.2 824.56h0.75v-0.41h-0.75zM394.41 824.56h0.75v-0.41h-0.75zM396.62 824.56h0.75v-0.41h-0.75zM398.83 824.56h0.75v-0.41h-0.75zM401.05 824.68h0.75v-0.25h-0.75zM403.26 824.68h0.75v-0.25h-0.75zM405.47 824.68h0.75v-0.25h-0.75zM407.68 824.68h0.75v-0.25h-0.75zM409.9 824.68h0.75v-0.25h-0.75zM412.11 824.68h0.75v-0.25h-0.75zM414.32 824.68h0.75v-0.25h-0.75zM416.53 824.68h0.75v-0.25h-0.75zM418.75 824.68h0.75v-0.25h-0.75zM420.96 824.68h0.75v-0.25h-0.75zM423.17 822.87h0.75v-0.85h-0.75zM425.38 823.2h0.75v-0.85h-0.75zM427.59 821.63h0.75v-0.85h-0.75zM429.81 820.35h0.75v-0.85h-0.75zM432.02 819.74h0.75v-0.85h-0.75zM434.23 819.31h0.75v-0.85h-0.75zM436.44 818.98h0.75v-0.85h-0.75zM438.66 818.46h0.75v-0.85h-0.75zM440.87 818.46h0.75v-0.85h-0.75zM443.08 818.69h0.75v-0.85h-0.75zM445.29 818.69h0.75v-0.85h-0.75zM447.5 818.98h0.75v-0.85h-0.75zM449.72 820.35h0.75v-0.85h-0.75zM451.93 819.74h0.75v-0.85h-0.75zM454.14 818.27h0.75v-0.85h-0.75zM456.35 815.85h0.75v-0.85h-0.75zM458.57 813.76h0.75v-0.85h-0.75zM460.78 814.8h0.75v-0.85h-0.75zM462.99 815.56h0.75v-0.85h-0.75zM465.2 815.32h0.75v-0.85h-0.75zM467.42 814.09h0.75v-0.85h-0.75zM469.63 813.05h0.75v-0.85h-0.75zM471.84 810.82h0.75v-1.66h-0.75zM474.05 812.48h0.75v-1.66h-0.75zM476.26 812.95h0.75v-1.61h-0.75zM478.48 813.43h0.75v-1.57h-0.75zM480.69 814.38h0.75v-1.47h-0.75zM482.9 814.14h0.75v-1.76h-0.75zM485.11 815.56h0.75v-1.61h-0.75zM487.33 815.09h0.75v-2.7h-0.75zM489.54 814.14h0.75v-2.8h-0.75zM491.75 812.95h0.75v-3.7h-0.75zM493.96 811.53h0.75v-3.32h-0.75zM496.18 807.17h0.75v-4.17h-0.75zM498.39 808.68h0.75v-3.08h-0.75zM500.6 809.16h0.75v-4.6h-0.75zM502.81 810.11h0.75v-3.98h-0.75zM505.02 804.56h0.75v-2.61h-0.75zM507.24 804.18h0.75v-3.8h-0.75zM509.45 807.5h0.75v-5.03h-0.75zM511.66 809.39h0.75v-3.8h-0.75zM513.87 804.56h0.75v-5.74h-0.75zM516.09 804.56h0.75v-5.98h-0.75zM518.3 802.99h0.75v-7.35h-0.75zM520.51 802.75h0.75v-6.74h-0.75zM522.72 800.33h0.75v-8.16h-0.75zM524.94 802.75h0.75v-7.69h-0.75zM527.15 802.75h0.75v-8.68h-0.75zM529.36 803.23h0.75v-8.16h-0.75zM531.57 803.7h0.75v-7.69h-0.75zM533.78 802.75h0.75v-7.21h-0.75zM536 799.38h0.75v-7.21h-0.75zM538.21 796.02h0.75v-5.79h-0.75zM540.42 796.02h0.75v-5.31h-0.75zM542.63 796.97h0.75v-3.37h-0.75zM544.85 802.75h0.75v-3.84h-0.75zM547.06 800.81h0.75v-3.37h-0.75zM549.27 803.23h0.75v-3.84h-0.75zM551.48 803.23h0.75v-4.84h-0.75zM553.7 804.7h0.75v-4.84h-0.75zM555.91 803.7h0.75v-3.37h-0.75zM558.12 803.7h0.75v-3.37h-0.75zM560.33 805.17h0.75v-3.37h-0.75zM562.54 805.65h0.75v-4.32h-0.75zM564.76 808.07h0.75v-2.42h-0.75zM566.97 808.07h0.75v-1.95h-0.75zM569.18 808.54h0.75v-2.42h-0.75zM571.39 807.12h0.75v-1h-0.75zM573.61 807.12h0.75v-0.52h-0.75zM575.82 808.54h0.75v-0.47h-0.75zM578.03 808.54h0.75v-1.42h-0.75zM580.24 810.49h0.75v-1.47h-0.75zM582.46 810.96h0.75v-0.95h-0.75zM584.67 809.54h0.75v-1.47h-0.75zM586.88 808.07h0.75v-2.42h-0.75zM589.09 809.02h0.75v-2.42h-0.75zM591.3 810.01h0.75v-2.42h-0.75zM593.52 810.96h0.75v-2.42h-0.75zM595.73 812.91h0.75v-2.89h-0.75zM597.94 811.43h0.75v-4.84h-0.75zM600.15 807.59h0.75v-6.26h-0.75zM602.37 805.65h0.75v-7.73h-0.75zM604.58 805.65h0.75v-7.73h-0.75zM606.79 805.65h0.75v-6.74h-0.75zM609 805.65h0.75v-7.26h-0.75zM611.22 801.8h0.75v-6.78h-0.75zM613.43 800.33h0.75v-7.73h-0.75zM615.64 797.91h0.75v-8.21h-0.75zM617.85 793.12h0.75v-6.78h-0.75zM620.06 790.23h0.75v-9.73h-0.75zM622.28 789.23h0.75v-13.05h-0.75zM624.49 786.34h0.75v-12.1h-0.75zM626.7 781.59h0.75v-12.62h-0.75zM628.91 774.29h0.75v-11.62h-0.75zM631.13 769.92h0.75v-12.57h-0.75zM633.34 767.03h0.75v-13.05h-0.75zM635.55 768.5h0.75v-11.62h-0.75zM637.76 768.98h0.75v-12.57h-0.75zM639.97 767.32h0.75v-10.58h-0.75zM642.19 763.95h0.75v-12.1h-0.75zM644.4 767.32h0.75v-14.99h-0.75zM646.61 756.74h0.75v-14.04h-0.75zM648.82 754.32h0.75v-12.57h-0.75zM651.04 749.95h0.75v-13.99h-0.75zM653.25 749.48h0.75v-15.99h-0.75zM655.46 751.9h0.75v-18.41h-0.75zM657.67 757.69h0.75v-15.47h-0.75zM659.89 754.32h0.75v-17.88h-0.75zM662.1 751.9h0.75v-18.41h-0.75zM664.31 755.27h0.75v-17.51h-0.75zM666.52 752.85h0.75v-19.36h-0.75zM668.73 756.21h0.75v-19.31h-0.75zM670.95 759.11h0.75v-19.31h-0.75zM673.16 759.63h0.75v-16.46h-0.75zM675.37 760.06h0.75v-18.31h-0.75zM677.58 760.58h0.75v-18.83h-0.75zM679.8 766.37h0.75v-15.94h-0.75zM682.01 760.06h0.75v-16.89h-0.75zM684.22 760.06h0.75v-16.89h-0.75zM686.43 769.26h0.75v-17.41h-0.75zM688.65 771.68h0.75v-18.36h-0.75zM690.86 770.21h0.75v-19.31h-0.75zM693.07 769.73h0.75v-20.78h-0.75zM695.28 771.21h0.75v-19.78h-0.75zM697.49 770.21h0.75v-19.31h-0.75zM699.71 766.37h0.75v-18.79h-0.75zM701.92 769.26h0.75v-18.36h-0.75zM704.13 772.63h0.75v-19.31h-0.75zM706.34 773.1h0.75v-18.36h-0.75zM708.56 773.1h0.75v-18.36h-0.75zM710.77 776.99h0.75v-14.52h-0.75zM712.98 777.47h0.75v-16.56h-0.75zM715.19 778.89h0.75v-16.89h-0.75zM717.41 780.84h0.75v-15.51h-0.75zM719.62 783.73h0.75v-14.47h-0.75zM721.83 783.26h0.75v-15.94h-0.75zM724.04 780.36h0.75v-15.04h-0.75zM726.25 783.73h0.75v-13.99h-0.75zM728.47 785.67h0.75v-14.47h-0.75zM730.68 787.62h0.75v-13.52h-0.75zM732.89 790.51h0.75v-13.52h-0.75zM735.1 792.89h0.75v-11.1h-0.75zM737.32 792.89h0.75v-10.1h-0.75zM739.53 793.41h0.75v-10.15h-0.75zM741.74 793.88h0.75v-9.68h-0.75zM743.95 797.25h0.75v-6.26h-0.75zM746.17 800.14h0.75v-3.84h-0.75zM748.38 799.67h0.75v-3.84h-0.75zM750.59 798.2h0.75v-7.21h-0.75zM752.8 797.25h0.75v-8.68h-0.75zM755.01 796.3h0.75v-7.26h-0.75zM757.23 796.11h0.75v-5.79h-0.75zM759.44 796.11h0.75v-4.84h-0.75zM761.65 795.64h0.75v-8.21h-0.75zM763.86 795.64h0.75v-9.2h-0.75zM766.08 795.64h0.75v-10.63h-0.75zM768.29 794.17h0.75v-9.63h-0.75zM770.5 792.22h0.75v-9.16h-0.75zM772.71 795.12h0.75v-10.1h-0.75zM774.93 793.69h0.75v-11.58h-0.75zM777.14 788.38h0.75v-8.21h-0.75zM779.35 787.43h0.75v-10.15h-0.75zM781.56 783.07h0.75v-11.15h-0.75zM783.77 776.8h0.75v-13.52h-0.75zM785.99 777.28h0.75v-15.94h-0.75zM788.2 770.49h0.75v-11.05h-0.75zM790.41 768.12h0.75v-11.62h-0.75zM792.62 764.71h0.75v-14.47h-0.75zM794.84 764.23h0.75v-16.41h-0.75zM797.05 766.65h0.75v-13.52h-0.75zM799.26 757.5h0.75v-15.94h-0.75zM801.47 754.6h0.75v-17.41h-0.75zM803.69 755.08h0.75v-16.94h-0.75zM805.9 757.97h0.75v-17.88h-0.75zM808.11 756.5h0.75v-15.94h-0.75zM810.32 751.23h0.75v-15.99h-0.75zM812.53 749.76h0.75v-16.94h-0.75zM814.75 747.34h0.75v-15.47h-0.75zM816.96 744.92h0.75v-14.99h-0.75zM819.17 740.61h0.75v-12.57h-0.75zM821.38 743.5h0.75v-14.52h-0.75zM823.6 746.39h0.75v-16.89h-0.75zM825.81 739.14h0.75v-16.41h-0.75zM828.02 740.61h0.75v-12.1h-0.75zM830.23 738.19h0.75v-12.57h-0.75zM832.45 737.71h0.75v-13.52h-0.75zM834.66 743.98h0.75v-13.99h-0.75zM836.87 751.23h0.75v-11.1h-0.75zM839.08 753.13h0.75v-10.1h-0.75zM841.29 758.92h0.75v-11.1h-0.75zM843.51 762.81h0.75v-6.78h-0.75zM845.72 761.34h0.75v-6.26h-0.75zM847.93 761.34h0.75v-10.1h-0.75zM850.14 763.28h0.75v-10.63h-0.75zM852.36 765.7h0.75v-10.63h-0.75zM854.57 769.55h0.75v-13.05h-0.75zM856.78 772.44h0.75v-13.99h-0.75zM858.99 773.44h0.75v-10.63h-0.75zM861.2 771.49h0.75v-13.05h-0.75zM863.42 771.49h0.75v-14.99h-0.75zM865.63 772.44h0.75v-13.99h-0.75zM867.84 777.28h0.75v-13.05h-0.75zM870.05 779.22h0.75v-12.57h-0.75zM872.27 779.22h0.75v-13.99h-0.75zM874.48 782.59h0.75v-13.99h-0.75zM876.69 783.07h0.75v-16.89h-0.75zM878.9 782.21h0.75v-19.31h-0.75zM881.12 780.27h0.75v-18.55h-0.75zM883.33 782.69h0.75v-18.64h-0.75zM885.54 782.69h0.75v-17.08h-0.75zM887.75 785.58h0.75v-16.41h-0.75zM889.96 789.9h0.75v-14.94h-0.75zM892.18 788h0.75v-15.47h-0.75zM894.39 788h0.75v-16.22h-0.75zM896.6 791.84h0.75v-12.05h-0.75zM898.81 791.84h0.75v-11.58h-0.75zM901.03 794.74h0.75v-9.63h-0.75zM903.24 797.16h0.75v-9.16h-0.75zM905.45 798.63h0.75v-8.73h-0.75zM907.66 800.05h0.75v-8.21h-0.75zM909.88 799.57h0.75v-8.68h-0.75zM912.09 798.63h0.75v-8.73h-0.75zM914.3 796.21h0.75v-7.73h-0.75zM916.51 797.63h0.75v-8.21h-0.75zM918.72 798.63h0.75v-8.21h-0.75zM920.94 801.52h0.75v-6.31h-0.75zM923.15 801.99h0.75v-10.15h-0.75zM925.36 799.57h0.75v-11.1h-0.75zM927.57 804.41h0.75v-10.63h-0.75zM929.79 804.89h0.75v-8.21h-0.75zM932 804.41h0.75v-10.15h-0.75zM934.21 803.94h0.75v-9.68h-0.75zM936.42 804.89h0.75v-8.21h-0.75zM938.64 804.41h0.75v-11.1h-0.75zM940.85 802.47h0.75v-9.68h-0.75zM943.06 801.99h0.75v-6.78h-0.75zM945.27 803.89h0.75v-6.26h-0.75zM947.48 804.89h0.75v-7.26h-0.75zM949.7 804.89h0.75v-6.26h-0.75zM951.91 805.36h0.75v-7.73h-0.75zM954.12 803.42h0.75v-9.63h-0.75zM956.33 801.52h0.75v-9.2h-0.75zM958.55 798.63h0.75v-8.73h-0.75zM960.76 798.1h0.75v-7.73h-0.75zM962.97 798.63h0.75v-5.84h-0.75zM965.18 797.63h0.75v-6.78h-0.75zM967.4 795.68h0.75v-7.26h-0.75zM969.61 792.79h0.75v-5.31h-0.75zM971.82 794.21h0.75v-6.26h-0.75zM974.03 796.21h0.75v-4.89h-0.75zM976.24 800.05h0.75v-6.26h-0.75zM978.46 796.68h0.75v-3.89h-0.75zM980.67 797.16h0.75v-5.31h-0.75zM982.88 797.63h0.75v-5.79h-0.75zM985.09 795.68h0.75v-6.74h-0.75zM987.31 794.74h0.75v-8.68h-0.75zM989.52 792.32h0.75v-5.79h-0.75zM991.73 795.68h0.75v-8.21h-0.75zM993.94 792.79h0.75v-7.26h-0.75zM996.16 792.32h0.75v-8.21h-0.75zM998.37 793.31h0.75v-8.21h-0.75zM1000.58 793.79h0.75v-9.68h-0.75zM1002.79 792.79h0.75v-10.58h-0.75zM1005 790.89h0.75v-10.63h-0.75zM1007.22 791.84h0.75v-10.15h-0.75zM1009.43 791.84h0.75v-8.68h-0.75zM1011.64 788.47h0.75v-8.68h-0.75zM1013.85 789.9h0.75v-7.69h-0.75zM1016.07 785.11h0.75v-7.73h-0.75zM1018.28 784.11h0.75v-9.63h-0.75zM1020.49 781.22h0.75v-8.68h-0.75zM1022.7 781.69h0.75v-8.16h-0.75zM1024.92 787h0.75v-9.16h-0.75zM1027.13 787h0.75v-9.63h-0.75zM1029.34 789.42h0.75v-8.68h-0.75zM1031.55 785.11h0.75v-10.63h-0.75zM1033.76 780.74h0.75v-11.1h-0.75zM1035.98 780.27h0.75v-11.77h-0.75zM1038.19 782.69h0.75v-11.58h-0.75zM1040.4 786.05h0.75v-11.58h-0.75zM1042.61 787.52h0.75v-11.15h-0.75zM1044.83 786.05h0.75v-9.68h-0.75zM1047.04 781.22h0.75v-8.21h-0.75zM1049.25 781.69h0.75v-8.68h-0.75zM1051.46 785.11h0.75v-8.21h-0.75zM1053.68 787h0.75v-8.68h-0.75zM1055.89 786.05h0.75v-6.74h-0.75zM1058.1 787.52h0.75v-7.26h-0.75zM1060.31 791.37h0.75v-6.26h-0.75zM1062.52 791.37h0.75v-5.79h-0.75zM1064.74 790.42h0.75v-5.79h-0.75zM1066.95 793.31h0.75v-2.89h-0.75zM1069.16 793.31h0.75v-2.89h-0.75zM1071.37 794.74h0.75v-3.37h-0.75zM1073.59 798.1h0.75v-3.37h-0.75zM1075.8 807.78h0.75v-1.95h-0.75zM1078.01 806.31h0.75v-2.89h-0.75zM1080.22 805.84h0.75v-2.89h-0.75zM1082.43 806.31h0.75v-1.9h-0.75zM1084.65 808.73h0.75v-1.42h-0.75zM1086.86 810.2h0.75v-1.47h-0.75zM1089.07 813.1h0.75v-1.47h-0.75zM1091.28 813.1h0.75v-1h-0.75zM1093.5 813.1h0.75v-1.47h-0.75zM1095.71 812.62h0.75v-1.95h-0.75zM1097.92 812.62h0.75v-1.95h-0.75zM1100.13 813.1h0.75v-1.95h-0.75zM1102.35 814.04h0.75v-1.95h-0.75zM1104.56 814.52h0.75v-1.9h-0.75zM1106.77 813.57h0.75v-1.95h-0.75zM1108.98 812.1h0.75v-1.85h-0.75zM1111.19 811.62h0.75v-2.32h-0.75zM1113.41 810.2h0.75v-2.85h-0.75zM1115.62 812.95h0.75v-2.37h-0.75zM1117.83 815.66h0.75v-1.23h-0.75zM1120.04 815.56h0.75v-1.47h-0.75zM1122.26 817.36h0.75v-1h-0.75zM1124.47 817.22h0.75v-2.13h-0.75zM1126.68 814.61h0.75v-2.13h-0.75zM1128.89 813.66h0.75v-1.47h-0.75zM1131.11 812.95h0.75v-1.76h-0.75zM1133.32 814.38h0.75v-1.57h-0.75zM1135.53 814.85h0.75v-2.37h-0.75zM1137.74 815.09h0.75v-0.66h-0.75zM1139.95 815.09h0.75v-1h-0.75zM1142.17 815.09h0.75v-1.61h-0.75zM1144.38 816.51h0.75v-1.76h-0.75zM1146.59 817.55h0.75v-1.52h-0.75zM1148.8 818.17h0.75v-1.8h-0.75zM1151.02 816.99h0.75v-0.95h-0.75zM1153.23 818.41h0.75v-0.43h-0.75zM1155.44 817.93h0.75v-0.62h-0.75zM1157.65 816.04h0.75v-0.95h-0.75zM1159.87 816.75h0.75v-0.38h-0.75zM1162.08 816.75h0.75v-0.38h-0.75zM1164.29 817.22h0.75v-1.19h-0.75zM1166.5 815.8h0.75v-0.71h-0.75zM1168.71 817.46h0.75v-1.09h-0.75zM1170.93 815.8h0.75v-1.38h-0.75zM1173.14 811.77h0.75v-1.52h-0.75zM1175.35 810.34h0.75v-1.71h-0.75zM1177.56 808.45h0.75v-2.37h-0.75zM1179.78 806.07h0.75v-2.89h-0.75z" fill="#0a14ff"/><path d="M124.51 813.44h2v-0.53h-2zM126.72 804.53h2v-0.83h-2zM128.93 791.74h2v-1.13h-2zM131.15 782.16h2v-1.42h-2zM133.36 770.32h2v-2h-2zM135.57 758.47h2v-2.59h-2zM137.78 739.98h2v-3.17h-2zM140 716.93h2v-3.75h-2zM142.21 690.04h2v-5.6h-2zM144.42 667.55h2v-5.65h-2zM146.63 657.54h2v-6.26h-2zM148.84 646.3h2v-6.5h-2zM151.06 648.15h2v-5.84h-2zM153.27 640.65h2v-6.59h-2zM155.48 648.81h2v-6.5h-2zM157.69 660.05h2v-5.65h-2zM159.91 662.52h2v-4.98h-2zM162.12 661.29h2v-5.65h-2zM164.33 665.65h2v-5.6h-2zM166.54 660.05h2v-6.26h-2zM168.76 676.28h2v-6.83h-2zM170.97 680.03h2v-6.88h-2zM173.18 685.05h2v-7.54h-2zM175.39 682.54h2v-7.5h-2zM177.6 685.05h2v-6.88h-2zM179.82 685.05h2v-6.88h-2zM182.03 685.05h2v-8.78h-2zM184.24 695.68h2v-8.16h-2zM186.45 712.52h2v-9.35h-2zM188.67 714.42h2v-8.11h-2zM190.88 722.53h2v-7.5h-2zM193.09 732.54h2v-7.5h-2zM195.3 733.16h2v-6.88h-2zM197.51 730.03h2v-7.5h-2zM199.73 737.52h2v-7.5h-2zM201.94 740.65h2v-6.88h-2zM204.15 743.17h2v-6.26h-2zM206.36 760.06h2v-6.88h-2zM208.58 764.42h2v-4.36h-2zM210.79 761.29h2v-4.98h-2zM213 764.42h2v-4.98h-2zM215.21 773.81h2v-5.65h-2zM217.43 778.18h2v-5.03h-2zM219.64 783.78h2v-3.08h-2zM221.85 791.74h2v-4.02h-2zM224.06 792.15h2v-4.02h-2zM226.27 794.16h2v-2.81h-2zM228.49 794.56h2v-2.82h-2zM230.7 803.41h2v-2.01h-2zM232.91 807.03h2v-2.01h-2zM235.12 809.44h2v-2.01h-2zM237.34 811.05h2v-2.41h-2zM239.55 811.86h2v-2.01h-2zM241.76 811.86h2v-2.01h-2zM243.97 811.05h2v-2.01h-2zM246.19 815.07h2v-1.61h-2zM248.4 815.88h2v-1.61h-2zM250.61 817.08h2v-1.61h-2zM252.82 817.89h2v-1.61h-2zM255.03 818.69h2v-1.45h-2zM257.25 819.1h2v-1.61h-2zM259.46 818.69h2v-1.45h-2zM261.67 819.5h2v-0.81h-2zM263.88 819.9h2v-1.21h-2zM312.55 822.87h2v-0.71h-2zM314.77 822.87h2v-0.71h-2zM316.98 822.87h2v-0.71h-2zM319.19 822.87h2v-0.71h-2zM321.4 822.87h2v-0.71h-2zM323.62 822.87h2v-0.71h-2zM325.83 822.87h2v-0.71h-2zM328.04 822.87h2v-0.71h-2zM471.84 809.16h2v-0.95h-2zM520.51 796.02h2v-1.47h-2zM522.72 792.17h2v-1.47h-2zM524.94 795.07h2v-1.47h-2zM527.15 794.07h2v-1.47h-2zM529.36 795.07h2v-1.47h-2zM531.57 796.02h2v-1h-2zM533.78 795.54h2v-1h-2zM536 792.17h2v-1h-2zM538.21 790.23h2v-1h-2zM540.42 790.7h2v-1h-2zM542.63 793.6h2v-1h-2zM544.85 798.91h2v-1h-2zM547.06 797.44h2v-0.95h-2zM549.27 799.38h2v-1h-2zM551.48 798.39h2v-0.95h-2zM553.7 799.86h2v-0.95h-2zM555.91 800.33h2v-0.95h-2zM558.12 800.33h2v-0.95h-2zM560.33 801.8h2v-1h-2zM562.54 801.33h2v-1h-2zM564.76 805.65h2v-0.95h-2zM566.97 806.12h2v-0.95h-2zM569.18 806.12h2v-0.95h-2zM571.39 806.12h2v-0.95h-2zM573.61 806.6h2v-0.95h-2zM575.82 808.07h2v-0.95h-2zM611.22 795.02h2v-0.95h-2zM613.43 792.6h2v-0.95h-2zM615.64 789.71h2v-0.95h-2zM617.85 786.34h2v-0.95h-2zM620.06 780.5h2v-1.9h-2zM622.28 776.19h2v-1.9h-2zM624.49 774.24h2v-1.9h-2zM626.7 768.98h2v-0.95h-2zM628.91 762.67h2v-0.95h-2zM631.13 757.35h2v-1.42h-2zM633.34 753.98h2v-2.85h-2zM635.55 756.88h2v-1.42h-2zM637.76 756.4h2v-1.42h-2zM639.97 756.74h2v-0.95h-2zM642.19 751.85h2v-1.42h-2zM644.4 752.32h2v-1.42h-2zM646.61 742.69h2v-1.42h-2zM648.82 741.75h2v-1.42h-2zM651.04 735.96h2v-1.66h-2zM653.25 733.49h2v-1.9h-2zM655.46 733.49h2v-1.42h-2zM657.67 742.22h2v-1.42h-2zM659.89 736.43h2v-1.9h-2zM662.1 733.49h2v-1.9h-2zM664.31 737.76h2v-1.8h-2zM666.52 733.49h2v-2.85h-2zM668.73 736.91h2v-2.89h-2zM670.95 739.8h2v-2.89h-2zM673.16 743.17h2v-3.37h-2zM675.37 741.75h2v-2.89h-2zM677.58 741.75h2v-2.89h-2zM679.8 750.43h2v-2.42h-2zM682.01 743.17h2v-2.37h-2zM684.22 743.17h2v-4.79h-2zM686.43 751.85h2v-4.79h-2zM688.65 753.32h2v-2.89h-2zM690.86 750.9h2v-4.32h-2zM693.07 748.96h2v-3.84h-2zM695.28 751.42h2v-4.36h-2zM697.49 750.9h2v-5.79h-2zM699.71 747.58h2v-6.31h-2zM701.92 750.9h2v-8.68h-2zM704.13 753.32h2v-8.21h-2zM706.34 754.74h2v-9.11h-2zM708.56 754.74h2v-10.58h-2zM710.77 762.48h2v-10.1h-2zM712.98 760.91h2v-10.48h-2zM715.19 762h2v-10.1h-2zM717.41 765.32h2v-11.53h-2zM719.62 769.26h2v-8.21h-2zM721.83 767.32h2v-7.69h-2zM724.04 765.32h2v-10.06h-2zM726.25 769.73h2v-10.63h-2zM728.47 771.21h2v-9.2h-2zM730.68 774.1h2v-9.68h-2zM732.89 776.99h2v-8.68h-2zM735.1 781.78h2v-9.63h-2zM737.32 782.78h2v-10.1h-2zM739.53 783.26h2v-11.1h-2zM741.74 784.2h2v-11.1h-2zM743.95 790.99h2v-10.63h-2zM746.17 796.3h2v-7.73h-2zM748.38 795.83h2v-7.26h-2zM750.59 790.99h2v-5.79h-2zM752.8 788.57h2v-6.26h-2zM755.01 789.04h2v-5.31h-2zM757.23 790.32h2v-5.31h-2zM759.44 791.27h2v-5.31h-2zM761.65 787.43h2v-5.31h-2zM763.86 786.43h2v-5.31h-2zM766.08 785.01h2v-3.42h-2zM768.29 784.54h2v-2.42h-2zM770.5 783.07h2v-3.84h-2zM772.71 785.01h2v-1.95h-2zM774.93 782.12h2v-1.95h-2zM777.14 780.17h2v-1.95h-2zM779.35 777.28h2v-1.95h-2zM781.56 771.92h2v-1.42h-2zM783.77 763.28h2v-1.47h-2zM785.99 761.34h2v-1.42h-2zM788.2 759.44h2v-1.47h-2zM790.41 756.5h2v-1.42h-2zM792.62 750.24h2v-1.42h-2zM794.84 747.82h2v-1.42h-2zM797.05 753.13h2v-1.9h-2zM799.26 741.56h2v-1.42h-2zM801.47 737.19h2v-1.42h-2zM803.69 738.14h2v-1.42h-2zM805.9 740.08h2v-1.42h-2zM808.11 740.56h2v-1.42h-2zM810.32 735.25h2v-1.42h-2zM812.53 732.83h2v-1.42h-2zM814.75 731.88h2v-1.42h-2zM816.96 729.93h2v-1.42h-2zM819.17 728.04h2v-1.42h-2zM821.38 728.98h2v-1.42h-2zM956.33 792.32h2v-1.42h-2zM958.55 789.9h2v-1.9h-2zM960.76 790.37h2v-1.9h-2zM962.97 792.79h2v-1.42h-2zM965.18 790.85h2v-1.42h-2zM967.4 788.43h2v-1.9h-2zM969.61 787.48h2v-1.9h-2zM971.82 787.95h2v-1.9h-2zM974.03 791.32h2v-1.42h-2zM982.88 791.84h2v-1.42h-2zM985.09 788.95h2v-1.42h-2zM987.31 786.05h2v-1.42h-2zM989.52 786.53h2v-1.42h-2zM991.73 787.48h2v-1.42h-2zM993.94 785.53h2v-1.42h-2zM996.16 784.11h2v-1.42h-2zM1042.61 776.38h2v-1.42h-2zM1044.83 776.38h2v-1.42h-2zM1047.04 773.01h2v-1.42h-2zM1049.25 773.01h2v-1.42h-2z" fill="#2f8a2f"/><path d="M124.51 813.44h0.75v-0.53h-0.75zM126.72 804.53h0.75v-0.83h-0.75zM128.93 791.74h0.75v-1.13h-0.75zM131.15 782.16h0.75v-1.42h-0.75zM133.36 770.32h0.75v-2h-0.75zM135.57 758.47h0.75v-2.59h-0.75zM137.78 739.98h0.75v-3.17h-0.75zM140 716.93h0.75v-3.75h-0.75zM142.21 690.04h0.75v-5.6h-0.75zM144.42 667.55h0.75v-5.65h-0.75zM146.63 657.54h0.75v-6.26h-0.75zM148.84 646.3h0.75v-6.5h-0.75zM151.06 648.15h0.75v-5.84h-0.75zM153.27 640.65h0.75v-6.59h-0.75zM155.48 648.81h0.75v-6.5h-0.75zM157.69 660.05h0.75v-5.65h-0.75zM159.91 662.52h0.75v-4.98h-0.75zM162.12 661.29h0.75v-5.65h-0.75zM164.33 665.65h0.75v-5.6h-0.75zM166.54 660.05h0.75v-6.26h-0.75zM168.76 676.28h0.75v-6.83h-0.75zM170.97 680.03h0.75v-6.88h-0.75zM173.18 685.05h0.75v-7.54h-0.75zM175.39 682.54h0.75v-7.5h-0.75zM177.6 685.05h0.75v-6.88h-0.75zM179.82 685.05h0.75v-6.88h-0.75zM182.03 685.05h0.75v-8.78h-0.75zM184.24 695.68h0.75v-8.16h-0.75zM186.45 712.52h0.75v-9.35h-0.75zM188.67 714.42h0.75v-8.11h-0.75zM190.88 722.53h0.75v-7.5h-0.75zM193.09 732.54h0.75v-7.5h-0.75zM195.3 733.16h0.75v-6.88h-0.75zM197.51 730.03h0.75v-7.5h-0.75zM199.73 737.52h0.75v-7.5h-0.75zM201.94 740.65h0.75v-6.88h-0.75zM204.15 743.17h0.75v-6.26h-0.75zM206.36 760.06h0.75v-6.88h-0.75zM208.58 764.42h0.75v-4.36h-0.75zM210.79 761.29h0.75v-4.98h-0.75zM213 764.42h0.75v-4.98h-0.75zM215.21 773.81h0.75v-5.65h-0.75zM217.43 778.18h0.75v-5.03h-0.75zM219.64 783.78h0.75v-3.08h-0.75zM221.85 791.74h0.75v-4.02h-0.75zM224.06 792.15h0.75v-4.02h-0.75zM226.27 794.16h0.75v-2.81h-0.75zM228.49 794.56h0.75v-2.82h-0.75zM230.7 803.41h0.75v-2.01h-0.75zM232.91 807.03h0.75v-2.01h-0.75zM235.12 809.44h0.75v-2.01h-0.75zM237.34 811.05h0.75v-2.41h-0.75zM239.55 811.86h0.75v-2.01h-0.75zM241.76 811.86h0.75v-2.01h-0.75zM243.97 811.05h0.75v-2.01h-0.75zM246.19 815.07h0.75v-1.61h-0.75zM248.4 815.88h0.75v-1.61h-0.75zM250.61 817.08h0.75v-1.61h-0.75zM252.82 817.89h0.75v-1.61h-0.75zM255.03 818.69h0.75v-1.45h-0.75zM257.25 819.1h0.75v-1.61h-0.75zM259.46 818.69h0.75v-1.45h-0.75zM261.67 819.5h0.75v-0.81h-0.75zM263.88 819.9h0.75v-1.21h-0.75zM312.55 822.87h0.75v-0.71h-0.75zM314.77 822.87h0.75v-0.71h-0.75zM316.98 822.87h0.75v-0.71h-0.75zM319.19 822.87h0.75v-0.71h-0.75zM321.4 822.87h0.75v-0.71h-0.75zM323.62 822.87h0.75v-0.71h-0.75zM325.83 822.87h0.75v-0.71h-0.75zM328.04 822.87h0.75v-0.71h-0.75zM471.84 809.16h0.75v-0.95h-0.75zM520.51 796.02h0.75v-1.47h-0.75zM522.72 792.17h0.75v-1.47h-0.75zM524.94 795.07h0.75v-1.47h-0.75zM527.15 794.07h0.75v-1.47h-0.75zM529.36 795.07h0.75v-1.47h-0.75zM531.57 796.02h0.75v-1h-0.75zM533.78 795.54h0.75v-1h-0.75zM536 792.17h0.75v-1h-0.75zM538.21 790.23h0.75v-1h-0.75zM540.42 790.7h0.75v-1h-0.75zM542.63 793.6h0.75v-1h-0.75zM544.85 798.91h0.75v-1h-0.75zM547.06 797.44h0.75v-0.95h-0.75zM549.27 799.38h0.75v-1h-0.75zM551.48 798.39h0.75v-0.95h-0.75zM553.7 799.86h0.75v-0.95h-0.75zM555.91 800.33h0.75v-0.95h-0.75zM558.12 800.33h0.75v-0.95h-0.75zM560.33 801.8h0.75v-1h-0.75zM562.54 801.33h0.75v-1h-0.75zM564.76 805.65h0.75v-0.95h-0.75zM566.97 806.12h0.75v-0.95h-0.75zM569.18 806.12h0.75v-0.95h-0.75zM571.39 806.12h0.75v-0.95h-0.75zM573.61 806.6h0.75v-0.95h-0.75zM575.82 808.07h0.75v-0.95h-0.75zM611.22 795.02h0.75v-0.95h-0.75zM613.43 792.6h0.75v-0.95h-0.75zM615.64 789.71h0.75v-0.95h-0.75zM617.85 786.34h0.75v-0.95h-0.75zM620.06 780.5h0.75v-1.9h-0.75zM622.28 776.19h0.75v-1.9h-0.75zM624.49 774.24h0.75v-1.9h-0.75zM626.7 768.98h0.75v-0.95h-0.75zM628.91 762.67h0.75v-0.95h-0.75zM631.13 757.35h0.75v-1.42h-0.75zM633.34 753.98h0.75v-2.85h-0.75zM635.55 756.88h0.75v-1.42h-0.75zM637.76 756.4h0.75v-1.42h-0.75zM639.97 756.74h0.75v-0.95h-0.75zM642.19 751.85h0.75v-1.42h-0.75zM644.4 752.32h0.75v-1.42h-0.75zM646.61 742.69h0.75v-1.42h-0.75zM648.82 741.75h0.75v-1.42h-0.75zM651.04 735.96h0.75v-1.66h-0.75zM653.25 733.49h0.75v-1.9h-0.75zM655.46 733.49h0.75v-1.42h-0.75zM657.67 742.22h0.75v-1.42h-0.75zM659.89 736.43h0.75v-1.9h-0.75zM662.1 733.49h0.75v-1.9h-0.75zM664.31 737.76h0.75v-1.8h-0.75zM666.52 733.49h0.75v-2.85h-0.75zM668.73 736.91h0.75v-2.89h-0.75zM670.95 739.8h0.75v-2.89h-0.75zM673.16 743.17h0.75v-3.37h-0.75zM675.37 741.75h0.75v-2.89h-0.75zM677.58 741.75h0.75v-2.89h-0.75zM679.8 750.43h0.75v-2.42h-0.75zM682.01 743.17h0.75v-2.37h-0.75zM684.22 743.17h0.75v-4.79h-0.75zM686.43 751.85h0.75v-4.79h-0.75zM688.65 753.32h0.75v-2.89h-0.75zM690.86 750.9h0.75v-4.32h-0.75zM693.07 748.96h0.75v-3.84h-0.75zM695.28 751.42h0.75v-4.36h-0.75zM697.49 750.9h0.75v-5.79h-0.75zM699.71 747.58h0.75v-6.31h-0.75zM701.92 750.9h0.75v-8.68h-0.75zM704.13 753.32h0.75v-8.21h-0.75zM706.34 754.74h0.75v-9.11h-0.75zM708.56 754.74h0.75v-10.58h-0.75zM710.77 762.48h0.75v-10.1h-0.75zM712.98 760.91h0.75v-10.48h-0.75zM715.19 762h0.75v-10.1h-0.75zM717.41 765.32h0.75v-11.53h-0.75zM719.62 769.26h0.75v-8.21h-0.75zM721.83 767.32h0.75v-7.69h-0.75zM724.04 765.32h0.75v-10.06h-0.75zM726.25 769.73h0.75v-10.63h-0.75zM728.47 771.21h0.75v-9.2h-0.75zM730.68 774.1h0.75v-9.68h-0.75zM732.89 776.99h0.75v-8.68h-0.75zM735.1 781.78h0.75v-9.63h-0.75zM737.32 782.78h0.75v-10.1h-0.75zM739.53 783.26h0.75v-11.1h-0.75zM741.74 784.2h0.75v-11.1h-0.75zM743.95 790.99h0.75v-10.63h-0.75zM746.17 796.3h0.75v-7.73h-0.75zM748.38 795.83h0.75v-7.26h-0.75zM750.59 790.99h0.75v-5.79h-0.75zM752.8 788.57h0.75v-6.26h-0.75zM755.01 789.04h0.75v-5.31h-0.75zM757.23 790.32h0.75v-5.31h-0.75zM759.44 791.27h0.75v-5.31h-0.75zM761.65 787.43h0.75v-5.31h-0.75zM763.86 786.43h0.75v-5.31h-0.75zM766.08 785.01h0.75v-3.42h-0.75zM768.29 784.54h0.75v-2.42h-0.75zM770.5 783.07h0.75v-3.84h-0.75zM772.71 785.01h0.75v-1.95h-0.75zM774.93 782.12h0.75v-1.95h-0.75zM777.14 780.17h0.75v-1.95h-0.75zM779.35 777.28h0.75v-1.95h-0.75zM781.56 771.92h0.75v-1.42h-0.75zM783.77 763.28h0.75v-1.47h-0.75zM785.99 761.34h0.75v-1.42h-0.75zM788.2 759.44h0.75v-1.47h-0.75zM790.41 756.5h0.75v-1.42h-0.75zM792.62 750.24h0.75v-1.42h-0.75zM794.84 747.82h0.75v-1.42h-0.75zM797.05 753.13h0.75v-1.9h-0.75zM799.26 741.56h0.75v-1.42h-0.75zM801.47 737.19h0.75v-1.42h-0.75zM803.69 738.14h0.75v-1.42h-0.75zM805.9 740.08h0.75v-1.42h-0.75zM808.11 740.56h0.75v-1.42h-0.75zM810.32 735.25h0.75v-1.42h-0.75zM812.53 732.83h0.75v-1.42h-0.75zM814.75 731.88h0.75v-1.42h-0.75zM816.96 729.93h0.75v-1.42h-0.75zM819.17 728.04h0.75v-1.42h-0.75zM821.38 728.98h0.75v-1.42h-0.75zM956.33 792.32h0.75v-1.42h-0.75zM958.55 789.9h0.75v-1.9h-0.75zM960.76 790.37h0.75v-1.9h-0.75zM962.97 792.79h0.75v-1.42h-0.75zM965.18 790.85h0.75v-1.42h-0.75zM967.4 788.43h0.75v-1.9h-0.75zM969.61 787.48h0.75v-1.9h-0.75zM971.82 787.95h0.75v-1.9h-0.75zM974.03 791.32h0.75v-1.42h-0.75zM982.88 791.84h0.75v-1.42h-0.75zM985.09 788.95h0.75v-1.42h-0.75zM987.31 786.05h0.75v-1.42h-0.75zM989.52 786.53h0.75v-1.42h-0.75zM991.73 787.48h0.75v-1.42h-0.75zM993.94 785.53h0.75v-1.42h-0.75zM996.16 784.11h0.75v-1.42h-0.75zM1042.61 776.38h0.75v-1.42h-0.75zM1044.83 776.38h0.75v-1.42h-0.75zM1047.04 773.01h0.75v-1.42h-0.75zM1049.25 773.01h0.75v-1.42h-0.75z" fill="#1a661a"/><g fill="#6d9bcb" stroke="#ffffff" stroke-width="1.55"><circle cx="85.69" cy="1317.95" r="6.1"/><circle cx="87.9" cy="1317.88" r="6.1"/><circle cx="90.11" cy="1317.88" r="6.1"/><circle cx="92.32" cy="1317.27" r="6.1"/><circle cx="94.54" cy="1317.27" r="6.1"/><circle cx="96.75" cy="1317.27" r="6.1"/><circle cx="98.96" cy="1317.27" r="6.1"/><circle cx="101.17" cy="1317.2" r="6.1"/><circle cx="103.39" cy="1317.14" r="6.1"/><circle cx="105.6" cy="1317.14" r="6.1"/><circle cx="107.81" cy="1317.14" r="6.1"/><circle cx="110.02" cy="1317.14" r="6.1"/><circle cx="112.24" cy="1317.14" r="6.1"/><circle cx="114.45" cy="1316.66" r="6.1"/><circle cx="116.66" cy="1315.88" r="6.1"/><circle cx="118.87" cy="1314.8" r="6.1"/><circle cx="121.08" cy="1314.21" r="6.1"/><circle cx="123.3" cy="1314.65" r="6.1"/><circle cx="125.51" cy="1313.49" r="6.1"/><circle cx="127.72" cy="1311.05" r="6.1"/><circle cx="129.93" cy="1307.32" r="6.1"/><circle cx="132.15" cy="1303.39" r="6.1"/><circle cx="134.36" cy="1298.84" r="6.1"/><circle cx="136.57" cy="1293.96" r="6.1"/><circle cx="138.78" cy="1288.81" r="6.1"/><circle cx="141" cy="1282.84" r="6.1"/><circle cx="143.21" cy="1270.63" r="6.1"/><circle cx="145.42" cy="1261.41" r="6.1"/><circle cx="147.63" cy="1255.54" r="6.1"/><circle cx="149.84" cy="1250.93" r="6.1"/><circle cx="152.06" cy="1245.62" r="6.1"/><circle cx="154.27" cy="1241.85" r="6.1"/><circle cx="156.48" cy="1239.14" r="6.1"/><circle cx="158.69" cy="1239.04" r="6.1"/><circle cx="160.91" cy="1237.82" r="6.1"/><circle cx="163.12" cy="1237.14" r="6.1"/><circle cx="165.33" cy="1239.07" r="6.1"/><circle cx="167.54" cy="1242.09" r="6.1"/><circle cx="169.76" cy="1245.18" r="6.1"/><circle cx="171.97" cy="1246.43" r="6.1"/><circle cx="174.18" cy="1255.11" r="6.1"/><circle cx="176.39" cy="1262.53" r="6.1"/><circle cx="178.6" cy="1264.9" r="6.1"/><circle cx="180.82" cy="1269.04" r="6.1"/><circle cx="183.03" cy="1273.11" r="6.1"/><circle cx="185.24" cy="1276.23" r="6.1"/><circle cx="187.45" cy="1278.4" r="6.1"/><circle cx="189.67" cy="1279.31" r="6.1"/><circle cx="191.88" cy="1282.16" r="6.1"/><circle cx="194.09" cy="1285.21" r="6.1"/><circle cx="196.3" cy="1284.79" r="6.1"/><circle cx="198.51" cy="1284.45" r="6.1"/><circle cx="200.73" cy="1285.67" r="6.1"/><circle cx="202.94" cy="1289.24" r="6.1"/><circle cx="205.15" cy="1291.59" r="6.1"/><circle cx="207.36" cy="1292.15" r="6.1"/><circle cx="209.58" cy="1295.59" r="6.1"/><circle cx="211.79" cy="1296.23" r="6.1"/><circle cx="214" cy="1296.53" r="6.1"/><circle cx="216.21" cy="1296.66" r="6.1"/><circle cx="218.43" cy="1296.61" r="6.1"/><circle cx="220.64" cy="1296.48" r="6.1"/><circle cx="222.85" cy="1297.75" r="6.1"/><circle cx="225.06" cy="1298.55" r="6.1"/><circle cx="227.27" cy="1301.42" r="6.1"/><circle cx="229.49" cy="1303.54" r="6.1"/><circle cx="231.7" cy="1304.16" r="6.1"/><circle cx="233.91" cy="1305.08" r="6.1"/><circle cx="236.12" cy="1305.48" r="6.1"/><circle cx="238.34" cy="1306.19" r="6.1"/><circle cx="240.55" cy="1307.02" r="6.1"/><circle cx="242.76" cy="1307.87" r="6.1"/><circle cx="244.97" cy="1309.41" r="6.1"/><circle cx="247.19" cy="1309.79" r="6.1"/><circle cx="249.4" cy="1311.18" r="6.1"/><circle cx="251.61" cy="1312.84" r="6.1"/><circle cx="253.82" cy="1313.38" r="6.1"/><circle cx="256.03" cy="1314.08" r="6.1"/><circle cx="258.25" cy="1314.17" r="6.1"/><circle cx="260.46" cy="1314.12" r="6.1"/><circle cx="262.67" cy="1314.23" r="6.1"/><circle cx="264.88" cy="1314.23" r="6.1"/><circle cx="267.1" cy="1314.93" r="6.1"/><circle cx="269.31" cy="1315.6" r="6.1"/><circle cx="271.52" cy="1315.43" r="6.1"/><circle cx="273.73" cy="1315.46" r="6.1"/><circle cx="275.95" cy="1315.46" r="6.1"/><circle cx="278.16" cy="1315.54" r="6.1"/><circle cx="280.37" cy="1315.76" r="6.1"/><circle cx="282.58" cy="1315.4" r="6.1"/><circle cx="284.79" cy="1315.64" r="6.1"/><circle cx="287.01" cy="1315.61" r="6.1"/><circle cx="289.22" cy="1315.66" r="6.1"/><circle cx="291.43" cy="1315.79" r="6.1"/><circle cx="293.64" cy="1315.81" r="6.1"/><circle cx="295.86" cy="1315.95" r="6.1"/><circle cx="298.07" cy="1316.04" r="6.1"/><circle cx="300.28" cy="1316.15" r="6.1"/><circle cx="302.49" cy="1316.25" r="6.1"/><circle cx="304.71" cy="1316.36" r="6.1"/><circle cx="306.92" cy="1316.25" r="6.1"/><circle cx="309.13" cy="1316.41" r="6.1"/><circle cx="311.34" cy="1316.55" r="6.1"/><circle cx="313.55" cy="1316.84" r="6.1"/><circle cx="315.77" cy="1316.75" r="6.1"/><circle cx="317.98" cy="1316.78" r="6.1"/><circle cx="320.19" cy="1316.77" r="6.1"/><circle cx="322.4" cy="1316.77" r="6.1"/><circle cx="324.62" cy="1316.81" r="6.1"/><circle cx="326.83" cy="1316.8" r="6.1"/><circle cx="329.04" cy="1316.63" r="6.1"/><circle cx="331.25" cy="1316.86" r="6.1"/><circle cx="333.47" cy="1316.88" r="6.1"/><circle cx="335.68" cy="1316.81" r="6.1"/><circle cx="337.89" cy="1316.57" r="6.1"/><circle cx="340.1" cy="1316.64" r="6.1"/><circle cx="342.31" cy="1316.54" r="6.1"/><circle cx="344.53" cy="1316.69" r="6.1"/><circle cx="346.74" cy="1316.69" r="6.1"/><circle cx="348.95" cy="1316.69" r="6.1"/><circle cx="351.16" cy="1316.4" r="6.1"/><circle cx="353.38" cy="1316.4" r="6.1"/><circle cx="355.59" cy="1316.45" r="6.1"/><circle cx="357.8" cy="1316.51" r="6.1"/><circle cx="360.01" cy="1316.63" r="6.1"/><circle cx="362.23" cy="1316.63" r="6.1"/><circle cx="364.44" cy="1316.51" r="6.1"/><circle cx="366.65" cy="1316.53" r="6.1"/><circle cx="368.86" cy="1316.86" r="6.1"/><circle cx="371.07" cy="1316.86" r="6.1"/><circle cx="373.29" cy="1316.92" r="6.1"/><circle cx="375.5" cy="1316.92" r="6.1"/><circle cx="377.71" cy="1317.07" r="6.1"/><circle cx="379.92" cy="1317.07" r="6.1"/><circle cx="382.14" cy="1317.32" r="6.1"/><circle cx="384.35" cy="1317.18" r="6.1"/><circle cx="386.56" cy="1317.18" r="6.1"/><circle cx="388.77" cy="1317.06" r="6.1"/><circle cx="390.99" cy="1317.01" r="6.1"/><circle cx="393.2" cy="1316.91" r="6.1"/><circle cx="395.41" cy="1316.97" r="6.1"/><circle cx="397.62" cy="1316.55" r="6.1"/><circle cx="399.83" cy="1315.77" r="6.1"/><circle cx="402.05" cy="1315.63" r="6.1"/><circle cx="404.26" cy="1315.58" r="6.1"/><circle cx="406.47" cy="1315.34" r="6.1"/><circle cx="408.68" cy="1314.76" r="6.1"/><circle cx="410.9" cy="1314.53" r="6.1"/><circle cx="413.11" cy="1314.3" r="6.1"/><circle cx="415.32" cy="1314.15" r="6.1"/><circle cx="417.53" cy="1313.43" r="6.1"/><circle cx="419.75" cy="1313.6" r="6.1"/><circle cx="421.96" cy="1313.23" r="6.1"/><circle cx="424.17" cy="1312.43" r="6.1"/><circle cx="426.38" cy="1311.41" r="6.1"/><circle cx="428.59" cy="1310.29" r="6.1"/><circle cx="430.81" cy="1309.65" r="6.1"/><circle cx="433.02" cy="1307.46" r="6.1"/><circle cx="435.23" cy="1305.1" r="6.1"/><circle cx="437.44" cy="1304.08" r="6.1"/><circle cx="439.66" cy="1302.67" r="6.1"/><circle cx="441.87" cy="1300.89" r="6.1"/><circle cx="444.08" cy="1299.12" r="6.1"/><circle cx="446.29" cy="1297.47" r="6.1"/><circle cx="448.5" cy="1297.39" r="6.1"/><circle cx="450.72" cy="1293.05" r="6.1"/><circle cx="452.93" cy="1290.54" r="6.1"/><circle cx="455.14" cy="1287.36" r="6.1"/><circle cx="457.35" cy="1283.48" r="6.1"/><circle cx="459.57" cy="1281.05" r="6.1"/><circle cx="461.78" cy="1279.24" r="6.1"/><circle cx="463.99" cy="1280.31" r="6.1"/><circle cx="466.2" cy="1279.22" r="6.1"/><circle cx="468.42" cy="1277.18" r="6.1"/><circle cx="470.63" cy="1274.06" r="6.1"/><circle cx="472.84" cy="1270.06" r="6.1"/><circle cx="475.05" cy="1267.21" r="6.1"/><circle cx="477.26" cy="1266.67" r="6.1"/><circle cx="479.48" cy="1264.06" r="6.1"/><circle cx="481.69" cy="1262.95" r="6.1"/><circle cx="483.9" cy="1259.86" r="6.1"/><circle cx="486.11" cy="1257.99" r="6.1"/><circle cx="488.33" cy="1254.62" r="6.1"/><circle cx="490.54" cy="1250.96" r="6.1"/><circle cx="492.75" cy="1249.62" r="6.1"/><circle cx="494.96" cy="1246.74" r="6.1"/><circle cx="497.18" cy="1242.61" r="6.1"/><circle cx="499.39" cy="1239.19" r="6.1"/><circle cx="501.6" cy="1235.09" r="6.1"/><circle cx="503.81" cy="1233.36" r="6.1"/><circle cx="506.02" cy="1230.49" r="6.1"/><circle cx="508.24" cy="1228.94" r="6.1"/><circle cx="510.45" cy="1226.97" r="6.1"/><circle cx="512.66" cy="1225.31" r="6.1"/><circle cx="514.87" cy="1219.71" r="6.1"/><circle cx="517.09" cy="1215.59" r="6.1"/><circle cx="519.3" cy="1216.33" r="6.1"/><circle cx="521.51" cy="1216.2" r="6.1"/><circle cx="523.72" cy="1214.07" r="6.1"/><circle cx="525.94" cy="1213.08" r="6.1"/><circle cx="528.15" cy="1215.52" r="6.1"/><circle cx="530.36" cy="1214.68" r="6.1"/><circle cx="532.57" cy="1220.34" r="6.1"/><circle cx="534.78" cy="1220.99" r="6.1"/><circle cx="537" cy="1225.11" r="6.1"/><circle cx="539.21" cy="1225.84" r="6.1"/><circle cx="541.42" cy="1228.14" r="6.1"/><circle cx="543.63" cy="1230.88" r="6.1"/><circle cx="545.85" cy="1238.75" r="6.1"/><circle cx="548.06" cy="1245.75" r="6.1"/><circle cx="550.27" cy="1249.88" r="6.1"/><circle cx="552.48" cy="1253.99" r="6.1"/><circle cx="554.7" cy="1259.03" r="6.1"/><circle cx="556.91" cy="1259.23" r="6.1"/><circle cx="559.12" cy="1262.3" r="6.1"/><circle cx="561.33" cy="1266.91" r="6.1"/><circle cx="563.54" cy="1267.92" r="6.1"/><circle cx="565.76" cy="1270.82" r="6.1"/><circle cx="567.97" cy="1272.42" r="6.1"/><circle cx="570.18" cy="1271.59" r="6.1"/><circle cx="572.39" cy="1272.21" r="6.1"/><circle cx="574.61" cy="1273.71" r="6.1"/><circle cx="576.82" cy="1275" r="6.1"/><circle cx="579.03" cy="1276.08" r="6.1"/><circle cx="581.24" cy="1275.2" r="6.1"/><circle cx="583.46" cy="1274.2" r="6.1"/><circle cx="585.67" cy="1273.55" r="6.1"/><circle cx="587.88" cy="1275.45" r="6.1"/><circle cx="590.09" cy="1272.82" r="6.1"/><circle cx="592.3" cy="1271.86" r="6.1"/><circle cx="594.52" cy="1268.67" r="6.1"/><circle cx="596.73" cy="1266.24" r="6.1"/><circle cx="598.94" cy="1257.92" r="6.1"/><circle cx="601.15" cy="1258.82" r="6.1"/><circle cx="603.37" cy="1255.1" r="6.1"/><circle cx="605.58" cy="1247.35" r="6.1"/><circle cx="607.79" cy="1235.41" r="6.1"/><circle cx="610" cy="1229.72" r="6.1"/><circle cx="612.22" cy="1221.85" r="6.1"/><circle cx="614.43" cy="1214.76" r="6.1"/><circle cx="616.64" cy="1205.97" r="6.1"/><circle cx="618.85" cy="1200.08" r="6.1"/><circle cx="621.06" cy="1193.31" r="6.1"/><circle cx="623.28" cy="1183.81" r="6.1"/><circle cx="625.49" cy="1177.39" r="6.1"/><circle cx="627.7" cy="1172.91" r="6.1"/><circle cx="629.91" cy="1170.1" r="6.1"/><circle cx="632.13" cy="1163.48" r="6.1"/><circle cx="634.34" cy="1155.01" r="6.1"/><circle cx="636.55" cy="1149.66" r="6.1"/><circle cx="638.76" cy="1153.69" r="6.1"/><circle cx="640.97" cy="1140.51" r="6.1"/><circle cx="643.19" cy="1137.71" r="6.1"/><circle cx="645.4" cy="1137.34" r="6.1"/><circle cx="647.61" cy="1132.46" r="6.1"/><circle cx="649.82" cy="1126.42" r="6.1"/><circle cx="652.04" cy="1120.86" r="6.1"/><circle cx="654.25" cy="1116.81" r="6.1"/><circle cx="656.46" cy="1113.63" r="6.1"/><circle cx="658.67" cy="1111.06" r="6.1"/><circle cx="660.89" cy="1111.28" r="6.1"/><circle cx="663.1" cy="1112.32" r="6.1"/><circle cx="665.31" cy="1110.86" r="6.1"/><circle cx="667.52" cy="1108.08" r="6.1"/><circle cx="669.73" cy="1102.58" r="6.1"/><circle cx="671.95" cy="1112.59" r="6.1"/><circle cx="674.16" cy="1116.25" r="6.1"/><circle cx="676.37" cy="1118.19" r="6.1"/><circle cx="678.58" cy="1128.52" r="6.1"/><circle cx="680.8" cy="1134.49" r="6.1"/><circle cx="683.01" cy="1143.03" r="6.1"/><circle cx="685.22" cy="1152.72" r="6.1"/><circle cx="687.43" cy="1161.34" r="6.1"/><circle cx="689.65" cy="1166.46" r="6.1"/><circle cx="691.86" cy="1173.66" r="6.1"/><circle cx="694.07" cy="1176.43" r="6.1"/><circle cx="696.28" cy="1185.44" r="6.1"/><circle cx="698.49" cy="1190.79" r="6.1"/><circle cx="700.71" cy="1198.67" r="6.1"/><circle cx="702.92" cy="1199.31" r="6.1"/><circle cx="705.13" cy="1202.01" r="6.1"/><circle cx="707.34" cy="1203.56" r="6.1"/><circle cx="709.56" cy="1205.31" r="6.1"/><circle cx="711.77" cy="1209.37" r="6.1"/><circle cx="713.98" cy="1212.02" r="6.1"/><circle cx="716.19" cy="1216.78" r="6.1"/><circle cx="718.41" cy="1216.27" r="6.1"/><circle cx="720.62" cy="1219.88" r="6.1"/><circle cx="722.83" cy="1222.02" r="6.1"/><circle cx="725.04" cy="1222.61" r="6.1"/><circle cx="727.25" cy="1225.01" r="6.1"/><circle cx="729.47" cy="1232.78" r="6.1"/><circle cx="731.68" cy="1235.71" r="6.1"/><circle cx="733.89" cy="1240.88" r="6.1"/><circle cx="736.1" cy="1244.76" r="6.1"/><circle cx="738.32" cy="1251.28" r="6.1"/><circle cx="740.53" cy="1251.77" r="6.1"/><circle cx="742.74" cy="1252.58" r="6.1"/><circle cx="744.95" cy="1254.49" r="6.1"/><circle cx="747.17" cy="1252.5" r="6.1"/><circle cx="749.38" cy="1255.74" r="6.1"/><circle cx="751.59" cy="1256.31" r="6.1"/><circle cx="753.8" cy="1255.68" r="6.1"/><circle cx="756.01" cy="1256.22" r="6.1"/><circle cx="758.23" cy="1256.64" r="6.1"/><circle cx="760.44" cy="1254.73" r="6.1"/><circle cx="762.65" cy="1252.73" r="6.1"/><circle cx="764.86" cy="1254.98" r="6.1"/><circle cx="767.08" cy="1249.78" r="6.1"/><circle cx="769.29" cy="1244.74" r="6.1"/><circle cx="771.5" cy="1242.36" r="6.1"/><circle cx="773.71" cy="1238.18" r="6.1"/><circle cx="775.93" cy="1233.43" r="6.1"/><circle cx="778.14" cy="1228.93" r="6.1"/><circle cx="780.35" cy="1223.68" r="6.1"/><circle cx="782.56" cy="1220.65" r="6.1"/><circle cx="784.77" cy="1214.94" r="6.1"/><circle cx="786.99" cy="1211.9" r="6.1"/><circle cx="789.2" cy="1202.14" r="6.1"/><circle cx="791.41" cy="1201.15" r="6.1"/><circle cx="793.62" cy="1196.03" r="6.1"/><circle cx="795.84" cy="1189.65" r="6.1"/><circle cx="798.05" cy="1187.34" r="6.1"/><circle cx="800.26" cy="1184.48" r="6.1"/><circle cx="802.47" cy="1181.83" r="6.1"/><circle cx="804.69" cy="1182.2" r="6.1"/><circle cx="806.9" cy="1177.17" r="6.1"/><circle cx="809.11" cy="1172.72" r="6.1"/><circle cx="811.32" cy="1168.75" r="6.1"/><circle cx="813.53" cy="1163.11" r="6.1"/><circle cx="815.75" cy="1161.72" r="6.1"/><circle cx="817.96" cy="1163.11" r="6.1"/><circle cx="820.17" cy="1165.58" r="6.1"/><circle cx="822.38" cy="1165.45" r="6.1"/><circle cx="824.6" cy="1164.06" r="6.1"/><circle cx="826.81" cy="1163.02" r="6.1"/><circle cx="829.02" cy="1162.69" r="6.1"/><circle cx="831.23" cy="1164.5" r="6.1"/><circle cx="833.45" cy="1167.62" r="6.1"/><circle cx="835.66" cy="1166.09" r="6.1"/><circle cx="837.87" cy="1170.1" r="6.1"/><circle cx="840.08" cy="1176.41" r="6.1"/><circle cx="842.29" cy="1180.37" r="6.1"/><circle cx="844.51" cy="1187.68" r="6.1"/><circle cx="846.72" cy="1194.56" r="6.1"/><circle cx="848.93" cy="1197.23" r="6.1"/><circle cx="851.14" cy="1202.18" r="6.1"/><circle cx="853.36" cy="1204.48" r="6.1"/><circle cx="855.57" cy="1210.87" r="6.1"/><circle cx="857.78" cy="1217.02" r="6.1"/><circle cx="859.99" cy="1224.06" r="6.1"/><circle cx="862.2" cy="1231.49" r="6.1"/><circle cx="864.42" cy="1230.55" r="6.1"/><circle cx="866.63" cy="1233.26" r="6.1"/><circle cx="868.84" cy="1238.34" r="6.1"/><circle cx="871.05" cy="1242.49" r="6.1"/><circle cx="873.27" cy="1246.7" r="6.1"/><circle cx="875.48" cy="1247.5" r="6.1"/><circle cx="877.69" cy="1248.86" r="6.1"/><circle cx="879.9" cy="1249.59" r="6.1"/><circle cx="882.12" cy="1251.95" r="6.1"/><circle cx="884.33" cy="1254.57" r="6.1"/><circle cx="886.54" cy="1257.91" r="6.1"/><circle cx="888.75" cy="1258.99" r="6.1"/><circle cx="890.96" cy="1260.88" r="6.1"/><circle cx="893.18" cy="1259.62" r="6.1"/><circle cx="895.39" cy="1263.29" r="6.1"/><circle cx="897.6" cy="1267.36" r="6.1"/><circle cx="899.81" cy="1268.87" r="6.1"/><circle cx="902.03" cy="1269.87" r="6.1"/><circle cx="904.24" cy="1272.01" r="6.1"/><circle cx="906.45" cy="1275.34" r="6.1"/><circle cx="908.66" cy="1275.95" r="6.1"/><circle cx="910.88" cy="1276.14" r="6.1"/><circle cx="913.09" cy="1278.56" r="6.1"/><circle cx="915.3" cy="1279.12" r="6.1"/><circle cx="917.51" cy="1280.03" r="6.1"/><circle cx="919.72" cy="1280.4" r="6.1"/><circle cx="921.94" cy="1281.07" r="6.1"/><circle cx="924.15" cy="1280.07" r="6.1"/><circle cx="926.36" cy="1280.96" r="6.1"/><circle cx="928.57" cy="1280.01" r="6.1"/><circle cx="930.79" cy="1280.43" r="6.1"/><circle cx="933" cy="1279.57" r="6.1"/><circle cx="935.21" cy="1279.91" r="6.1"/><circle cx="937.42" cy="1279.09" r="6.1"/><circle cx="939.64" cy="1278.08" r="6.1"/><circle cx="941.85" cy="1280" r="6.1"/><circle cx="944.06" cy="1278.31" r="6.1"/><circle cx="946.27" cy="1278.21" r="6.1"/><circle cx="948.48" cy="1277.86" r="6.1"/><circle cx="950.7" cy="1275.34" r="6.1"/><circle cx="952.91" cy="1275.57" r="6.1"/><circle cx="955.12" cy="1276.7" r="6.1"/><circle cx="957.33" cy="1274.06" r="6.1"/><circle cx="959.55" cy="1273.54" r="6.1"/><circle cx="961.76" cy="1271.82" r="6.1"/><circle cx="963.97" cy="1270.85" r="6.1"/><circle cx="966.18" cy="1269.71" r="6.1"/><circle cx="968.4" cy="1267.32" r="6.1"/><circle cx="970.61" cy="1266.91" r="6.1"/><circle cx="972.82" cy="1265.29" r="6.1"/><circle cx="975.03" cy="1264.98" r="6.1"/><circle cx="977.24" cy="1263.84" r="6.1"/><circle cx="979.46" cy="1263.01" r="6.1"/><circle cx="981.67" cy="1261.28" r="6.1"/><circle cx="983.88" cy="1260.33" r="6.1"/><circle cx="986.09" cy="1256.08" r="6.1"/><circle cx="988.31" cy="1254.5" r="6.1"/><circle cx="990.52" cy="1251.57" r="6.1"/><circle cx="992.73" cy="1250.76" r="6.1"/><circle cx="994.94" cy="1250.62" r="6.1"/><circle cx="997.16" cy="1245.25" r="6.1"/><circle cx="999.37" cy="1243.28" r="6.1"/><circle cx="1001.58" cy="1241.38" r="6.1"/><circle cx="1003.79" cy="1236.04" r="6.1"/><circle cx="1006" cy="1232.32" r="6.1"/><circle cx="1008.22" cy="1230.7" r="6.1"/><circle cx="1010.43" cy="1227.64" r="6.1"/><circle cx="1012.64" cy="1226.47" r="6.1"/><circle cx="1014.85" cy="1219.62" r="6.1"/><circle cx="1017.07" cy="1220.67" r="6.1"/><circle cx="1019.28" cy="1221.81" r="6.1"/><circle cx="1021.49" cy="1219.95" r="6.1"/><circle cx="1023.7" cy="1219.32" r="6.1"/><circle cx="1025.92" cy="1217.02" r="6.1"/><circle cx="1028.13" cy="1216.93" r="6.1"/><circle cx="1030.34" cy="1216.24" r="6.1"/><circle cx="1032.55" cy="1217.19" r="6.1"/><circle cx="1034.76" cy="1217.74" r="6.1"/><circle cx="1036.98" cy="1219.68" r="6.1"/><circle cx="1039.19" cy="1221.05" r="6.1"/><circle cx="1041.4" cy="1223.64" r="6.1"/><circle cx="1043.61" cy="1226.85" r="6.1"/><circle cx="1045.83" cy="1234.14" r="6.1"/><circle cx="1048.04" cy="1235.77" r="6.1"/><circle cx="1050.25" cy="1238.59" r="6.1"/><circle cx="1052.46" cy="1244.12" r="6.1"/><circle cx="1054.68" cy="1246.99" r="6.1"/><circle cx="1056.89" cy="1250.58" r="6.1"/><circle cx="1059.1" cy="1256.54" r="6.1"/><circle cx="1061.31" cy="1262.74" r="6.1"/><circle cx="1063.52" cy="1265.88" r="6.1"/><circle cx="1065.74" cy="1271.62" r="6.1"/><circle cx="1067.95" cy="1274.52" r="6.1"/><circle cx="1070.16" cy="1276.59" r="6.1"/><circle cx="1072.37" cy="1279.5" r="6.1"/><circle cx="1074.59" cy="1282.3" r="6.1"/><circle cx="1076.8" cy="1282.23" r="6.1"/><circle cx="1079.01" cy="1284.07" r="6.1"/><circle cx="1081.22" cy="1284.73" r="6.1"/><circle cx="1083.43" cy="1285.28" r="6.1"/><circle cx="1085.65" cy="1286.21" r="6.1"/><circle cx="1087.86" cy="1286.07" r="6.1"/><circle cx="1090.07" cy="1286.37" r="6.1"/><circle cx="1092.28" cy="1286.47" r="6.1"/><circle cx="1094.5" cy="1286.04" r="6.1"/><circle cx="1096.71" cy="1285.28" r="6.1"/><circle cx="1098.92" cy="1285.79" r="6.1"/><circle cx="1101.13" cy="1284.91" r="6.1"/><circle cx="1103.35" cy="1285.11" r="6.1"/><circle cx="1105.56" cy="1284.57" r="6.1"/><circle cx="1107.77" cy="1285.79" r="6.1"/><circle cx="1109.98" cy="1285.61" r="6.1"/><circle cx="1112.19" cy="1286.26" r="6.1"/><circle cx="1114.41" cy="1287.27" r="6.1"/><circle cx="1116.62" cy="1287.27" r="6.1"/><circle cx="1118.83" cy="1289.4" r="6.1"/><circle cx="1121.04" cy="1290.59" r="6.1"/><circle cx="1123.26" cy="1289.86" r="6.1"/><circle cx="1125.47" cy="1291.84" r="6.1"/><circle cx="1127.68" cy="1292.04" r="6.1"/><circle cx="1129.89" cy="1291.74" r="6.1"/><circle cx="1132.11" cy="1292.85" r="6.1"/><circle cx="1134.32" cy="1293.05" r="6.1"/><circle cx="1136.53" cy="1291.06" r="6.1"/><circle cx="1138.74" cy="1290.12" r="6.1"/><circle cx="1140.95" cy="1285.54" r="6.1"/><circle cx="1143.17" cy="1281.61" r="6.1"/><circle cx="1145.38" cy="1279.89" r="6.1"/><circle cx="1147.59" cy="1279.26" r="6.1"/><circle cx="1149.8" cy="1274.35" r="6.1"/><circle cx="1152.02" cy="1268.9" r="6.1"/><circle cx="1154.23" cy="1264.06" r="6.1"/><circle cx="1156.44" cy="1259.22" r="6.1"/><circle cx="1158.65" cy="1254.11" r="6.1"/><circle cx="1160.87" cy="1246.98" r="6.1"/><circle cx="1163.08" cy="1241.43" r="6.1"/><circle cx="1165.29" cy="1232.01" r="6.1"/><circle cx="1167.5" cy="1222.51" r="6.1"/><circle cx="1169.71" cy="1209.37" r="6.1"/><circle cx="1171.93" cy="1207.07" r="6.1"/><circle cx="1174.14" cy="1197.78" r="6.1"/><circle cx="1176.35" cy="1183.25" r="6.1"/><circle cx="1178.56" cy="1170.78" r="6.1"/></g><circle cx="1180.78" cy="1161.99" r="11.1" fill="#6d9bcb" stroke="#ffffff" stroke-width="1.3"/><rect x="1099.5" y="1051.5" width="121" height="93.5" rx="13" ry="13" fill="#ffffff" fill-opacity="0.88" stroke="#e4e4e4" stroke-width="2.5"/><text x="1159" y="1088.8" font-size="19" font-weight="bold" fill="#555555" text-anchor="middle">7/7/2021</text><text x="1160" y="1122.6" font-size="19" fill="#6a9bcc" text-anchor="middle">IA 14d: 395</text></svg></body></html>
